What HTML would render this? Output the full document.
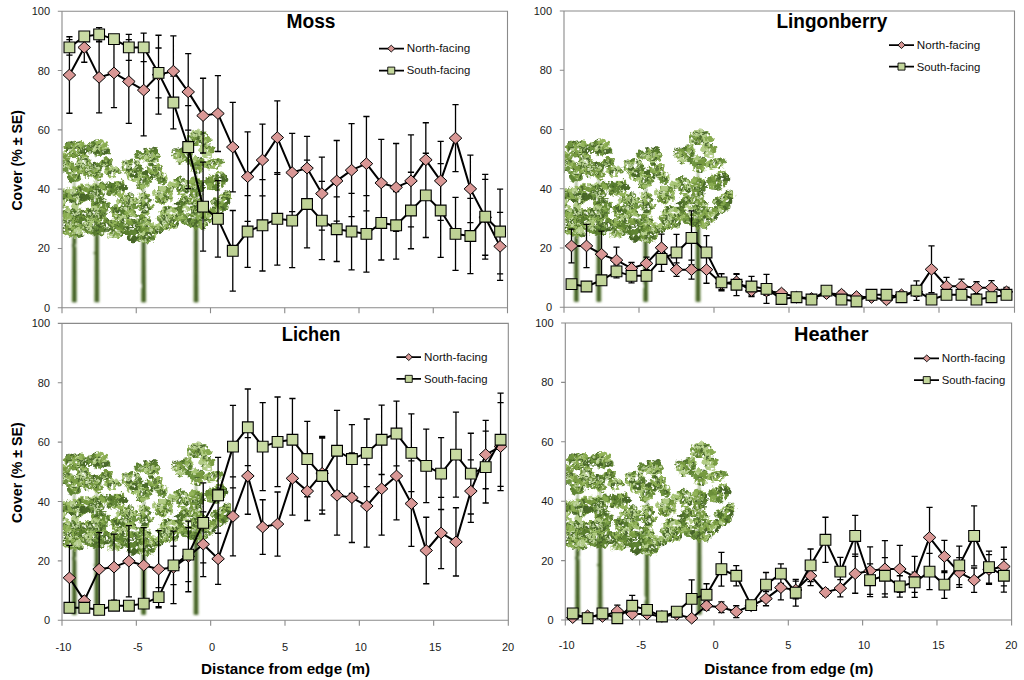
<!DOCTYPE html>
<html lang="en"><head><meta charset="utf-8"><title>Cover by distance from edge</title>
<style>html,body{margin:0;padding:0;background:#fff}body{width:1024px;height:680px;overflow:hidden}svg{display:block}.tk{font:11px 'Liberation Sans', sans-serif;fill:#1a1a1a}.ax{font:bold 14.4px 'Liberation Sans', sans-serif;fill:#000}.ti{font:bold 19.4px 'Liberation Sans', sans-serif;fill:#000}.lg{font:10.9px 'Liberation Sans', sans-serif;fill:#111}.ln{fill:none;stroke:#000;stroke-width:2;stroke-linejoin:round}</style></head><body>
<svg width="1024" height="680" viewBox="0 0 1024 680">
<defs>
<filter id="tk" x="-5%" y="-5%" width="110%" height="110%"><feTurbulence type="fractalNoise" baseFrequency="0.12" numOctaves="1" seed="2" result="n"/><feDisplacementMap in="SourceGraphic" in2="n" scale="2.2" xChannelSelector="R" yChannelSelector="G"/><feGaussianBlur stdDeviation="0.9"/></filter>
<filter id="tb" x="-5%" y="-5%" width="110%" height="110%" color-interpolation-filters="sRGB"><feTurbulence type="fractalNoise" baseFrequency="0.23" numOctaves="2" seed="4" result="n"/><feDisplacementMap in="SourceGraphic" in2="n" scale="6" xChannelSelector="R" yChannelSelector="G" result="d"/><feColorMatrix in="n" type="matrix" values="0 0 0 0 0  0 0 0 0 0  0 0 0 0 0  0 0 9 0 -2.25" result="m"/><feComposite in="d" in2="m" operator="in" result="e"/><feGaussianBlur in="e" stdDeviation="0.5"/></filter>
<linearGradient id="gs" x1="0" y1="0" x2="0" y2="1"><stop offset="0" stop-color="#c9dba4"/><stop offset="1" stop-color="#bdd193"/></linearGradient>
<clipPath id="c-moss"><rect x="62.5" y="11.25" width="445.5" height="296.5"/></clipPath>
<clipPath id="c-ling"><rect x="564.5" y="11" width="450.5" height="296.25"/></clipPath>
<clipPath id="c-lich"><rect x="62.5" y="323.4" width="446.3" height="296.85"/></clipPath>
<clipPath id="c-heat"><rect x="565.8" y="323" width="446.3" height="297"/></clipPath>
<g id="trees">
<g filter="url(#tk)"><path d="M9.8 -5.5 L10.2 -68.5 L11.9 -132.5 L12.7 -132.5 L14.4 -68.5 L14.8 -5.5 Z" fill="#64853c"/><path d="M12.5 -5.5 L12.4 -72.5" stroke="#36501e" stroke-width="2.6" fill="none" opacity=".85"/><path d="M32.3 -5.5 L32.7 -68.5 L34.4 -132.5 L35.2 -132.5 L36.9 -68.5 L37.3 -5.5 Z" fill="#64853c"/><path d="M35 -5.5 L34.9 -72.5" stroke="#36501e" stroke-width="2.6" fill="none" opacity=".85"/><path d="M79.1 -5.5 L79.5 -62 L81.2 -126 L82 -126 L83.7 -62 L84.1 -5.5 Z" fill="#64853c"/><path d="M81.8 -5.5 L81.7 -66" stroke="#36501e" stroke-width="2.6" fill="none" opacity=".85"/><path d="M131.5 -5.5 L131.9 -77 L133.6 -141 L134.4 -141 L136.1 -77 L136.5 -5.5 Z" fill="#64853c"/><path d="M134.2 -5.5 L134.1 -81" stroke="#36501e" stroke-width="2.6" fill="none" opacity=".85"/></g>
<g filter="url(#tb)">
<ellipse cx="-2.96" cy="-92.67" rx="2.67" ry="2.18" fill="#76993f"/>
<ellipse cx="15.9" cy="-160.96" rx="2.71" ry="2.22" fill="#93b45a"/>
<ellipse cx="159.68" cy="-99.91" rx="2.87" ry="2.35" fill="#7a9d43"/>
<ellipse cx="29.98" cy="-141.08" rx="3.7" ry="3.03" fill="#7a9d43"/>
<ellipse cx="35.78" cy="-138.24" rx="4.61" ry="3.77" fill="#587c2e"/>
<ellipse cx="54.8" cy="-72.14" rx="3.18" ry="2.6" fill="#9aba64"/>
<ellipse cx="11.49" cy="-152.7" rx="3.06" ry="2.5" fill="#76993f"/>
<ellipse cx="22.14" cy="-78.35" rx="4.51" ry="3.69" fill="#5f8433"/>
<ellipse cx="34.91" cy="-116.93" rx="3.2" ry="2.62" fill="#b2cc86"/>
<ellipse cx="48.83" cy="-72.93" rx="3.81" ry="3.11" fill="#b2cc86"/>
<ellipse cx="82.47" cy="-94.74" rx="3.01" ry="2.46" fill="#88ab50"/>
<ellipse cx="122.38" cy="-110.76" rx="3.64" ry="2.98" fill="#b2cc86"/>
<ellipse cx="9.04" cy="-79.89" rx="4.57" ry="3.74" fill="#93b45a"/>
<ellipse cx="14.55" cy="-117.8" rx="3.35" ry="2.74" fill="#4a6a28"/>
<ellipse cx="17.39" cy="-106.84" rx="3.18" ry="2.6" fill="#76993f"/>
<ellipse cx="71.89" cy="-89.39" rx="4.21" ry="3.44" fill="#6f9440"/>
<ellipse cx="29.73" cy="-139.37" rx="3.34" ry="2.73" fill="#9aba64"/>
<ellipse cx="55.1" cy="-94.52" rx="4.21" ry="3.45" fill="#7a9d43"/>
<ellipse cx="155.93" cy="-123.93" rx="4.58" ry="3.74" fill="#5f8433"/>
<ellipse cx="146.8" cy="-140.62" rx="2.98" ry="2.44" fill="#b2cc86"/>
<ellipse cx="20.06" cy="-149.7" rx="3.19" ry="2.61" fill="#587c2e"/>
<ellipse cx="116.73" cy="-156.82" rx="4.53" ry="3.71" fill="#4a6a28"/>
<ellipse cx="0.01" cy="-77.85" rx="3.76" ry="3.08" fill="#5f8433"/>
<ellipse cx="25.9" cy="-79.8" rx="2.7" ry="2.21" fill="#4a6a28"/>
<ellipse cx="166.12" cy="-110.93" rx="4.03" ry="3.3" fill="#93b45a"/>
<ellipse cx="52.03" cy="-73.8" rx="3.59" ry="2.94" fill="#a6c474"/>
<ellipse cx="17.71" cy="-75" rx="3.23" ry="2.64" fill="#a6c474"/>
<ellipse cx="68.23" cy="-89.26" rx="4.6" ry="3.77" fill="#6f9440"/>
<ellipse cx="49.14" cy="-80.31" rx="3.61" ry="2.95" fill="#88ab50"/>
<ellipse cx="80.14" cy="-106" rx="3" ry="2.45" fill="#88ab50"/>
<ellipse cx="16.84" cy="-105.95" rx="3.54" ry="2.9" fill="#93b45a"/>
<ellipse cx="24.83" cy="-96.1" rx="4.03" ry="3.3" fill="#88ab50"/>
<ellipse cx="9.32" cy="-88.71" rx="4.56" ry="3.73" fill="#b2cc86"/>
<ellipse cx="122.49" cy="-107.35" rx="3.58" ry="2.93" fill="#6f9440"/>
<ellipse cx="14.68" cy="-110.44" rx="3.08" ry="2.52" fill="#4a6a28"/>
<ellipse cx="16.97" cy="-164.18" rx="3.86" ry="3.15" fill="#587c2e"/>
<ellipse cx="62.16" cy="-79.62" rx="4.28" ry="3.5" fill="#88ab50"/>
<ellipse cx="7.08" cy="-79.95" rx="3.84" ry="3.14" fill="#6f9440"/>
<ellipse cx="96.02" cy="-134.76" rx="2.73" ry="2.24" fill="#b2cc86"/>
<ellipse cx="142.93" cy="-171.27" rx="2.89" ry="2.37" fill="#a6c474"/>
<ellipse cx="65.26" cy="-105.88" rx="4.46" ry="3.65" fill="#6f9440"/>
<ellipse cx="77.9" cy="-76.89" rx="2.72" ry="2.22" fill="#6f9440"/>
<ellipse cx="131.51" cy="-99.47" rx="3.55" ry="2.91" fill="#9aba64"/>
<ellipse cx="104.31" cy="-93.15" rx="4.19" ry="3.43" fill="#5f8433"/>
<ellipse cx="140.43" cy="-97.69" rx="4.24" ry="3.47" fill="#88ab50"/>
<ellipse cx="158.96" cy="-106.94" rx="3.2" ry="2.62" fill="#4a6a28"/>
<ellipse cx="99.89" cy="-84.57" rx="2.74" ry="2.24" fill="#7a9d43"/>
<ellipse cx="102.21" cy="-109.32" rx="3.83" ry="3.13" fill="#6a8e38"/>
<ellipse cx="36.27" cy="-79.15" rx="3.77" ry="3.09" fill="#6f9440"/>
<ellipse cx="14.36" cy="-92.34" rx="3.36" ry="2.75" fill="#a6c474"/>
<ellipse cx="120.52" cy="-120.19" rx="3.19" ry="2.61" fill="#93b45a"/>
<ellipse cx="121.33" cy="-123.58" rx="3.78" ry="3.09" fill="#5f8433"/>
<ellipse cx="-16.42" cy="-84.68" rx="2.86" ry="2.34" fill="#7a9d43"/>
<ellipse cx="12.32" cy="-87.93" rx="3.69" ry="3.02" fill="#5f8433"/>
<ellipse cx="132.35" cy="-119.61" rx="4.09" ry="3.35" fill="#4a6a28"/>
<ellipse cx="7.62" cy="-84.61" rx="3.6" ry="2.94" fill="#93b45a"/>
<ellipse cx="158.84" cy="-134.01" rx="3.84" ry="3.14" fill="#93b45a"/>
<ellipse cx="-0.74" cy="-116.04" rx="4.2" ry="3.44" fill="#587c2e"/>
<ellipse cx="122" cy="-107.25" rx="4.42" ry="3.62" fill="#b2cc86"/>
<ellipse cx="114.38" cy="-97.55" rx="3.88" ry="3.18" fill="#76993f"/>
<ellipse cx="26.65" cy="-91.94" rx="2.97" ry="2.43" fill="#6f9440"/>
<ellipse cx="94.78" cy="-112.8" rx="3.26" ry="2.67" fill="#9aba64"/>
<ellipse cx="-15.81" cy="-81.75" rx="3.69" ry="3.02" fill="#88ab50"/>
<ellipse cx="19.76" cy="-111.34" rx="3.35" ry="2.74" fill="#5f8433"/>
<ellipse cx="25.95" cy="-95.93" rx="4.29" ry="3.51" fill="#b2cc86"/>
<ellipse cx="152.22" cy="-121.61" rx="4.6" ry="3.76" fill="#6f9440"/>
<ellipse cx="95.58" cy="-77.43" rx="4.14" ry="3.38" fill="#88ab50"/>
<ellipse cx="67.65" cy="-93.77" rx="4.18" ry="3.42" fill="#9aba64"/>
<ellipse cx="13.19" cy="-92.97" rx="3.93" ry="3.22" fill="#6f9440"/>
<ellipse cx="-5.11" cy="-107.41" rx="4.47" ry="3.65" fill="#93b45a"/>
<ellipse cx="20.72" cy="-141.33" rx="4.49" ry="3.68" fill="#a6c474"/>
<ellipse cx="86.81" cy="-74.95" rx="2.82" ry="2.31" fill="#7a9d43"/>
<ellipse cx="63.86" cy="-104.25" rx="3.78" ry="3.09" fill="#6f9440"/>
<ellipse cx="121.52" cy="-106.22" rx="4.43" ry="3.62" fill="#88ab50"/>
<ellipse cx="31.49" cy="-76.11" rx="3.63" ry="2.97" fill="#93b45a"/>
<ellipse cx="46.36" cy="-86.13" rx="2.96" ry="2.42" fill="#93b45a"/>
<ellipse cx="64.32" cy="-144.88" rx="3.19" ry="2.61" fill="#88ab50"/>
<ellipse cx="61.01" cy="-94.52" rx="3.37" ry="2.76" fill="#587c2e"/>
<ellipse cx="109.84" cy="-82.75" rx="2.82" ry="2.31" fill="#b2cc86"/>
<ellipse cx="-12.98" cy="-81.09" rx="3.46" ry="2.83" fill="#587c2e"/>
<ellipse cx="-0.15" cy="-77.67" rx="2.84" ry="2.33" fill="#a6c474"/>
<ellipse cx="23.48" cy="-113.02" rx="4.29" ry="3.51" fill="#b2cc86"/>
<ellipse cx="104.92" cy="-80.03" rx="3.89" ry="3.19" fill="#88ab50"/>
<ellipse cx="148.58" cy="-159.18" rx="2.73" ry="2.24" fill="#76993f"/>
<ellipse cx="-14.02" cy="-82.22" rx="2.91" ry="2.38" fill="#b2cc86"/>
<ellipse cx="70.5" cy="-103.78" rx="3.82" ry="3.12" fill="#88ab50"/>
<ellipse cx="133.59" cy="-169.62" rx="4.23" ry="3.46" fill="#9aba64"/>
<ellipse cx="32.8" cy="-134.99" rx="3.32" ry="2.72" fill="#b2cc86"/>
<ellipse cx="35.5" cy="-103.86" rx="4.38" ry="3.58" fill="#b2cc86"/>
<ellipse cx="59.1" cy="-96.99" rx="4.22" ry="3.45" fill="#6a8e38"/>
<ellipse cx="108.32" cy="-91.12" rx="3.21" ry="2.62" fill="#6a8e38"/>
<ellipse cx="27.19" cy="-81.68" rx="3.96" ry="3.24" fill="#6a8e38"/>
<ellipse cx="4.61" cy="-145.09" rx="3.52" ry="2.88" fill="#7a9d43"/>
<ellipse cx="19.34" cy="-110.49" rx="4.49" ry="3.67" fill="#4a6a28"/>
<ellipse cx="25.99" cy="-86.17" rx="3.72" ry="3.05" fill="#6a8e38"/>
<ellipse cx="144.32" cy="-94.57" rx="3.08" ry="2.52" fill="#88ab50"/>
<ellipse cx="37.15" cy="-160.98" rx="3.45" ry="2.83" fill="#a6c474"/>
<ellipse cx="95.82" cy="-113.55" rx="3.43" ry="2.81" fill="#93b45a"/>
<ellipse cx="56.85" cy="-99.53" rx="2.95" ry="2.41" fill="#5f8433"/>
<ellipse cx="12.99" cy="-101.98" rx="3.95" ry="3.24" fill="#b2cc86"/>
<ellipse cx="65.46" cy="-144.12" rx="3.95" ry="3.23" fill="#76993f"/>
<ellipse cx="82.54" cy="-68.49" rx="3.23" ry="2.64" fill="#4a6a28"/>
<ellipse cx="85.35" cy="-75.93" rx="3.88" ry="3.18" fill="#9aba64"/>
<ellipse cx="18.1" cy="-109.35" rx="3.22" ry="2.63" fill="#93b45a"/>
<ellipse cx="12.04" cy="-155.75" rx="2.79" ry="2.28" fill="#6a8e38"/>
<ellipse cx="145.11" cy="-94.21" rx="3.56" ry="2.91" fill="#9aba64"/>
<ellipse cx="45.21" cy="-101.25" rx="3.02" ry="2.47" fill="#587c2e"/>
<ellipse cx="43.86" cy="-163.39" rx="2.71" ry="2.21" fill="#88ab50"/>
<ellipse cx="137.11" cy="-167.88" rx="3.43" ry="2.8" fill="#93b45a"/>
<ellipse cx="114.39" cy="-90.28" rx="3.23" ry="2.64" fill="#5f8433"/>
<ellipse cx="112.66" cy="-94.87" rx="4.2" ry="3.43" fill="#4a6a28"/>
<ellipse cx="93.15" cy="-115.08" rx="3.32" ry="2.71" fill="#b2cc86"/>
<ellipse cx="4.03" cy="-147.47" rx="2.66" ry="2.18" fill="#4a6a28"/>
<ellipse cx="78.96" cy="-69.01" rx="4.52" ry="3.7" fill="#587c2e"/>
<ellipse cx="8.8" cy="-74.97" rx="4.58" ry="3.74" fill="#88ab50"/>
<ellipse cx="83.13" cy="-154.04" rx="2.69" ry="2.2" fill="#a6c474"/>
<ellipse cx="54.33" cy="-115.95" rx="3.14" ry="2.57" fill="#9aba64"/>
<ellipse cx="35.3" cy="-95.42" rx="3.35" ry="2.74" fill="#4a6a28"/>
<ellipse cx="25.88" cy="-83.23" rx="2.65" ry="2.16" fill="#6f9440"/>
<ellipse cx="13.91" cy="-131.19" rx="3.63" ry="2.97" fill="#93b45a"/>
<ellipse cx="28.9" cy="-159.49" rx="4.34" ry="3.55" fill="#7a9d43"/>
<ellipse cx="113.74" cy="-153.79" rx="3.98" ry="3.26" fill="#6a8e38"/>
<ellipse cx="64.06" cy="-138.68" rx="3.74" ry="3.06" fill="#6a8e38"/>
<ellipse cx="2" cy="-82.06" rx="3.11" ry="2.55" fill="#4a6a28"/>
<ellipse cx="149.22" cy="-129.37" rx="2.93" ry="2.4" fill="#88ab50"/>
<ellipse cx="116.83" cy="-120.88" rx="2.94" ry="2.41" fill="#b2cc86"/>
<ellipse cx="14.39" cy="-95.36" rx="3.22" ry="2.63" fill="#b2cc86"/>
<ellipse cx="68.81" cy="-134.07" rx="4.38" ry="3.59" fill="#6a8e38"/>
<ellipse cx="136.51" cy="-126.24" rx="4.08" ry="3.34" fill="#93b45a"/>
<ellipse cx="78.53" cy="-121.2" rx="3.69" ry="3.02" fill="#6a8e38"/>
<ellipse cx="117.47" cy="-146.36" rx="3.37" ry="2.75" fill="#93b45a"/>
<ellipse cx="80.28" cy="-89.48" rx="4.49" ry="3.68" fill="#76993f"/>
<ellipse cx="-3.56" cy="-145.84" rx="4.1" ry="3.36" fill="#76993f"/>
<ellipse cx="9.91" cy="-85.82" rx="3.62" ry="2.96" fill="#587c2e"/>
<ellipse cx="46.99" cy="-85.12" rx="4.03" ry="3.3" fill="#76993f"/>
<ellipse cx="35.35" cy="-93.68" rx="4.49" ry="3.67" fill="#76993f"/>
<ellipse cx="153.83" cy="-145.34" rx="4.6" ry="3.76" fill="#5f8433"/>
<ellipse cx="17.6" cy="-159.26" rx="3.94" ry="3.22" fill="#76993f"/>
<ellipse cx="147.49" cy="-86.89" rx="3.3" ry="2.7" fill="#88ab50"/>
<ellipse cx="35.73" cy="-105.54" rx="4.32" ry="3.54" fill="#6f9440"/>
<ellipse cx="86.83" cy="-107.46" rx="2.77" ry="2.27" fill="#587c2e"/>
<ellipse cx="8.34" cy="-112.49" rx="4.53" ry="3.7" fill="#b2cc86"/>
<ellipse cx="71.75" cy="-108.09" rx="2.98" ry="2.44" fill="#a6c474"/>
<ellipse cx="102.73" cy="-118.33" rx="3.6" ry="2.95" fill="#76993f"/>
<ellipse cx="2.31" cy="-113.76" rx="3.02" ry="2.47" fill="#6f9440"/>
<ellipse cx="-3.54" cy="-97.35" rx="4.49" ry="3.67" fill="#b2cc86"/>
<ellipse cx="81.08" cy="-87.32" rx="4" ry="3.27" fill="#587c2e"/>
<ellipse cx="130" cy="-171.86" rx="4.11" ry="3.36" fill="#587c2e"/>
<ellipse cx="123.38" cy="-88.69" rx="2.78" ry="2.27" fill="#5f8433"/>
<ellipse cx="14.82" cy="-85.99" rx="2.87" ry="2.35" fill="#a6c474"/>
<ellipse cx="107.17" cy="-98.96" rx="4.45" ry="3.64" fill="#88ab50"/>
<ellipse cx="44.16" cy="-80.68" rx="2.73" ry="2.23" fill="#6a8e38"/>
<ellipse cx="135" cy="-137.35" rx="3.5" ry="2.87" fill="#9aba64"/>
<ellipse cx="131.17" cy="-142.96" rx="4.23" ry="3.46" fill="#93b45a"/>
<ellipse cx="51.25" cy="-134.93" rx="3.67" ry="3" fill="#5f8433"/>
<ellipse cx="21.79" cy="-94.37" rx="4.27" ry="3.49" fill="#9aba64"/>
<ellipse cx="154.1" cy="-146.17" rx="4.53" ry="3.71" fill="#7a9d43"/>
<ellipse cx="64.03" cy="-140.68" rx="4.47" ry="3.65" fill="#5f8433"/>
<ellipse cx="27.48" cy="-138.52" rx="3.16" ry="2.58" fill="#b2cc86"/>
<ellipse cx="9.5" cy="-108.11" rx="3.54" ry="2.9" fill="#4a6a28"/>
<ellipse cx="137.42" cy="-173.37" rx="3.18" ry="2.6" fill="#5f8433"/>
<ellipse cx="35.39" cy="-111.98" rx="3.62" ry="2.96" fill="#7a9d43"/>
<ellipse cx="46.71" cy="-81.28" rx="4.59" ry="3.76" fill="#5f8433"/>
<ellipse cx="120.26" cy="-116.47" rx="3.83" ry="3.13" fill="#6f9440"/>
<ellipse cx="86.86" cy="-82.03" rx="4.35" ry="3.56" fill="#a6c474"/>
<ellipse cx="51.67" cy="-114.6" rx="4.23" ry="3.46" fill="#4a6a28"/>
<ellipse cx="90.29" cy="-76.81" rx="3.34" ry="2.73" fill="#93b45a"/>
<ellipse cx="120.54" cy="-100.7" rx="3.65" ry="2.99" fill="#b2cc86"/>
<ellipse cx="105.55" cy="-97.24" rx="4.37" ry="3.57" fill="#b2cc86"/>
<ellipse cx="104.21" cy="-90.56" rx="3.92" ry="3.21" fill="#a6c474"/>
<ellipse cx="49.27" cy="-133.54" rx="4.02" ry="3.29" fill="#9aba64"/>
<ellipse cx="7.77" cy="-82.34" rx="4.2" ry="3.44" fill="#9aba64"/>
<ellipse cx="62.52" cy="-100.49" rx="3.13" ry="2.56" fill="#4a6a28"/>
<ellipse cx="107.06" cy="-85.23" rx="2.96" ry="2.42" fill="#6a8e38"/>
<ellipse cx="24.84" cy="-80.86" rx="4.02" ry="3.29" fill="#a6c474"/>
<ellipse cx="98.92" cy="-117.6" rx="2.95" ry="2.41" fill="#7a9d43"/>
<ellipse cx="7.71" cy="-85.24" rx="3.14" ry="2.57" fill="#7a9d43"/>
<ellipse cx="83.73" cy="-72.29" rx="3.62" ry="2.96" fill="#a6c474"/>
<ellipse cx="11.32" cy="-115.08" rx="3.99" ry="3.27" fill="#7a9d43"/>
<ellipse cx="32.4" cy="-92.88" rx="3.41" ry="2.79" fill="#4a6a28"/>
<ellipse cx="151.72" cy="-106.2" rx="3.21" ry="2.62" fill="#a6c474"/>
<ellipse cx="53.9" cy="-137.28" rx="3.02" ry="2.47" fill="#93b45a"/>
<ellipse cx="134.25" cy="-87" rx="3.02" ry="2.47" fill="#76993f"/>
<ellipse cx="64.7" cy="-97.62" rx="4.02" ry="3.29" fill="#a6c474"/>
<ellipse cx="41.93" cy="-81.64" rx="3.75" ry="3.07" fill="#76993f"/>
<ellipse cx="-8.52" cy="-112.03" rx="3.83" ry="3.13" fill="#7a9d43"/>
<ellipse cx="155.84" cy="-107.02" rx="4.49" ry="3.68" fill="#b2cc86"/>
<ellipse cx="25.31" cy="-77.42" rx="4.39" ry="3.59" fill="#6a8e38"/>
<ellipse cx="102.96" cy="-107.43" rx="3.05" ry="2.49" fill="#76993f"/>
<ellipse cx="5.29" cy="-88.36" rx="4.43" ry="3.62" fill="#76993f"/>
<ellipse cx="45.93" cy="-104.19" rx="3.19" ry="2.61" fill="#9aba64"/>
<ellipse cx="133.26" cy="-84.67" rx="4.47" ry="3.66" fill="#9aba64"/>
<ellipse cx="85.1" cy="-85.63" rx="3.42" ry="2.8" fill="#5f8433"/>
<ellipse cx="7.93" cy="-143.39" rx="4.1" ry="3.35" fill="#587c2e"/>
<ellipse cx="40.39" cy="-85.5" rx="3.38" ry="2.77" fill="#b2cc86"/>
<ellipse cx="55.09" cy="-137.53" rx="3.33" ry="2.72" fill="#7a9d43"/>
<ellipse cx="24.23" cy="-138.65" rx="3.59" ry="2.94" fill="#b2cc86"/>
<ellipse cx="84.12" cy="-123.79" rx="3.31" ry="2.7" fill="#76993f"/>
<ellipse cx="65.37" cy="-103.53" rx="3.36" ry="2.75" fill="#76993f"/>
<ellipse cx="32.9" cy="-114.63" rx="3.86" ry="3.16" fill="#4a6a28"/>
<ellipse cx="33.88" cy="-129.95" rx="2.85" ry="2.34" fill="#a6c474"/>
<ellipse cx="150.14" cy="-144.94" rx="4.4" ry="3.6" fill="#9aba64"/>
<ellipse cx="41.37" cy="-82.52" rx="4.52" ry="3.7" fill="#6a8e38"/>
<ellipse cx="41" cy="-98.58" rx="3.91" ry="3.2" fill="#5f8433"/>
<ellipse cx="49.73" cy="-81.54" rx="3.82" ry="3.12" fill="#4a6a28"/>
<ellipse cx="50.99" cy="-73.7" rx="3.4" ry="2.78" fill="#5f8433"/>
<ellipse cx="16.24" cy="-97.06" rx="3.06" ry="2.5" fill="#76993f"/>
<ellipse cx="55.26" cy="-83.81" rx="3.45" ry="2.83" fill="#a6c474"/>
<ellipse cx="75.77" cy="-74.16" rx="4.48" ry="3.67" fill="#93b45a"/>
<ellipse cx="116" cy="-151.99" rx="4.43" ry="3.63" fill="#b2cc86"/>
<ellipse cx="25.24" cy="-110.67" rx="4.51" ry="3.69" fill="#5f8433"/>
<ellipse cx="9.74" cy="-152.96" rx="4.14" ry="3.39" fill="#6a8e38"/>
<ellipse cx="78.58" cy="-101.08" rx="2.72" ry="2.23" fill="#5f8433"/>
<ellipse cx="10.28" cy="-84.68" rx="3.82" ry="3.12" fill="#9aba64"/>
<ellipse cx="102.2" cy="-87.84" rx="2.91" ry="2.38" fill="#5f8433"/>
<ellipse cx="117.44" cy="-152.74" rx="4.58" ry="3.75" fill="#76993f"/>
<ellipse cx="26.12" cy="-138.32" rx="3.64" ry="2.97" fill="#a6c474"/>
<ellipse cx="104.15" cy="-87.53" rx="3.1" ry="2.53" fill="#587c2e"/>
<ellipse cx="82.9" cy="-111.94" rx="2.74" ry="2.24" fill="#6a8e38"/>
<ellipse cx="33.81" cy="-87.23" rx="3.97" ry="3.25" fill="#6f9440"/>
<ellipse cx="26.27" cy="-138.41" rx="4.61" ry="3.77" fill="#b2cc86"/>
<ellipse cx="136.52" cy="-170.66" rx="2.71" ry="2.22" fill="#b2cc86"/>
<ellipse cx="157.95" cy="-131.92" rx="3.57" ry="2.92" fill="#93b45a"/>
<ellipse cx="16.61" cy="-110.26" rx="4.2" ry="3.44" fill="#76993f"/>
<ellipse cx="133.3" cy="-99.01" rx="4.16" ry="3.41" fill="#4a6a28"/>
<ellipse cx="108.96" cy="-87.19" rx="3.92" ry="3.21" fill="#88ab50"/>
<ellipse cx="16.65" cy="-94.81" rx="3.41" ry="2.79" fill="#88ab50"/>
<ellipse cx="39.92" cy="-119.36" rx="4.52" ry="3.7" fill="#6a8e38"/>
<ellipse cx="114.79" cy="-153.01" rx="3.08" ry="2.52" fill="#b2cc86"/>
<ellipse cx="105.24" cy="-116.73" rx="3.38" ry="2.77" fill="#5f8433"/>
<ellipse cx="14.12" cy="-131.03" rx="4.14" ry="3.39" fill="#7a9d43"/>
<ellipse cx="36" cy="-91.36" rx="2.78" ry="2.28" fill="#587c2e"/>
<ellipse cx="84.75" cy="-150.72" rx="3.93" ry="3.22" fill="#7a9d43"/>
<ellipse cx="35.23" cy="-113.71" rx="3.3" ry="2.7" fill="#a6c474"/>
<ellipse cx="37.63" cy="-113.36" rx="3.53" ry="2.89" fill="#4a6a28"/>
<ellipse cx="80.29" cy="-68.04" rx="3.41" ry="2.79" fill="#b2cc86"/>
<ellipse cx="-6.36" cy="-142.85" rx="2.81" ry="2.3" fill="#5f8433"/>
<ellipse cx="65.51" cy="-89.55" rx="3.19" ry="2.61" fill="#6f9440"/>
<ellipse cx="132.37" cy="-96.61" rx="3.89" ry="3.18" fill="#7a9d43"/>
<ellipse cx="139.01" cy="-145.53" rx="4.47" ry="3.66" fill="#6a8e38"/>
<ellipse cx="101.4" cy="-89.76" rx="3.65" ry="2.99" fill="#7a9d43"/>
<ellipse cx="134.11" cy="-110.19" rx="2.7" ry="2.21" fill="#93b45a"/>
<ellipse cx="96" cy="-130.69" rx="3.48" ry="2.85" fill="#6f9440"/>
<ellipse cx="29.89" cy="-94.13" rx="4.53" ry="3.71" fill="#9aba64"/>
<ellipse cx="64.6" cy="-136.48" rx="3.42" ry="2.8" fill="#7a9d43"/>
<ellipse cx="3.88" cy="-75.52" rx="4.57" ry="3.74" fill="#88ab50"/>
<ellipse cx="119.73" cy="-116.65" rx="3.08" ry="2.52" fill="#4a6a28"/>
<ellipse cx="91.61" cy="-132.13" rx="3.91" ry="3.2" fill="#76993f"/>
<ellipse cx="124.99" cy="-152.54" rx="3.26" ry="2.66" fill="#76993f"/>
<ellipse cx="146" cy="-154.21" rx="3.64" ry="2.98" fill="#88ab50"/>
<ellipse cx="91.21" cy="-137.83" rx="2.69" ry="2.2" fill="#5f8433"/>
<ellipse cx="88.56" cy="-152.22" rx="3.57" ry="2.92" fill="#9aba64"/>
<ellipse cx="157.04" cy="-142.39" rx="3.56" ry="2.91" fill="#b2cc86"/>
<ellipse cx="127.1" cy="-83.03" rx="3.04" ry="2.49" fill="#6f9440"/>
<ellipse cx="62.33" cy="-78.94" rx="3.56" ry="2.91" fill="#5f8433"/>
<ellipse cx="15.71" cy="-114.92" rx="2.95" ry="2.41" fill="#a6c474"/>
<ellipse cx="57.92" cy="-96.44" rx="3.57" ry="2.92" fill="#7a9d43"/>
<ellipse cx="164.77" cy="-109.92" rx="3.78" ry="3.09" fill="#7a9d43"/>
<ellipse cx="124.54" cy="-123.46" rx="3.37" ry="2.76" fill="#4a6a28"/>
<ellipse cx="133.26" cy="-89.01" rx="4.21" ry="3.44" fill="#a6c474"/>
<ellipse cx="49.68" cy="-133.17" rx="4.4" ry="3.6" fill="#9aba64"/>
<ellipse cx="121.74" cy="-125.07" rx="3.9" ry="3.19" fill="#88ab50"/>
<ellipse cx="29.84" cy="-162.1" rx="3.87" ry="3.17" fill="#7a9d43"/>
<ellipse cx="15.01" cy="-111.59" rx="4.43" ry="3.63" fill="#76993f"/>
<ellipse cx="104.67" cy="-92.58" rx="3.25" ry="2.66" fill="#a6c474"/>
<ellipse cx="70.39" cy="-88.35" rx="3.87" ry="3.17" fill="#9aba64"/>
<ellipse cx="21.71" cy="-95.21" rx="4.1" ry="3.35" fill="#76993f"/>
<ellipse cx="80.13" cy="-73.65" rx="2.96" ry="2.42" fill="#b2cc86"/>
<ellipse cx="2.94" cy="-78.44" rx="4.08" ry="3.34" fill="#76993f"/>
<ellipse cx="100.8" cy="-106.66" rx="4.04" ry="3.31" fill="#88ab50"/>
<ellipse cx="109.35" cy="-90.51" rx="2.88" ry="2.35" fill="#9aba64"/>
<ellipse cx="118.7" cy="-90.92" rx="4.5" ry="3.68" fill="#76993f"/>
<ellipse cx="33.63" cy="-138.23" rx="3.51" ry="2.87" fill="#b2cc86"/>
<ellipse cx="2.68" cy="-145.53" rx="3.72" ry="3.04" fill="#b2cc86"/>
<ellipse cx="13.76" cy="-81.65" rx="3.75" ry="3.07" fill="#587c2e"/>
<ellipse cx="31.06" cy="-90.71" rx="3.83" ry="3.13" fill="#88ab50"/>
<ellipse cx="73.64" cy="-137.18" rx="2.74" ry="2.24" fill="#6f9440"/>
<ellipse cx="135.46" cy="-169.63" rx="3.99" ry="3.26" fill="#7a9d43"/>
<ellipse cx="36.71" cy="-154.61" rx="3.94" ry="3.23" fill="#6f9440"/>
<ellipse cx="68.72" cy="-132.31" rx="3.89" ry="3.18" fill="#88ab50"/>
<ellipse cx="16.07" cy="-107.37" rx="3.96" ry="3.24" fill="#6a8e38"/>
<ellipse cx="23.27" cy="-115" rx="4.3" ry="3.52" fill="#76993f"/>
<ellipse cx="32.76" cy="-103.62" rx="4.6" ry="3.76" fill="#76993f"/>
<ellipse cx="25.91" cy="-134.83" rx="3.41" ry="2.79" fill="#88ab50"/>
<ellipse cx="87.25" cy="-68.54" rx="4.22" ry="3.45" fill="#6a8e38"/>
<ellipse cx="88.64" cy="-150.33" rx="4.5" ry="3.68" fill="#6a8e38"/>
<ellipse cx="78.12" cy="-126.09" rx="3.37" ry="2.76" fill="#5f8433"/>
<ellipse cx="120.21" cy="-104.11" rx="3.17" ry="2.59" fill="#587c2e"/>
<ellipse cx="-3.26" cy="-138.74" rx="4.01" ry="3.28" fill="#88ab50"/>
<ellipse cx="119.58" cy="-102.11" rx="4.13" ry="3.38" fill="#7a9d43"/>
<ellipse cx="13.18" cy="-137.81" rx="3.82" ry="3.13" fill="#76993f"/>
<ellipse cx="27.61" cy="-82.39" rx="3.31" ry="2.7" fill="#587c2e"/>
<ellipse cx="81.62" cy="-153.81" rx="3.97" ry="3.25" fill="#6a8e38"/>
<ellipse cx="54.26" cy="-91.62" rx="4.29" ry="3.51" fill="#7a9d43"/>
<ellipse cx="109.51" cy="-95.94" rx="3.94" ry="3.22" fill="#4a6a28"/>
<ellipse cx="153.76" cy="-130.11" rx="3.65" ry="2.98" fill="#9aba64"/>
<ellipse cx="105.01" cy="-84.06" rx="4.18" ry="3.42" fill="#6a8e38"/>
<ellipse cx="138.78" cy="-146.31" rx="2.82" ry="2.31" fill="#6a8e38"/>
<ellipse cx="109.2" cy="-84.47" rx="4.4" ry="3.6" fill="#b2cc86"/>
<ellipse cx="36.04" cy="-141.98" rx="4.25" ry="3.48" fill="#6a8e38"/>
<ellipse cx="153.18" cy="-98.2" rx="3.68" ry="3.01" fill="#6f9440"/>
<ellipse cx="109.06" cy="-94.64" rx="3.02" ry="2.47" fill="#6a8e38"/>
<ellipse cx="9.88" cy="-73.33" rx="3.08" ry="2.52" fill="#b2cc86"/>
<ellipse cx="107.57" cy="-115.16" rx="3.96" ry="3.24" fill="#76993f"/>
<ellipse cx="94.43" cy="-132.95" rx="2.66" ry="2.18" fill="#6a8e38"/>
<ellipse cx="54.8" cy="-73.62" rx="4.09" ry="3.35" fill="#b2cc86"/>
<ellipse cx="67.34" cy="-91.5" rx="3.57" ry="2.92" fill="#88ab50"/>
<ellipse cx="88.42" cy="-137.5" rx="4.01" ry="3.28" fill="#7a9d43"/>
<ellipse cx="14.32" cy="-95.2" rx="2.99" ry="2.45" fill="#88ab50"/>
<ellipse cx="132.36" cy="-88.49" rx="4.52" ry="3.7" fill="#5f8433"/>
<ellipse cx="126.43" cy="-153.9" rx="4.28" ry="3.5" fill="#5f8433"/>
<ellipse cx="63.11" cy="-82.02" rx="2.76" ry="2.26" fill="#5f8433"/>
<ellipse cx="63.88" cy="-107.28" rx="3.26" ry="2.66" fill="#6f9440"/>
<ellipse cx="42.49" cy="-104.74" rx="2.79" ry="2.28" fill="#5f8433"/>
<ellipse cx="91.34" cy="-72.47" rx="3.7" ry="3.03" fill="#a6c474"/>
<ellipse cx="99.93" cy="-113.34" rx="4.14" ry="3.39" fill="#a6c474"/>
<ellipse cx="65.7" cy="-100.92" rx="2.87" ry="2.35" fill="#6a8e38"/>
<ellipse cx="51.21" cy="-81.85" rx="3.7" ry="3.03" fill="#88ab50"/>
<ellipse cx="61.61" cy="-91.05" rx="2.9" ry="2.37" fill="#6a8e38"/>
<ellipse cx="10.09" cy="-115.7" rx="4.02" ry="3.29" fill="#93b45a"/>
<ellipse cx="12.87" cy="-91.71" rx="2.88" ry="2.35" fill="#6f9440"/>
<ellipse cx="151.43" cy="-125.87" rx="4.28" ry="3.5" fill="#6f9440"/>
<ellipse cx="27.06" cy="-142.56" rx="4.52" ry="3.7" fill="#6f9440"/>
<ellipse cx="58.58" cy="-104.04" rx="2.7" ry="2.21" fill="#4a6a28"/>
<ellipse cx="21.04" cy="-109.3" rx="4.07" ry="3.33" fill="#5f8433"/>
<ellipse cx="63.84" cy="-85.21" rx="3.98" ry="3.26" fill="#4a6a28"/>
<ellipse cx="36.05" cy="-165.29" rx="4.16" ry="3.4" fill="#88ab50"/>
<ellipse cx="40.92" cy="-97.45" rx="2.67" ry="2.19" fill="#88ab50"/>
<ellipse cx="153.51" cy="-106.81" rx="4.2" ry="3.43" fill="#6a8e38"/>
<ellipse cx="16.87" cy="-152.32" rx="2.74" ry="2.24" fill="#76993f"/>
<ellipse cx="49.83" cy="-115.87" rx="3.14" ry="2.57" fill="#b2cc86"/>
<ellipse cx="127.51" cy="-166.54" rx="3.43" ry="2.8" fill="#7a9d43"/>
<ellipse cx="85.37" cy="-156.39" rx="3.07" ry="2.51" fill="#76993f"/>
<ellipse cx="15.93" cy="-93.25" rx="4.02" ry="3.29" fill="#88ab50"/>
<ellipse cx="141.86" cy="-172.4" rx="4.09" ry="3.35" fill="#6f9440"/>
<ellipse cx="135.75" cy="-83.57" rx="4.58" ry="3.75" fill="#76993f"/>
<ellipse cx="18.92" cy="-120.71" rx="3.41" ry="2.79" fill="#b2cc86"/>
<ellipse cx="15.32" cy="-75.3" rx="3.9" ry="3.19" fill="#b2cc86"/>
<ellipse cx="19.36" cy="-146.82" rx="2.88" ry="2.35" fill="#93b45a"/>
<ellipse cx="16.85" cy="-76.05" rx="4.3" ry="3.52" fill="#a6c474"/>
<ellipse cx="35.83" cy="-140.49" rx="2.66" ry="2.18" fill="#b2cc86"/>
<ellipse cx="24.74" cy="-159.43" rx="4.3" ry="3.52" fill="#b2cc86"/>
<ellipse cx="135.49" cy="-83.01" rx="3.2" ry="2.62" fill="#a6c474"/>
<ellipse cx="72.81" cy="-102.03" rx="3.08" ry="2.52" fill="#7a9d43"/>
<ellipse cx="41.22" cy="-156.48" rx="3.96" ry="3.24" fill="#5f8433"/>
<ellipse cx="25.31" cy="-146.74" rx="3.4" ry="2.78" fill="#6a8e38"/>
<ellipse cx="33.46" cy="-133.39" rx="3.17" ry="2.59" fill="#587c2e"/>
<ellipse cx="138.57" cy="-103.75" rx="4.38" ry="3.59" fill="#6a8e38"/>
<ellipse cx="63.39" cy="-143.61" rx="4.49" ry="3.67" fill="#9aba64"/>
<ellipse cx="7.53" cy="-91.85" rx="3.38" ry="2.76" fill="#88ab50"/>
<ellipse cx="98.65" cy="-106.34" rx="4.12" ry="3.37" fill="#76993f"/>
<ellipse cx="154.87" cy="-128.68" rx="4.09" ry="3.35" fill="#7a9d43"/>
<ellipse cx="10.97" cy="-113.93" rx="3.21" ry="2.62" fill="#9aba64"/>
<ellipse cx="7.52" cy="-82.42" rx="3.98" ry="3.25" fill="#b2cc86"/>
<ellipse cx="125.66" cy="-105.85" rx="2.88" ry="2.35" fill="#5f8433"/>
<ellipse cx="139.19" cy="-93" rx="4.14" ry="3.39" fill="#587c2e"/>
<ellipse cx="13.28" cy="-72.52" rx="3.26" ry="2.67" fill="#a6c474"/>
<ellipse cx="18.89" cy="-111.26" rx="2.9" ry="2.37" fill="#4a6a28"/>
<ellipse cx="89.1" cy="-141.38" rx="4.51" ry="3.69" fill="#a6c474"/>
<ellipse cx="76.35" cy="-91.76" rx="2.87" ry="2.34" fill="#587c2e"/>
<ellipse cx="91.7" cy="-78.62" rx="2.91" ry="2.38" fill="#93b45a"/>
<ellipse cx="83.83" cy="-85.09" rx="3.14" ry="2.57" fill="#5f8433"/>
<ellipse cx="36" cy="-76.54" rx="2.92" ry="2.39" fill="#93b45a"/>
<ellipse cx="45.68" cy="-81.78" rx="4.2" ry="3.44" fill="#4a6a28"/>
<ellipse cx="56.78" cy="-136.3" rx="3.07" ry="2.51" fill="#6a8e38"/>
<ellipse cx="39.46" cy="-112.82" rx="2.69" ry="2.2" fill="#93b45a"/>
<ellipse cx="118.13" cy="-121.6" rx="3.81" ry="3.12" fill="#b2cc86"/>
<ellipse cx="136.27" cy="-140.89" rx="3.51" ry="2.87" fill="#76993f"/>
<ellipse cx="125.07" cy="-159.04" rx="2.69" ry="2.2" fill="#6a8e38"/>
<ellipse cx="86.43" cy="-153.15" rx="3.48" ry="2.85" fill="#88ab50"/>
<ellipse cx="132.63" cy="-138.01" rx="3.56" ry="2.92" fill="#9aba64"/>
<ellipse cx="94.04" cy="-80.65" rx="4.52" ry="3.7" fill="#a6c474"/>
<ellipse cx="34.22" cy="-164.71" rx="4.54" ry="3.71" fill="#587c2e"/>
<ellipse cx="103.36" cy="-84.86" rx="4.09" ry="3.34" fill="#6f9440"/>
<ellipse cx="57.87" cy="-96.21" rx="4.62" ry="3.78" fill="#6f9440"/>
<ellipse cx="96.18" cy="-109.66" rx="4.05" ry="3.31" fill="#a6c474"/>
<ellipse cx="7.18" cy="-85.13" rx="3.99" ry="3.26" fill="#6a8e38"/>
<ellipse cx="127.38" cy="-148.96" rx="2.79" ry="2.28" fill="#6a8e38"/>
<ellipse cx="66.35" cy="-101.88" rx="3.53" ry="2.89" fill="#93b45a"/>
<ellipse cx="56.52" cy="-77.2" rx="3.05" ry="2.5" fill="#6f9440"/>
<ellipse cx="15.26" cy="-76.33" rx="3.7" ry="3.03" fill="#88ab50"/>
<ellipse cx="81.45" cy="-133.52" rx="4.6" ry="3.76" fill="#76993f"/>
<ellipse cx="70.55" cy="-105.99" rx="4.14" ry="3.39" fill="#6a8e38"/>
<ellipse cx="19.31" cy="-159.55" rx="3.15" ry="2.58" fill="#6f9440"/>
<ellipse cx="95.13" cy="-132.27" rx="3.77" ry="3.08" fill="#76993f"/>
<ellipse cx="61.13" cy="-101.76" rx="3.64" ry="2.98" fill="#88ab50"/>
<ellipse cx="31.21" cy="-76.38" rx="3.99" ry="3.26" fill="#6a8e38"/>
<ellipse cx="18.52" cy="-148.47" rx="4.24" ry="3.47" fill="#b2cc86"/>
<ellipse cx="74.91" cy="-144.68" rx="2.96" ry="2.42" fill="#4a6a28"/>
<ellipse cx="48.88" cy="-115.82" rx="4.29" ry="3.51" fill="#88ab50"/>
<ellipse cx="117.48" cy="-119.34" rx="3.51" ry="2.87" fill="#6a8e38"/>
<ellipse cx="-3.54" cy="-85.85" rx="4.17" ry="3.41" fill="#7a9d43"/>
<ellipse cx="62.34" cy="-97.59" rx="4.43" ry="3.63" fill="#88ab50"/>
<ellipse cx="25.34" cy="-97.84" rx="2.7" ry="2.21" fill="#76993f"/>
<ellipse cx="35.91" cy="-113.2" rx="3.19" ry="2.61" fill="#9aba64"/>
<ellipse cx="50.02" cy="-139.17" rx="3.62" ry="2.96" fill="#88ab50"/>
<ellipse cx="39.12" cy="-107.66" rx="4.13" ry="3.38" fill="#88ab50"/>
<ellipse cx="101.18" cy="-86.95" rx="4.49" ry="3.67" fill="#6f9440"/>
<ellipse cx="159.69" cy="-124.84" rx="3.99" ry="3.26" fill="#4a6a28"/>
<ellipse cx="2.53" cy="-152.91" rx="3.34" ry="2.73" fill="#9aba64"/>
<ellipse cx="0.12" cy="-82.57" rx="4.38" ry="3.59" fill="#b2cc86"/>
<ellipse cx="16.58" cy="-85.19" rx="2.8" ry="2.29" fill="#6a8e38"/>
<ellipse cx="32.84" cy="-92.3" rx="4.6" ry="3.76" fill="#7a9d43"/>
<ellipse cx="157.49" cy="-120.25" rx="2.64" ry="2.16" fill="#9aba64"/>
<ellipse cx="19.04" cy="-108.66" rx="4.36" ry="3.56" fill="#88ab50"/>
<ellipse cx="115.52" cy="-122.68" rx="3.59" ry="2.94" fill="#b2cc86"/>
<ellipse cx="33.66" cy="-141.62" rx="3.28" ry="2.68" fill="#587c2e"/>
<ellipse cx="31.82" cy="-96.23" rx="3.01" ry="2.46" fill="#4a6a28"/>
<ellipse cx="78.79" cy="-128.22" rx="4.35" ry="3.56" fill="#5f8433"/>
<ellipse cx="149.45" cy="-120.79" rx="3.79" ry="3.1" fill="#4a6a28"/>
<ellipse cx="3.71" cy="-93.22" rx="2.9" ry="2.37" fill="#9aba64"/>
<ellipse cx="147.28" cy="-159.79" rx="3.07" ry="2.51" fill="#587c2e"/>
<ellipse cx="159.33" cy="-132.31" rx="3.09" ry="2.52" fill="#7a9d43"/>
<ellipse cx="98.52" cy="-107.88" rx="3.45" ry="2.83" fill="#4a6a28"/>
<ellipse cx="17.38" cy="-115.49" rx="2.74" ry="2.24" fill="#b2cc86"/>
<ellipse cx="28.18" cy="-81.3" rx="4.32" ry="3.53" fill="#76993f"/>
<ellipse cx="32.99" cy="-117" rx="3.7" ry="3.02" fill="#9aba64"/>
<ellipse cx="-1.1" cy="-110.36" rx="3.41" ry="2.79" fill="#76993f"/>
<ellipse cx="69.14" cy="-70.56" rx="3.43" ry="2.81" fill="#6f9440"/>
<ellipse cx="93.05" cy="-132.65" rx="4.5" ry="3.68" fill="#4a6a28"/>
<ellipse cx="-2.53" cy="-98.82" rx="3.04" ry="2.48" fill="#b2cc86"/>
<ellipse cx="118.71" cy="-126.25" rx="4.4" ry="3.6" fill="#5f8433"/>
<ellipse cx="163.73" cy="-114.37" rx="3.9" ry="3.19" fill="#587c2e"/>
<ellipse cx="157.27" cy="-105.95" rx="3.3" ry="2.7" fill="#b2cc86"/>
<ellipse cx="14.41" cy="-129.56" rx="4.6" ry="3.76" fill="#6f9440"/>
<ellipse cx="7.76" cy="-84.62" rx="3.85" ry="3.15" fill="#6f9440"/>
<ellipse cx="32.94" cy="-96.35" rx="4.12" ry="3.37" fill="#9aba64"/>
<ellipse cx="13.02" cy="-112.32" rx="4.24" ry="3.47" fill="#76993f"/>
<ellipse cx="-10.52" cy="-113.29" rx="3.7" ry="3.03" fill="#93b45a"/>
<ellipse cx="118.4" cy="-127.53" rx="2.92" ry="2.39" fill="#5f8433"/>
<ellipse cx="68.98" cy="-71.05" rx="4.17" ry="3.42" fill="#4a6a28"/>
<ellipse cx="35.77" cy="-92.19" rx="3.45" ry="2.83" fill="#587c2e"/>
<ellipse cx="16.61" cy="-72.71" rx="3.53" ry="2.89" fill="#5f8433"/>
<ellipse cx="-8.43" cy="-87.44" rx="4.2" ry="3.44" fill="#76993f"/>
<ellipse cx="134.62" cy="-126.13" rx="3.1" ry="2.54" fill="#7a9d43"/>
<ellipse cx="-15.63" cy="-82.14" rx="3.95" ry="3.23" fill="#6a8e38"/>
<ellipse cx="36.39" cy="-110.95" rx="4.56" ry="3.73" fill="#5f8433"/>
<ellipse cx="28.15" cy="-81.37" rx="4.5" ry="3.68" fill="#9aba64"/>
<ellipse cx="108.56" cy="-97.81" rx="4.01" ry="3.28" fill="#9aba64"/>
<ellipse cx="68.18" cy="-109.17" rx="3.18" ry="2.6" fill="#a6c474"/>
<ellipse cx="108.46" cy="-114.26" rx="3.43" ry="2.81" fill="#9aba64"/>
<ellipse cx="34.06" cy="-139.4" rx="3.4" ry="2.78" fill="#93b45a"/>
<ellipse cx="90.09" cy="-154.62" rx="4.48" ry="3.67" fill="#587c2e"/>
<ellipse cx="137.75" cy="-138.09" rx="3.5" ry="2.86" fill="#93b45a"/>
<ellipse cx="-15.86" cy="-78.78" rx="4.05" ry="3.31" fill="#93b45a"/>
<ellipse cx="58.59" cy="-116.49" rx="4.17" ry="3.41" fill="#88ab50"/>
<ellipse cx="20.88" cy="-83.57" rx="4.19" ry="3.43" fill="#9aba64"/>
<ellipse cx="151.1" cy="-141.9" rx="3.61" ry="2.96" fill="#7a9d43"/>
<ellipse cx="77.29" cy="-103.31" rx="3.76" ry="3.08" fill="#93b45a"/>
<ellipse cx="76.77" cy="-129" rx="3" ry="2.46" fill="#93b45a"/>
<ellipse cx="106.83" cy="-91.13" rx="3.7" ry="3.03" fill="#9aba64"/>
<ellipse cx="88.42" cy="-75.77" rx="3.57" ry="2.92" fill="#a6c474"/>
<ellipse cx="137.14" cy="-148.05" rx="3.43" ry="2.81" fill="#6f9440"/>
<ellipse cx="126.61" cy="-109.32" rx="3.41" ry="2.79" fill="#587c2e"/>
<ellipse cx="52.91" cy="-77.92" rx="3.14" ry="2.57" fill="#a6c474"/>
<ellipse cx="44.43" cy="-156.53" rx="3.77" ry="3.08" fill="#5f8433"/>
<ellipse cx="76.26" cy="-81.3" rx="3.71" ry="3.04" fill="#4a6a28"/>
<ellipse cx="34.91" cy="-116.64" rx="4.43" ry="3.63" fill="#587c2e"/>
<ellipse cx="79.36" cy="-89.5" rx="3.01" ry="2.46" fill="#76993f"/>
<ellipse cx="81.11" cy="-152.95" rx="3.29" ry="2.7" fill="#6f9440"/>
<ellipse cx="158.94" cy="-105.2" rx="3.64" ry="2.98" fill="#6a8e38"/>
<ellipse cx="30.08" cy="-139.06" rx="3.58" ry="2.93" fill="#587c2e"/>
<ellipse cx="115.78" cy="-91.79" rx="3.6" ry="2.95" fill="#7a9d43"/>
<ellipse cx="147.91" cy="-92.42" rx="4.41" ry="3.61" fill="#a6c474"/>
<ellipse cx="30.83" cy="-95.14" rx="4.39" ry="3.6" fill="#88ab50"/>
<ellipse cx="28.48" cy="-81.5" rx="3.41" ry="2.79" fill="#5f8433"/>
<ellipse cx="25.97" cy="-78.68" rx="3.14" ry="2.57" fill="#587c2e"/>
<ellipse cx="67.44" cy="-109.95" rx="4.06" ry="3.32" fill="#93b45a"/>
<ellipse cx="0.72" cy="-92.95" rx="3.51" ry="2.87" fill="#5f8433"/>
<ellipse cx="158.03" cy="-109.46" rx="3.83" ry="3.13" fill="#9aba64"/>
<ellipse cx="28.69" cy="-90.99" rx="4.5" ry="3.68" fill="#9aba64"/>
<ellipse cx="9.27" cy="-110.84" rx="3.03" ry="2.48" fill="#9aba64"/>
<ellipse cx="74.18" cy="-142.76" rx="3.47" ry="2.84" fill="#5f8433"/>
<ellipse cx="71.99" cy="-104.17" rx="2.97" ry="2.43" fill="#a6c474"/>
<ellipse cx="-14.93" cy="-77.81" rx="2.74" ry="2.24" fill="#6a8e38"/>
<ellipse cx="13.36" cy="-132.45" rx="4.54" ry="3.72" fill="#4a6a28"/>
<ellipse cx="-2.51" cy="-97.13" rx="3.09" ry="2.53" fill="#587c2e"/>
<ellipse cx="82.16" cy="-120.94" rx="3.06" ry="2.51" fill="#6a8e38"/>
<ellipse cx="101.28" cy="-95.01" rx="3.83" ry="3.13" fill="#88ab50"/>
<ellipse cx="37.14" cy="-153.02" rx="2.92" ry="2.39" fill="#76993f"/>
<ellipse cx="110.74" cy="-120.65" rx="3.07" ry="2.51" fill="#b2cc86"/>
<ellipse cx="95.61" cy="-78.02" rx="2.88" ry="2.36" fill="#587c2e"/>
<ellipse cx="21.03" cy="-93.06" rx="4.52" ry="3.69" fill="#587c2e"/>
<ellipse cx="63.72" cy="-138.18" rx="3.22" ry="2.63" fill="#9aba64"/>
<ellipse cx="99.36" cy="-114.83" rx="4.1" ry="3.35" fill="#9aba64"/>
<ellipse cx="52.88" cy="-74.79" rx="3.89" ry="3.19" fill="#76993f"/>
<ellipse cx="146.39" cy="-158.25" rx="3.72" ry="3.04" fill="#76993f"/>
<ellipse cx="-11.19" cy="-83.95" rx="4.52" ry="3.69" fill="#76993f"/>
<ellipse cx="137.73" cy="-169.47" rx="2.76" ry="2.26" fill="#b2cc86"/>
<ellipse cx="43.22" cy="-102.13" rx="4.23" ry="3.46" fill="#6a8e38"/>
<ellipse cx="150.52" cy="-129.17" rx="2.77" ry="2.27" fill="#93b45a"/>
<ellipse cx="138.45" cy="-119.48" rx="3.65" ry="2.99" fill="#587c2e"/>
<ellipse cx="-4.38" cy="-112.73" rx="3.04" ry="2.48" fill="#76993f"/>
<ellipse cx="122.17" cy="-124.6" rx="4.53" ry="3.71" fill="#6f9440"/>
<ellipse cx="38.74" cy="-107.23" rx="4.05" ry="3.31" fill="#4a6a28"/>
<ellipse cx="141.02" cy="-162.29" rx="3.36" ry="2.75" fill="#7a9d43"/>
<ellipse cx="100.89" cy="-86.05" rx="3.59" ry="2.94" fill="#a6c474"/>
<ellipse cx="28.71" cy="-158.97" rx="4.59" ry="3.76" fill="#587c2e"/>
<ellipse cx="38.41" cy="-96.14" rx="2.96" ry="2.42" fill="#9aba64"/>
<ellipse cx="18.26" cy="-148.67" rx="4.13" ry="3.38" fill="#93b45a"/>
<ellipse cx="40.66" cy="-92.3" rx="2.73" ry="2.23" fill="#9aba64"/>
<ellipse cx="-3.68" cy="-100.18" rx="2.68" ry="2.19" fill="#a6c474"/>
<ellipse cx="64.5" cy="-98.57" rx="3.35" ry="2.74" fill="#5f8433"/>
<ellipse cx="136.9" cy="-86.96" rx="3.76" ry="3.08" fill="#587c2e"/>
<ellipse cx="135.32" cy="-83.1" rx="2.86" ry="2.34" fill="#a6c474"/>
<ellipse cx="87.68" cy="-150.35" rx="4.38" ry="3.58" fill="#93b45a"/>
<ellipse cx="130.71" cy="-98.85" rx="3.84" ry="3.14" fill="#5f8433"/>
<ellipse cx="129.03" cy="-171.07" rx="4.11" ry="3.37" fill="#6a8e38"/>
<ellipse cx="105.25" cy="-85.64" rx="3.75" ry="3.06" fill="#a6c474"/>
<ellipse cx="133.11" cy="-103.43" rx="3.59" ry="2.94" fill="#88ab50"/>
<ellipse cx="117.72" cy="-89.98" rx="3.54" ry="2.9" fill="#9aba64"/>
<ellipse cx="58.75" cy="-98.27" rx="3.1" ry="2.53" fill="#5f8433"/>
<ellipse cx="124" cy="-108.17" rx="2.74" ry="2.24" fill="#587c2e"/>
<ellipse cx="18.17" cy="-145.63" rx="2.88" ry="2.36" fill="#a6c474"/>
<ellipse cx="3.7" cy="-83.86" rx="2.65" ry="2.17" fill="#6f9440"/>
<ellipse cx="48.68" cy="-79.65" rx="3.99" ry="3.26" fill="#5f8433"/>
<ellipse cx="31.53" cy="-137.78" rx="2.91" ry="2.38" fill="#88ab50"/>
<ellipse cx="31.87" cy="-132.53" rx="3.07" ry="2.52" fill="#76993f"/>
<ellipse cx="120.27" cy="-99.09" rx="3.63" ry="2.97" fill="#7a9d43"/>
<ellipse cx="103.82" cy="-95.14" rx="3.35" ry="2.74" fill="#88ab50"/>
<ellipse cx="72.68" cy="-89.28" rx="2.73" ry="2.24" fill="#587c2e"/>
<ellipse cx="153.32" cy="-142.61" rx="4.23" ry="3.46" fill="#6f9440"/>
<ellipse cx="4.65" cy="-159.73" rx="4.16" ry="3.41" fill="#76993f"/>
<ellipse cx="23.49" cy="-147.75" rx="3.79" ry="3.1" fill="#a6c474"/>
<ellipse cx="78.08" cy="-150.04" rx="3.1" ry="2.54" fill="#93b45a"/>
<ellipse cx="39.15" cy="-73.98" rx="3.15" ry="2.57" fill="#93b45a"/>
<ellipse cx="-2.68" cy="-115" rx="2.83" ry="2.32" fill="#93b45a"/>
<ellipse cx="0" cy="-93.84" rx="4.01" ry="3.28" fill="#88ab50"/>
<ellipse cx="129.01" cy="-171.92" rx="4.17" ry="3.41" fill="#93b45a"/>
<ellipse cx="34.35" cy="-91.7" rx="3.03" ry="2.48" fill="#6a8e38"/>
<ellipse cx="87.83" cy="-100.63" rx="3.83" ry="3.13" fill="#7a9d43"/>
<ellipse cx="93.08" cy="-78.33" rx="4" ry="3.27" fill="#6f9440"/>
<ellipse cx="68.35" cy="-91.48" rx="4.24" ry="3.47" fill="#6a8e38"/>
<ellipse cx="70.31" cy="-130.57" rx="4.33" ry="3.54" fill="#9aba64"/>
<ellipse cx="12.52" cy="-161.32" rx="3.47" ry="2.84" fill="#93b45a"/>
<ellipse cx="76.82" cy="-127.74" rx="3.93" ry="3.22" fill="#a6c474"/>
<ellipse cx="-8.93" cy="-80.97" rx="4.19" ry="3.43" fill="#88ab50"/>
<ellipse cx="120.72" cy="-104.41" rx="4.35" ry="3.56" fill="#587c2e"/>
<ellipse cx="131.13" cy="-118.42" rx="4.07" ry="3.33" fill="#76993f"/>
<ellipse cx="53.09" cy="-121.27" rx="4.11" ry="3.36" fill="#4a6a28"/>
<ellipse cx="103.44" cy="-90.27" rx="3.48" ry="2.85" fill="#9aba64"/>
<ellipse cx="101.24" cy="-131.97" rx="3.14" ry="2.57" fill="#7a9d43"/>
<ellipse cx="46.39" cy="-136.36" rx="4.53" ry="3.71" fill="#a6c474"/>
<ellipse cx="28.98" cy="-91.97" rx="3.61" ry="2.95" fill="#5f8433"/>
<ellipse cx="34.68" cy="-94.2" rx="3.39" ry="2.77" fill="#6a8e38"/>
<ellipse cx="58.61" cy="-100.49" rx="3.86" ry="3.16" fill="#5f8433"/>
<ellipse cx="113.98" cy="-121.76" rx="3.65" ry="2.99" fill="#a6c474"/>
<ellipse cx="97.74" cy="-134.03" rx="4.16" ry="3.4" fill="#9aba64"/>
<ellipse cx="132.66" cy="-91.88" rx="2.98" ry="2.44" fill="#b2cc86"/>
<ellipse cx="115.28" cy="-86.94" rx="3.21" ry="2.63" fill="#88ab50"/>
<ellipse cx="140.6" cy="-157.14" rx="4.52" ry="3.7" fill="#b2cc86"/>
<ellipse cx="64.3" cy="-102.65" rx="4.39" ry="3.59" fill="#587c2e"/>
<ellipse cx="61.16" cy="-85.9" rx="3.5" ry="2.86" fill="#93b45a"/>
<ellipse cx="26.58" cy="-83.04" rx="2.75" ry="2.25" fill="#a6c474"/>
<ellipse cx="81.91" cy="-104.9" rx="3.81" ry="3.12" fill="#4a6a28"/>
<ellipse cx="155.87" cy="-127.07" rx="4.24" ry="3.47" fill="#76993f"/>
<ellipse cx="94.88" cy="-79.85" rx="2.95" ry="2.42" fill="#9aba64"/>
<ellipse cx="46.31" cy="-102.28" rx="2.65" ry="2.17" fill="#6f9440"/>
<ellipse cx="166.3" cy="-112.25" rx="2.99" ry="2.45" fill="#5f8433"/>
<ellipse cx="65.88" cy="-140.73" rx="4.52" ry="3.7" fill="#88ab50"/>
<ellipse cx="136.66" cy="-169.77" rx="3.8" ry="3.11" fill="#9aba64"/>
<ellipse cx="99.18" cy="-90.01" rx="3.98" ry="3.26" fill="#a6c474"/>
<ellipse cx="73.87" cy="-136.92" rx="3.91" ry="3.2" fill="#7a9d43"/>
<ellipse cx="35.94" cy="-158.07" rx="3.26" ry="2.67" fill="#6f9440"/>
<ellipse cx="17.39" cy="-138.8" rx="3.07" ry="2.51" fill="#a6c474"/>
<ellipse cx="0.96" cy="-107.75" rx="4.14" ry="3.39" fill="#5f8433"/>
<ellipse cx="7.18" cy="-154.54" rx="4.32" ry="3.53" fill="#7a9d43"/>
<ellipse cx="99.98" cy="-115.37" rx="2.74" ry="2.24" fill="#88ab50"/>
<ellipse cx="86.07" cy="-78.22" rx="3.19" ry="2.61" fill="#a6c474"/>
<ellipse cx="143.67" cy="-93.67" rx="4.13" ry="3.38" fill="#7a9d43"/>
<ellipse cx="100.76" cy="-107.45" rx="3.08" ry="2.52" fill="#76993f"/>
<ellipse cx="158.16" cy="-96.36" rx="3.67" ry="3" fill="#587c2e"/>
<ellipse cx="139.29" cy="-101.55" rx="4.31" ry="3.53" fill="#b2cc86"/>
<ellipse cx="66.92" cy="-103.76" rx="3.1" ry="2.54" fill="#4a6a28"/>
<ellipse cx="33.42" cy="-139.09" rx="3.76" ry="3.08" fill="#6a8e38"/>
<ellipse cx="54.78" cy="-95.68" rx="2.85" ry="2.33" fill="#587c2e"/>
<ellipse cx="52.28" cy="-83.48" rx="4.03" ry="3.29" fill="#9aba64"/>
<ellipse cx="36.4" cy="-164.26" rx="3.82" ry="3.12" fill="#587c2e"/>
<ellipse cx="38.67" cy="-86" rx="2.83" ry="2.31" fill="#5f8433"/>
<ellipse cx="-0.76" cy="-102.13" rx="4.13" ry="3.38" fill="#5f8433"/>
<ellipse cx="16.72" cy="-153.56" rx="2.67" ry="2.19" fill="#a6c474"/>
<ellipse cx="71.91" cy="-71.5" rx="4.34" ry="3.55" fill="#76993f"/>
<ellipse cx="41.96" cy="-90.72" rx="3.05" ry="2.5" fill="#93b45a"/>
<ellipse cx="123.54" cy="-118.21" rx="2.65" ry="2.17" fill="#93b45a"/>
<ellipse cx="124.47" cy="-85.97" rx="3.92" ry="3.21" fill="#6f9440"/>
<ellipse cx="136.13" cy="-143.98" rx="4.26" ry="3.49" fill="#4a6a28"/>
<ellipse cx="26.01" cy="-147.96" rx="3.15" ry="2.58" fill="#5f8433"/>
<ellipse cx="136.2" cy="-91.65" rx="3.73" ry="3.05" fill="#6f9440"/>
<ellipse cx="39.21" cy="-115.14" rx="3.73" ry="3.05" fill="#4a6a28"/>
<ellipse cx="81.55" cy="-122.99" rx="2.99" ry="2.45" fill="#5f8433"/>
<ellipse cx="131.56" cy="-99.6" rx="2.78" ry="2.27" fill="#4a6a28"/>
<ellipse cx="97.16" cy="-79.7" rx="3.08" ry="2.52" fill="#a6c474"/>
<ellipse cx="38.47" cy="-82.91" rx="3.08" ry="2.52" fill="#9aba64"/>
<ellipse cx="16.9" cy="-103.68" rx="3.13" ry="2.56" fill="#b2cc86"/>
<ellipse cx="85.13" cy="-72.74" rx="2.74" ry="2.24" fill="#6f9440"/>
<ellipse cx="19.59" cy="-83.23" rx="3.11" ry="2.55" fill="#6f9440"/>
<ellipse cx="9.48" cy="-163.63" rx="3.42" ry="2.8" fill="#88ab50"/>
<ellipse cx="138.65" cy="-105.18" rx="4.01" ry="3.28" fill="#5f8433"/>
<ellipse cx="33.14" cy="-79.04" rx="4.57" ry="3.74" fill="#587c2e"/>
<ellipse cx="8.63" cy="-135.21" rx="4.55" ry="3.73" fill="#6f9440"/>
<ellipse cx="102.07" cy="-89.63" rx="3.19" ry="2.61" fill="#9aba64"/>
<ellipse cx="125.9" cy="-159.3" rx="4" ry="3.27" fill="#4a6a28"/>
<ellipse cx="-5.25" cy="-113.03" rx="4.21" ry="3.44" fill="#a6c474"/>
<ellipse cx="-3.66" cy="-148.68" rx="2.85" ry="2.33" fill="#7a9d43"/>
<ellipse cx="90.26" cy="-152.51" rx="2.72" ry="2.23" fill="#4a6a28"/>
<ellipse cx="137.02" cy="-146.07" rx="3.32" ry="2.72" fill="#88ab50"/>
<ellipse cx="121.27" cy="-107.59" rx="4.52" ry="3.7" fill="#76993f"/>
<ellipse cx="37.33" cy="-115.03" rx="3.41" ry="2.79" fill="#6a8e38"/>
<ellipse cx="57.58" cy="-90.36" rx="2.75" ry="2.25" fill="#93b45a"/>
<ellipse cx="41.67" cy="-143.71" rx="3.67" ry="3" fill="#b2cc86"/>
<ellipse cx="2.33" cy="-144.58" rx="3.26" ry="2.66" fill="#587c2e"/>
<ellipse cx="131.52" cy="-86.68" rx="2.91" ry="2.38" fill="#587c2e"/>
<ellipse cx="137.88" cy="-91.54" rx="3.55" ry="2.91" fill="#88ab50"/>
<ellipse cx="-1.21" cy="-104.5" rx="4.6" ry="3.76" fill="#9aba64"/>
<ellipse cx="0.16" cy="-138.26" rx="3.82" ry="3.13" fill="#4a6a28"/>
<ellipse cx="155.22" cy="-96.81" rx="3.16" ry="2.59" fill="#587c2e"/>
<ellipse cx="122.8" cy="-147.84" rx="3.84" ry="3.14" fill="#a6c474"/>
<ellipse cx="144.73" cy="-152.62" rx="3.12" ry="2.56" fill="#76993f"/>
<ellipse cx="23.87" cy="-93.7" rx="3.25" ry="2.66" fill="#9aba64"/>
<ellipse cx="-6.51" cy="-87.15" rx="3.13" ry="2.56" fill="#76993f"/>
<ellipse cx="14.17" cy="-118.83" rx="3.36" ry="2.75" fill="#9aba64"/>
<ellipse cx="67.5" cy="-82.63" rx="3.13" ry="2.56" fill="#5f8433"/>
<ellipse cx="72.56" cy="-133.5" rx="4.59" ry="3.75" fill="#4a6a28"/>
<ellipse cx="79.37" cy="-80.96" rx="4.18" ry="3.42" fill="#9aba64"/>
<ellipse cx="18.96" cy="-92.31" rx="3.51" ry="2.87" fill="#6a8e38"/>
<ellipse cx="-1.66" cy="-110.4" rx="4.52" ry="3.7" fill="#88ab50"/>
<ellipse cx="4.6" cy="-87.27" rx="4.09" ry="3.35" fill="#a6c474"/>
<ellipse cx="31.27" cy="-118.75" rx="3.66" ry="2.99" fill="#5f8433"/>
<ellipse cx="25.53" cy="-140.72" rx="4.3" ry="3.52" fill="#6a8e38"/>
<ellipse cx="116.04" cy="-96.35" rx="4.51" ry="3.69" fill="#9aba64"/>
<ellipse cx="38.78" cy="-158.73" rx="4.18" ry="3.42" fill="#a6c474"/>
<ellipse cx="137.09" cy="-104.75" rx="2.85" ry="2.33" fill="#88ab50"/>
<ellipse cx="153.57" cy="-142.28" rx="3.82" ry="3.12" fill="#9aba64"/>
<ellipse cx="12.48" cy="-114.73" rx="2.94" ry="2.41" fill="#7a9d43"/>
<ellipse cx="58.52" cy="-124.52" rx="3.76" ry="3.08" fill="#76993f"/>
<ellipse cx="29.06" cy="-77.86" rx="4.03" ry="3.3" fill="#6f9440"/>
<ellipse cx="17.82" cy="-83.45" rx="3.29" ry="2.69" fill="#88ab50"/>
<ellipse cx="111.62" cy="-93.14" rx="4.54" ry="3.72" fill="#4a6a28"/>
<ellipse cx="136.93" cy="-116.72" rx="3.01" ry="2.46" fill="#5f8433"/>
<ellipse cx="140.55" cy="-82.11" rx="4.51" ry="3.69" fill="#5f8433"/>
<ellipse cx="85.9" cy="-87.07" rx="2.85" ry="2.33" fill="#9aba64"/>
<ellipse cx="55.61" cy="-121.67" rx="3.39" ry="2.77" fill="#9aba64"/>
<ellipse cx="47.74" cy="-85.59" rx="3.12" ry="2.55" fill="#93b45a"/>
<ellipse cx="-7.19" cy="-146.5" rx="4.57" ry="3.74" fill="#587c2e"/>
<ellipse cx="104.5" cy="-110.47" rx="3.08" ry="2.52" fill="#b2cc86"/>
<ellipse cx="153.07" cy="-121.11" rx="3.21" ry="2.63" fill="#93b45a"/>
<ellipse cx="15.9" cy="-162.33" rx="3.75" ry="3.07" fill="#88ab50"/>
<ellipse cx="70.24" cy="-146.53" rx="3.26" ry="2.67" fill="#5f8433"/>
<ellipse cx="48.74" cy="-119.37" rx="3.36" ry="2.75" fill="#b2cc86"/>
<ellipse cx="145.48" cy="-152.55" rx="3.09" ry="2.53" fill="#a6c474"/>
<ellipse cx="55.44" cy="-79.85" rx="3.55" ry="2.9" fill="#587c2e"/>
<ellipse cx="13.11" cy="-115.24" rx="4.14" ry="3.38" fill="#7a9d43"/>
<ellipse cx="102.32" cy="-93.75" rx="3.38" ry="2.77" fill="#7a9d43"/>
<ellipse cx="122.4" cy="-155.81" rx="3.76" ry="3.08" fill="#6f9440"/>
<ellipse cx="163.5" cy="-112.75" rx="2.69" ry="2.2" fill="#b2cc86"/>
<ellipse cx="135.22" cy="-113.63" rx="4.21" ry="3.44" fill="#4a6a28"/>
<ellipse cx="60.49" cy="-118.1" rx="3.46" ry="2.83" fill="#88ab50"/>
<ellipse cx="135.79" cy="-126.52" rx="3.29" ry="2.69" fill="#88ab50"/>
<ellipse cx="30.36" cy="-112.97" rx="2.85" ry="2.33" fill="#b2cc86"/>
<ellipse cx="154.9" cy="-100.6" rx="3.43" ry="2.81" fill="#6a8e38"/>
<ellipse cx="80.73" cy="-112.9" rx="3.97" ry="3.24" fill="#9aba64"/>
<ellipse cx="40.45" cy="-118.38" rx="4.21" ry="3.44" fill="#a6c474"/>
<ellipse cx="7.63" cy="-158.18" rx="3.8" ry="3.11" fill="#587c2e"/>
<ellipse cx="3.64" cy="-82.11" rx="4.61" ry="3.77" fill="#b2cc86"/>
<ellipse cx="53.17" cy="-75.39" rx="2.8" ry="2.29" fill="#b2cc86"/>
<ellipse cx="51.79" cy="-137.06" rx="3.72" ry="3.05" fill="#9aba64"/>
<ellipse cx="94.81" cy="-139.68" rx="3.5" ry="2.86" fill="#76993f"/>
<ellipse cx="121.23" cy="-107.22" rx="3.61" ry="2.95" fill="#76993f"/>
<ellipse cx="68.52" cy="-107.45" rx="3.36" ry="2.75" fill="#93b45a"/>
<ellipse cx="23.85" cy="-149.3" rx="3.54" ry="2.89" fill="#6a8e38"/>
<ellipse cx="27.57" cy="-143.24" rx="3.4" ry="2.78" fill="#6a8e38"/>
<ellipse cx="33.55" cy="-112.39" rx="3.45" ry="2.83" fill="#6a8e38"/>
<ellipse cx="41.37" cy="-145.14" rx="2.76" ry="2.26" fill="#76993f"/>
<ellipse cx="93.36" cy="-138.16" rx="4.04" ry="3.3" fill="#7a9d43"/>
<ellipse cx="43.81" cy="-142.86" rx="3.25" ry="2.66" fill="#7a9d43"/>
<ellipse cx="160.72" cy="-123.3" rx="2.91" ry="2.38" fill="#6a8e38"/>
<ellipse cx="89.14" cy="-157.24" rx="4" ry="3.27" fill="#4a6a28"/>
<ellipse cx="21.63" cy="-115.6" rx="2.8" ry="2.29" fill="#587c2e"/>
<ellipse cx="144.39" cy="-90.05" rx="4.33" ry="3.54" fill="#4a6a28"/>
<ellipse cx="84.38" cy="-67.77" rx="4.23" ry="3.46" fill="#6f9440"/>
<ellipse cx="160.41" cy="-130.34" rx="4.51" ry="3.69" fill="#6f9440"/>
<ellipse cx="12.82" cy="-74.35" rx="2.78" ry="2.28" fill="#5f8433"/>
<ellipse cx="71.28" cy="-142.74" rx="3.12" ry="2.56" fill="#7a9d43"/>
<ellipse cx="93.29" cy="-151.93" rx="3.43" ry="2.81" fill="#7a9d43"/>
<ellipse cx="69.45" cy="-87.42" rx="2.8" ry="2.29" fill="#88ab50"/>
<ellipse cx="62.71" cy="-97.13" rx="4.56" ry="3.73" fill="#88ab50"/>
<ellipse cx="89.08" cy="-141.63" rx="4.02" ry="3.29" fill="#5f8433"/>
<ellipse cx="156.85" cy="-108.47" rx="3.03" ry="2.48" fill="#76993f"/>
<ellipse cx="27.7" cy="-121.01" rx="3.87" ry="3.17" fill="#b2cc86"/>
<ellipse cx="58.71" cy="-104.22" rx="4.32" ry="3.54" fill="#b2cc86"/>
<ellipse cx="3.3" cy="-98.04" rx="3.65" ry="2.99" fill="#9aba64"/>
<ellipse cx="67.37" cy="-140.6" rx="4.08" ry="3.34" fill="#7a9d43"/>
<ellipse cx="38.08" cy="-78.42" rx="2.68" ry="2.19" fill="#88ab50"/>
<ellipse cx="-6.24" cy="-81.09" rx="4.24" ry="3.47" fill="#587c2e"/>
<ellipse cx="11.79" cy="-73.59" rx="3.8" ry="3.11" fill="#7a9d43"/>
<ellipse cx="68.06" cy="-74.67" rx="4.5" ry="3.68" fill="#587c2e"/>
<ellipse cx="17.58" cy="-109.05" rx="3.59" ry="2.94" fill="#a6c474"/>
<ellipse cx="4.55" cy="-144.3" rx="3.69" ry="3.02" fill="#587c2e"/>
<ellipse cx="98.49" cy="-112.81" rx="4.53" ry="3.71" fill="#b2cc86"/>
<ellipse cx="82.85" cy="-74.45" rx="3.31" ry="2.71" fill="#7a9d43"/>
<ellipse cx="86" cy="-128.31" rx="3.86" ry="3.16" fill="#7a9d43"/>
<ellipse cx="53.33" cy="-113.84" rx="4.61" ry="3.77" fill="#6a8e38"/>
<ellipse cx="7.57" cy="-81.71" rx="2.73" ry="2.24" fill="#a6c474"/>
<ellipse cx="11.75" cy="-82.11" rx="3.37" ry="2.76" fill="#9aba64"/>
<ellipse cx="85.34" cy="-88.22" rx="3.16" ry="2.59" fill="#a6c474"/>
<ellipse cx="80.29" cy="-71.9" rx="3.9" ry="3.19" fill="#6a8e38"/>
<ellipse cx="36.36" cy="-112.46" rx="3.5" ry="2.87" fill="#76993f"/>
<ellipse cx="76.16" cy="-75.97" rx="3.04" ry="2.48" fill="#76993f"/>
<ellipse cx="69.97" cy="-89.51" rx="3.47" ry="2.84" fill="#a6c474"/>
<ellipse cx="109.84" cy="-97.13" rx="3.57" ry="2.92" fill="#a6c474"/>
<ellipse cx="20.18" cy="-85.35" rx="3.75" ry="3.07" fill="#4a6a28"/>
<ellipse cx="60.29" cy="-107.42" rx="3.71" ry="3.03" fill="#76993f"/>
<ellipse cx="46.27" cy="-146.89" rx="4.03" ry="3.3" fill="#93b45a"/>
<ellipse cx="3.07" cy="-146.24" rx="4.18" ry="3.42" fill="#9aba64"/>
<ellipse cx="33.81" cy="-74.43" rx="4.16" ry="3.41" fill="#587c2e"/>
<ellipse cx="54.33" cy="-71.49" rx="3.4" ry="2.78" fill="#88ab50"/>
<ellipse cx="128.94" cy="-166.19" rx="3.96" ry="3.24" fill="#b2cc86"/>
<ellipse cx="19.47" cy="-91.06" rx="4.45" ry="3.64" fill="#6a8e38"/>
<ellipse cx="131.7" cy="-121.28" rx="4.51" ry="3.69" fill="#76993f"/>
<ellipse cx="34.55" cy="-107.59" rx="3.51" ry="2.87" fill="#88ab50"/>
<ellipse cx="145.53" cy="-143.24" rx="4.29" ry="3.51" fill="#b2cc86"/>
<ellipse cx="20.59" cy="-147.89" rx="3.84" ry="3.14" fill="#88ab50"/>
<ellipse cx="128.16" cy="-157.73" rx="3.14" ry="2.57" fill="#a6c474"/>
<ellipse cx="120.33" cy="-114.95" rx="4.58" ry="3.75" fill="#88ab50"/>
<ellipse cx="3.88" cy="-96.44" rx="4.17" ry="3.41" fill="#a6c474"/>
<ellipse cx="21.3" cy="-148.35" rx="4.48" ry="3.67" fill="#88ab50"/>
<ellipse cx="146.43" cy="-127.42" rx="4.52" ry="3.69" fill="#6a8e38"/>
<ellipse cx="62.72" cy="-84.28" rx="3.03" ry="2.48" fill="#6a8e38"/>
<ellipse cx="34.62" cy="-134.52" rx="2.83" ry="2.31" fill="#5f8433"/>
<ellipse cx="22.93" cy="-85.38" rx="4.27" ry="3.5" fill="#4a6a28"/>
<ellipse cx="23.04" cy="-93.52" rx="4" ry="3.27" fill="#587c2e"/>
<ellipse cx="121.57" cy="-152.5" rx="4.21" ry="3.44" fill="#7a9d43"/>
<ellipse cx="8.34" cy="-84.7" rx="4.55" ry="3.72" fill="#b2cc86"/>
<ellipse cx="120.33" cy="-147.82" rx="3.68" ry="3.01" fill="#76993f"/>
<ellipse cx="137.94" cy="-166.28" rx="3.91" ry="3.2" fill="#a6c474"/>
<ellipse cx="102" cy="-85.12" rx="3.37" ry="2.76" fill="#93b45a"/>
<ellipse cx="64.72" cy="-78.76" rx="3.67" ry="3" fill="#6f9440"/>
<ellipse cx="-4.64" cy="-151.66" rx="4.38" ry="3.59" fill="#b2cc86"/>
<ellipse cx="108.9" cy="-93.69" rx="3.77" ry="3.08" fill="#76993f"/>
<ellipse cx="10.49" cy="-116.63" rx="3.02" ry="2.47" fill="#93b45a"/>
<ellipse cx="31.47" cy="-110.93" rx="3.05" ry="2.5" fill="#7a9d43"/>
<ellipse cx="131.37" cy="-170.92" rx="4.23" ry="3.46" fill="#a6c474"/>
<ellipse cx="109.91" cy="-121.52" rx="3.97" ry="3.25" fill="#a6c474"/>
<ellipse cx="126.71" cy="-159.37" rx="3.75" ry="3.07" fill="#93b45a"/>
<ellipse cx="56.62" cy="-77.46" rx="4.17" ry="3.41" fill="#6a8e38"/>
<ellipse cx="116.47" cy="-150.25" rx="3.4" ry="2.78" fill="#a6c474"/>
<ellipse cx="-13.99" cy="-87.32" rx="2.66" ry="2.18" fill="#88ab50"/>
<ellipse cx="132.08" cy="-128.12" rx="3.87" ry="3.17" fill="#88ab50"/>
<ellipse cx="-1.73" cy="-145.15" rx="4.34" ry="3.55" fill="#7a9d43"/>
<ellipse cx="33" cy="-117.51" rx="4.24" ry="3.47" fill="#6a8e38"/>
<ellipse cx="29.57" cy="-82.02" rx="3.17" ry="2.59" fill="#6a8e38"/>
<ellipse cx="33.71" cy="-112.51" rx="2.89" ry="2.37" fill="#76993f"/>
<ellipse cx="53.45" cy="-122.04" rx="4.33" ry="3.55" fill="#93b45a"/>
<ellipse cx="155.48" cy="-98.75" rx="3.13" ry="2.56" fill="#4a6a28"/>
<ellipse cx="-2.55" cy="-104.68" rx="4.24" ry="3.47" fill="#587c2e"/>
<ellipse cx="8.03" cy="-89.29" rx="2.87" ry="2.35" fill="#4a6a28"/>
<ellipse cx="23.83" cy="-144.49" rx="4.47" ry="3.66" fill="#76993f"/>
<ellipse cx="153.44" cy="-106.26" rx="4.03" ry="3.3" fill="#587c2e"/>
<ellipse cx="154.25" cy="-125.49" rx="3.75" ry="3.07" fill="#76993f"/>
<ellipse cx="86.87" cy="-71.49" rx="3.97" ry="3.25" fill="#88ab50"/>
<ellipse cx="141.6" cy="-173.85" rx="4.27" ry="3.49" fill="#6f9440"/>
<ellipse cx="138.12" cy="-122.44" rx="3.04" ry="2.48" fill="#88ab50"/>
<ellipse cx="79.64" cy="-109.54" rx="3.04" ry="2.49" fill="#7a9d43"/>
<ellipse cx="107.11" cy="-95.31" rx="3.96" ry="3.24" fill="#93b45a"/>
<ellipse cx="-12.46" cy="-86.58" rx="4.12" ry="3.37" fill="#5f8433"/>
<ellipse cx="79.03" cy="-152.85" rx="2.77" ry="2.27" fill="#587c2e"/>
<ellipse cx="126.95" cy="-105.68" rx="2.81" ry="2.3" fill="#9aba64"/>
<ellipse cx="61.98" cy="-106.95" rx="2.86" ry="2.34" fill="#6a8e38"/>
<ellipse cx="74.37" cy="-74.3" rx="4.24" ry="3.47" fill="#4a6a28"/>
<ellipse cx="98" cy="-131.41" rx="3.56" ry="2.91" fill="#6f9440"/>
<ellipse cx="139.87" cy="-82.17" rx="3.89" ry="3.18" fill="#b2cc86"/>
<ellipse cx="155.42" cy="-97.27" rx="2.92" ry="2.39" fill="#4a6a28"/>
<ellipse cx="17.08" cy="-110.61" rx="3.3" ry="2.7" fill="#b2cc86"/>
<ellipse cx="8.41" cy="-129.01" rx="3.4" ry="2.79" fill="#587c2e"/>
<ellipse cx="32.64" cy="-92.67" rx="3.04" ry="2.49" fill="#76993f"/>
<ellipse cx="113.69" cy="-90.48" rx="3.05" ry="2.49" fill="#7a9d43"/>
<ellipse cx="29.14" cy="-118.08" rx="4.23" ry="3.46" fill="#6f9440"/>
<ellipse cx="87.17" cy="-138.07" rx="3.13" ry="2.56" fill="#93b45a"/>
<ellipse cx="123.37" cy="-90.14" rx="2.69" ry="2.2" fill="#88ab50"/>
<ellipse cx="77.76" cy="-88.57" rx="2.92" ry="2.39" fill="#76993f"/>
<ellipse cx="150.33" cy="-91.7" rx="4.53" ry="3.71" fill="#4a6a28"/>
<ellipse cx="100.15" cy="-95.2" rx="3.71" ry="3.03" fill="#9aba64"/>
<ellipse cx="90.58" cy="-75.65" rx="2.85" ry="2.33" fill="#7a9d43"/>
<ellipse cx="36.69" cy="-111.48" rx="3.21" ry="2.63" fill="#76993f"/>
<ellipse cx="84.46" cy="-95.91" rx="3.86" ry="3.16" fill="#9aba64"/>
<ellipse cx="141.25" cy="-96.3" rx="2.77" ry="2.27" fill="#93b45a"/>
<ellipse cx="36.23" cy="-116.02" rx="2.97" ry="2.43" fill="#5f8433"/>
<ellipse cx="135.6" cy="-121.5" rx="3.08" ry="2.52" fill="#6f9440"/>
<ellipse cx="93.62" cy="-149.96" rx="4.45" ry="3.64" fill="#7a9d43"/>
<ellipse cx="26" cy="-143.02" rx="3.82" ry="3.12" fill="#7a9d43"/>
<ellipse cx="157.53" cy="-133.44" rx="4.33" ry="3.54" fill="#88ab50"/>
<ellipse cx="78.47" cy="-131.23" rx="2.75" ry="2.25" fill="#b2cc86"/>
<ellipse cx="150.97" cy="-127.32" rx="3.77" ry="3.08" fill="#6a8e38"/>
<ellipse cx="77.05" cy="-71.72" rx="4.45" ry="3.64" fill="#76993f"/>
<ellipse cx="34.67" cy="-122.55" rx="3.75" ry="3.07" fill="#b2cc86"/>
<ellipse cx="116.43" cy="-103.1" rx="2.73" ry="2.23" fill="#6f9440"/>
<ellipse cx="116.59" cy="-149.98" rx="3.34" ry="2.74" fill="#6f9440"/>
<ellipse cx="-3.13" cy="-86.87" rx="3.27" ry="2.67" fill="#76993f"/>
<ellipse cx="133.38" cy="-142.56" rx="4.6" ry="3.76" fill="#9aba64"/>
<ellipse cx="79.83" cy="-134.3" rx="4.11" ry="3.37" fill="#88ab50"/>
<ellipse cx="12.08" cy="-135.49" rx="3.52" ry="2.88" fill="#9aba64"/>
<ellipse cx="127.68" cy="-170.51" rx="2.76" ry="2.26" fill="#6f9440"/>
<ellipse cx="27.56" cy="-139.89" rx="4.24" ry="3.47" fill="#6a8e38"/>
<ellipse cx="2.28" cy="-93.94" rx="3.18" ry="2.6" fill="#88ab50"/>
<ellipse cx="101.33" cy="-87.64" rx="3.36" ry="2.75" fill="#6a8e38"/>
<ellipse cx="57.12" cy="-115.1" rx="2.89" ry="2.36" fill="#6a8e38"/>
<ellipse cx="58.33" cy="-118.31" rx="3.64" ry="2.98" fill="#b2cc86"/>
<ellipse cx="103.87" cy="-89.96" rx="4.13" ry="3.38" fill="#587c2e"/>
<ellipse cx="61.7" cy="-107.61" rx="4.16" ry="3.41" fill="#a6c474"/>
<ellipse cx="22" cy="-116.42" rx="2.94" ry="2.41" fill="#7a9d43"/>
<ellipse cx="90.19" cy="-148.46" rx="4.39" ry="3.59" fill="#b2cc86"/>
<ellipse cx="120.17" cy="-149.28" rx="3.46" ry="2.83" fill="#b2cc86"/>
<ellipse cx="83.58" cy="-102.67" rx="4.22" ry="3.45" fill="#587c2e"/>
<ellipse cx="37.55" cy="-92.26" rx="2.78" ry="2.28" fill="#4a6a28"/>
<ellipse cx="106.77" cy="-86.96" rx="2.97" ry="2.43" fill="#587c2e"/>
<ellipse cx="13.78" cy="-86.25" rx="3.14" ry="2.57" fill="#4a6a28"/>
<ellipse cx="59.17" cy="-84.32" rx="3.47" ry="2.84" fill="#b2cc86"/>
<ellipse cx="105.97" cy="-108.3" rx="3.28" ry="2.69" fill="#b2cc86"/>
<ellipse cx="7.32" cy="-84.9" rx="3.07" ry="2.51" fill="#5f8433"/>
<ellipse cx="9.64" cy="-128.59" rx="3.77" ry="3.08" fill="#5f8433"/>
<ellipse cx="33.99" cy="-92.49" rx="3.92" ry="3.21" fill="#587c2e"/>
<ellipse cx="90.27" cy="-149.85" rx="4.41" ry="3.61" fill="#6f9440"/>
<ellipse cx="46.83" cy="-134.14" rx="2.72" ry="2.22" fill="#587c2e"/>
<ellipse cx="135.41" cy="-105.97" rx="3.62" ry="2.96" fill="#587c2e"/>
<ellipse cx="115.76" cy="-97.15" rx="4.44" ry="3.63" fill="#5f8433"/>
<ellipse cx="3.03" cy="-82.4" rx="4.13" ry="3.38" fill="#4a6a28"/>
<ellipse cx="88.48" cy="-68.93" rx="3.35" ry="2.74" fill="#88ab50"/>
<ellipse cx="33.87" cy="-111.3" rx="2.67" ry="2.19" fill="#5f8433"/>
<ellipse cx="41.23" cy="-85.56" rx="4.47" ry="3.66" fill="#b2cc86"/>
<ellipse cx="135.17" cy="-174.65" rx="3.56" ry="2.91" fill="#93b45a"/>
<ellipse cx="72.93" cy="-101.52" rx="3.72" ry="3.04" fill="#6f9440"/>
<ellipse cx="148.44" cy="-121.3" rx="4.14" ry="3.38" fill="#88ab50"/>
<ellipse cx="138.52" cy="-170.5" rx="4.56" ry="3.73" fill="#b2cc86"/>
<ellipse cx="72.98" cy="-86.2" rx="3.64" ry="2.98" fill="#587c2e"/>
<ellipse cx="132.09" cy="-85.62" rx="3.42" ry="2.8" fill="#76993f"/>
<ellipse cx="77.94" cy="-77.96" rx="4.12" ry="3.37" fill="#6a8e38"/>
<ellipse cx="25.5" cy="-146.83" rx="3.22" ry="2.63" fill="#a6c474"/>
<ellipse cx="8.52" cy="-82.87" rx="2.69" ry="2.2" fill="#7a9d43"/>
<ellipse cx="134.51" cy="-110.91" rx="4.6" ry="3.77" fill="#7a9d43"/>
<ellipse cx="149.49" cy="-131.44" rx="3.28" ry="2.68" fill="#76993f"/>
<ellipse cx="-0.22" cy="-108.11" rx="3.71" ry="3.03" fill="#a6c474"/>
<ellipse cx="88.43" cy="-138.54" rx="3.34" ry="2.73" fill="#7a9d43"/>
<ellipse cx="90.9" cy="-156.71" rx="3.37" ry="2.76" fill="#b2cc86"/>
<ellipse cx="36.1" cy="-108.01" rx="4.47" ry="3.66" fill="#587c2e"/>
<ellipse cx="13.9" cy="-111.44" rx="2.77" ry="2.27" fill="#9aba64"/>
<ellipse cx="26.66" cy="-115.78" rx="4.22" ry="3.46" fill="#76993f"/>
<ellipse cx="28.27" cy="-159.57" rx="3.99" ry="3.27" fill="#5f8433"/>
<ellipse cx="141.86" cy="-97.16" rx="4.55" ry="3.72" fill="#a6c474"/>
<ellipse cx="75.66" cy="-77.3" rx="4.23" ry="3.46" fill="#587c2e"/>
<ellipse cx="144.81" cy="-155.54" rx="4.38" ry="3.59" fill="#a6c474"/>
<ellipse cx="116.86" cy="-103.57" rx="4.11" ry="3.36" fill="#4a6a28"/>
<ellipse cx="10.29" cy="-139.64" rx="4.58" ry="3.75" fill="#7a9d43"/>
<ellipse cx="52.01" cy="-98.06" rx="4.55" ry="3.72" fill="#76993f"/>
<ellipse cx="102.31" cy="-89.95" rx="3.62" ry="2.96" fill="#4a6a28"/>
<ellipse cx="67.03" cy="-82.8" rx="4.49" ry="3.67" fill="#4a6a28"/>
<ellipse cx="124.77" cy="-151.4" rx="4.12" ry="3.37" fill="#5f8433"/>
<ellipse cx="147.65" cy="-142.5" rx="3.51" ry="2.87" fill="#587c2e"/>
<ellipse cx="96.51" cy="-76.56" rx="3.37" ry="2.76" fill="#4a6a28"/>
<ellipse cx="99.75" cy="-126.85" rx="4.2" ry="3.44" fill="#6a8e38"/>
<ellipse cx="20.78" cy="-119.45" rx="4.1" ry="3.35" fill="#76993f"/>
<ellipse cx="109.69" cy="-85.27" rx="4.03" ry="3.3" fill="#5f8433"/>
<ellipse cx="135.03" cy="-126.13" rx="3.43" ry="2.81" fill="#6a8e38"/>
<ellipse cx="86.47" cy="-100.75" rx="3.4" ry="2.78" fill="#5f8433"/>
<ellipse cx="23" cy="-136.37" rx="4.23" ry="3.46" fill="#88ab50"/>
<ellipse cx="81.29" cy="-109.23" rx="4.49" ry="3.68" fill="#9aba64"/>
<ellipse cx="155" cy="-126.39" rx="3.78" ry="3.09" fill="#93b45a"/>
<ellipse cx="135.48" cy="-167.94" rx="3.86" ry="3.16" fill="#9aba64"/>
<ellipse cx="23.19" cy="-87" rx="4.14" ry="3.39" fill="#a6c474"/>
<ellipse cx="132.54" cy="-165.81" rx="4.01" ry="3.28" fill="#6a8e38"/>
<ellipse cx="14.68" cy="-114.13" rx="3.86" ry="3.16" fill="#6f9440"/>
<ellipse cx="19.28" cy="-157.03" rx="2.82" ry="2.31" fill="#b2cc86"/>
<ellipse cx="73.7" cy="-89.22" rx="4.16" ry="3.41" fill="#6f9440"/>
<ellipse cx="85.99" cy="-128.22" rx="4.29" ry="3.51" fill="#6a8e38"/>
<ellipse cx="47.37" cy="-83.99" rx="4.02" ry="3.29" fill="#6f9440"/>
<ellipse cx="34.12" cy="-111.49" rx="4.53" ry="3.71" fill="#6f9440"/>
<ellipse cx="7.13" cy="-84.18" rx="3.58" ry="2.93" fill="#a6c474"/>
<ellipse cx="14.29" cy="-91.67" rx="3.92" ry="3.21" fill="#a6c474"/>
<ellipse cx="23.21" cy="-83.44" rx="3.59" ry="2.94" fill="#9aba64"/>
<ellipse cx="87.05" cy="-79.56" rx="4.49" ry="3.68" fill="#76993f"/>
<ellipse cx="108.31" cy="-85.7" rx="3.55" ry="2.9" fill="#4a6a28"/>
<ellipse cx="20.69" cy="-142.64" rx="3.09" ry="2.53" fill="#4a6a28"/>
<ellipse cx="135.48" cy="-118.03" rx="2.7" ry="2.21" fill="#4a6a28"/>
<ellipse cx="134.48" cy="-80.19" rx="2.74" ry="2.24" fill="#6a8e38"/>
<ellipse cx="22.49" cy="-159.47" rx="3.78" ry="3.09" fill="#7a9d43"/>
<ellipse cx="107.07" cy="-111.19" rx="4.27" ry="3.49" fill="#9aba64"/>
<ellipse cx="95.22" cy="-108.97" rx="3.32" ry="2.72" fill="#76993f"/>
<ellipse cx="42.41" cy="-157.9" rx="4.38" ry="3.59" fill="#a6c474"/>
<ellipse cx="82.8" cy="-95.17" rx="2.93" ry="2.39" fill="#b2cc86"/>
<ellipse cx="66.84" cy="-97.9" rx="2.94" ry="2.4" fill="#a6c474"/>
<ellipse cx="97.98" cy="-88.98" rx="3.3" ry="2.7" fill="#76993f"/>
<ellipse cx="104.37" cy="-98.44" rx="4.27" ry="3.49" fill="#9aba64"/>
<ellipse cx="-14.39" cy="-86.45" rx="2.95" ry="2.41" fill="#a6c474"/>
<ellipse cx="2.97" cy="-143.89" rx="3.53" ry="2.89" fill="#a6c474"/>
<ellipse cx="27.91" cy="-117.72" rx="2.69" ry="2.2" fill="#7a9d43"/>
<ellipse cx="159.07" cy="-108.02" rx="2.95" ry="2.41" fill="#4a6a28"/>
<ellipse cx="114.24" cy="-127.36" rx="2.82" ry="2.31" fill="#9aba64"/>
<ellipse cx="-3.2" cy="-151.08" rx="3.8" ry="3.11" fill="#587c2e"/>
<ellipse cx="-2.57" cy="-101.86" rx="3.76" ry="3.08" fill="#7a9d43"/>
<ellipse cx="102.99" cy="-91.14" rx="2.78" ry="2.27" fill="#a6c474"/>
<ellipse cx="60.22" cy="-75.6" rx="3.34" ry="2.73" fill="#88ab50"/>
<ellipse cx="90.37" cy="-136.8" rx="3.67" ry="3.01" fill="#88ab50"/>
<ellipse cx="11.76" cy="-94.88" rx="3.41" ry="2.79" fill="#587c2e"/>
<ellipse cx="76.47" cy="-71.29" rx="4.09" ry="3.34" fill="#a6c474"/>
<ellipse cx="-17.4" cy="-77.89" rx="4.54" ry="3.72" fill="#4a6a28"/>
<ellipse cx="125.53" cy="-86.28" rx="2.89" ry="2.37" fill="#5f8433"/>
<ellipse cx="-1.37" cy="-105.49" rx="4.22" ry="3.45" fill="#6a8e38"/>
<ellipse cx="28.91" cy="-81.38" rx="3.37" ry="2.76" fill="#a6c474"/>
<ellipse cx="18.13" cy="-105.19" rx="2.69" ry="2.2" fill="#6f9440"/>
<ellipse cx="-0.17" cy="-144.91" rx="2.78" ry="2.28" fill="#6a8e38"/>
<ellipse cx="52.15" cy="-84.55" rx="4.24" ry="3.47" fill="#6a8e38"/>
<ellipse cx="121.08" cy="-106.08" rx="4.11" ry="3.37" fill="#587c2e"/>
<ellipse cx="83.94" cy="-84.15" rx="3.1" ry="2.54" fill="#88ab50"/>
<ellipse cx="101.62" cy="-129.15" rx="4" ry="3.27" fill="#9aba64"/>
<ellipse cx="93.13" cy="-153.51" rx="3.98" ry="3.26" fill="#6a8e38"/>
<ellipse cx="131.05" cy="-99.4" rx="3.71" ry="3.04" fill="#5f8433"/>
<ellipse cx="52.97" cy="-136.57" rx="3.56" ry="2.91" fill="#88ab50"/>
<ellipse cx="112.01" cy="-82.36" rx="4" ry="3.27" fill="#76993f"/>
<ellipse cx="83.27" cy="-104.72" rx="3.02" ry="2.47" fill="#88ab50"/>
<ellipse cx="18.97" cy="-138.01" rx="4.35" ry="3.56" fill="#6f9440"/>
<ellipse cx="82.94" cy="-122.59" rx="4.42" ry="3.62" fill="#9aba64"/>
<ellipse cx="-3.55" cy="-118.58" rx="4.25" ry="3.48" fill="#76993f"/>
<ellipse cx="40.96" cy="-121.82" rx="4.46" ry="3.65" fill="#5f8433"/>
<ellipse cx="131.96" cy="-103.06" rx="3.49" ry="2.86" fill="#6f9440"/>
<ellipse cx="84.66" cy="-79.76" rx="3.22" ry="2.63" fill="#6a8e38"/>
<ellipse cx="-16.42" cy="-82.88" rx="4.55" ry="3.73" fill="#6a8e38"/>
<ellipse cx="18.51" cy="-136.74" rx="3.85" ry="3.15" fill="#7a9d43"/>
<ellipse cx="33.17" cy="-82.77" rx="4.03" ry="3.29" fill="#9aba64"/>
<ellipse cx="37.34" cy="-158.62" rx="3.62" ry="2.96" fill="#76993f"/>
<ellipse cx="4" cy="-111.59" rx="4.23" ry="3.46" fill="#88ab50"/>
<ellipse cx="17.92" cy="-142.31" rx="4.38" ry="3.59" fill="#4a6a28"/>
<ellipse cx="89.58" cy="-75.1" rx="2.7" ry="2.21" fill="#6a8e38"/>
<ellipse cx="73" cy="-145.06" rx="3.14" ry="2.57" fill="#9aba64"/>
<ellipse cx="130.36" cy="-114.51" rx="3.29" ry="2.69" fill="#76993f"/>
<ellipse cx="21.69" cy="-144.84" rx="3.33" ry="2.73" fill="#7a9d43"/>
<ellipse cx="25.98" cy="-145.48" rx="4.34" ry="3.55" fill="#93b45a"/>
<ellipse cx="37.17" cy="-140.66" rx="2.68" ry="2.19" fill="#587c2e"/>
<ellipse cx="157.56" cy="-146.15" rx="3.82" ry="3.13" fill="#6f9440"/>
<ellipse cx="137.35" cy="-83.04" rx="4.47" ry="3.66" fill="#93b45a"/>
<ellipse cx="88.39" cy="-70.37" rx="4.3" ry="3.51" fill="#5f8433"/>
<ellipse cx="20.98" cy="-159.9" rx="2.78" ry="2.28" fill="#9aba64"/>
<ellipse cx="-2.54" cy="-118.48" rx="3.44" ry="2.82" fill="#b2cc86"/>
<ellipse cx="67.42" cy="-143.69" rx="3.23" ry="2.64" fill="#9aba64"/>
<ellipse cx="41.38" cy="-145.71" rx="3.14" ry="2.57" fill="#7a9d43"/>
<ellipse cx="23.96" cy="-140.12" rx="3.57" ry="2.92" fill="#4a6a28"/>
<ellipse cx="7.44" cy="-163.18" rx="3.29" ry="2.69" fill="#6f9440"/>
<ellipse cx="16.67" cy="-146.63" rx="3.07" ry="2.51" fill="#6a8e38"/>
<ellipse cx="36.58" cy="-117.07" rx="3.65" ry="2.99" fill="#4a6a28"/>
<ellipse cx="28.14" cy="-96.18" rx="2.81" ry="2.3" fill="#6a8e38"/>
<ellipse cx="17.34" cy="-145.08" rx="2.91" ry="2.38" fill="#5f8433"/>
<ellipse cx="9.95" cy="-155.69" rx="4.54" ry="3.71" fill="#88ab50"/>
<ellipse cx="23.45" cy="-147.51" rx="3.96" ry="3.24" fill="#93b45a"/>
<ellipse cx="132.4" cy="-148.69" rx="4.04" ry="3.31" fill="#a6c474"/>
<ellipse cx="26" cy="-136.32" rx="3.05" ry="2.49" fill="#b2cc86"/>
<ellipse cx="72.14" cy="-73.94" rx="4.42" ry="3.61" fill="#5f8433"/>
<ellipse cx="108.22" cy="-95.8" rx="3.78" ry="3.09" fill="#b2cc86"/>
<ellipse cx="145.62" cy="-152.95" rx="4.29" ry="3.51" fill="#b2cc86"/>
<ellipse cx="16.85" cy="-88.69" rx="3.8" ry="3.11" fill="#93b45a"/>
<ellipse cx="67.43" cy="-85.74" rx="4.23" ry="3.46" fill="#7a9d43"/>
<ellipse cx="49" cy="-115.51" rx="4.6" ry="3.76" fill="#7a9d43"/>
<ellipse cx="105.87" cy="-87.61" rx="4.11" ry="3.36" fill="#6a8e38"/>
<ellipse cx="62.96" cy="-103.13" rx="3.04" ry="2.49" fill="#7a9d43"/>
<ellipse cx="30.77" cy="-160.95" rx="4.49" ry="3.68" fill="#7a9d43"/>
<ellipse cx="18.65" cy="-163.82" rx="3.91" ry="3.2" fill="#88ab50"/>
<ellipse cx="136.75" cy="-106.21" rx="4.08" ry="3.34" fill="#76993f"/>
<ellipse cx="3.78" cy="-143.87" rx="4.45" ry="3.64" fill="#b2cc86"/>
<ellipse cx="155.46" cy="-97.78" rx="3.83" ry="3.13" fill="#a6c474"/>
<ellipse cx="128.81" cy="-88.5" rx="2.67" ry="2.18" fill="#88ab50"/>
<ellipse cx="112.33" cy="-95.85" rx="2.82" ry="2.31" fill="#93b45a"/>
<ellipse cx="116.4" cy="-157.05" rx="3.35" ry="2.74" fill="#76993f"/>
<ellipse cx="138.89" cy="-123.34" rx="3.98" ry="3.26" fill="#4a6a28"/>
<ellipse cx="16.22" cy="-106.14" rx="3.64" ry="2.97" fill="#4a6a28"/>
<ellipse cx="66.32" cy="-90.35" rx="4.43" ry="3.63" fill="#93b45a"/>
<ellipse cx="85.2" cy="-82.63" rx="3.17" ry="2.59" fill="#9aba64"/>
<ellipse cx="135.46" cy="-145.1" rx="2.97" ry="2.43" fill="#7a9d43"/>
<ellipse cx="64.78" cy="-105.59" rx="3.02" ry="2.47" fill="#7a9d43"/>
<ellipse cx="8.08" cy="-81.84" rx="3.12" ry="2.56" fill="#88ab50"/>
<ellipse cx="144.68" cy="-96.53" rx="4.08" ry="3.34" fill="#6f9440"/>
<ellipse cx="-4.35" cy="-93.06" rx="4.2" ry="3.44" fill="#6a8e38"/>
<ellipse cx="-7.09" cy="-83.76" rx="3.57" ry="2.92" fill="#b2cc86"/>
<ellipse cx="-6.03" cy="-149.65" rx="3.58" ry="2.93" fill="#a6c474"/>
<ellipse cx="55.69" cy="-117.89" rx="3.51" ry="2.87" fill="#9aba64"/>
<ellipse cx="86.77" cy="-156.68" rx="2.72" ry="2.23" fill="#93b45a"/>
<ellipse cx="45.62" cy="-144.23" rx="3.58" ry="2.93" fill="#587c2e"/>
<ellipse cx="36.27" cy="-95.19" rx="2.86" ry="2.34" fill="#587c2e"/>
<ellipse cx="127.57" cy="-90.71" rx="4.2" ry="3.43" fill="#6a8e38"/>
<ellipse cx="20.43" cy="-145.87" rx="4.32" ry="3.53" fill="#b2cc86"/>
<ellipse cx="16.5" cy="-161.71" rx="3.4" ry="2.79" fill="#9aba64"/>
<ellipse cx="42.66" cy="-161.94" rx="2.65" ry="2.16" fill="#88ab50"/>
<ellipse cx="-1.7" cy="-109.77" rx="3.41" ry="2.79" fill="#76993f"/>
<ellipse cx="157.21" cy="-101.27" rx="3.73" ry="3.05" fill="#76993f"/>
<ellipse cx="-5.06" cy="-83.8" rx="2.99" ry="2.45" fill="#93b45a"/>
<ellipse cx="35.46" cy="-92.17" rx="3.95" ry="3.23" fill="#7a9d43"/>
<ellipse cx="83.76" cy="-111.15" rx="4.11" ry="3.36" fill="#88ab50"/>
<ellipse cx="39.27" cy="-120.75" rx="3.98" ry="3.26" fill="#88ab50"/>
<ellipse cx="119.53" cy="-125.23" rx="4.16" ry="3.4" fill="#b2cc86"/>
<ellipse cx="86.88" cy="-101.26" rx="3.4" ry="2.78" fill="#9aba64"/>
<ellipse cx="32.21" cy="-84.66" rx="3.45" ry="2.82" fill="#88ab50"/>
<ellipse cx="36.78" cy="-132.21" rx="3.49" ry="2.86" fill="#7a9d43"/>
<ellipse cx="70.3" cy="-96.16" rx="3.84" ry="3.14" fill="#88ab50"/>
<ellipse cx="2.8" cy="-79.91" rx="3.97" ry="3.25" fill="#587c2e"/>
<ellipse cx="76.14" cy="-70.59" rx="3.52" ry="2.88" fill="#6f9440"/>
<ellipse cx="83.53" cy="-150.03" rx="2.88" ry="2.36" fill="#5f8433"/>
<ellipse cx="-9.83" cy="-81.3" rx="3.68" ry="3.01" fill="#587c2e"/>
<ellipse cx="61.33" cy="-91.82" rx="3.75" ry="3.07" fill="#6a8e38"/>
<ellipse cx="-12.13" cy="-85.62" rx="3.39" ry="2.77" fill="#b2cc86"/>
<ellipse cx="50.08" cy="-83.35" rx="2.98" ry="2.44" fill="#4a6a28"/>
<ellipse cx="75.94" cy="-140.38" rx="3.57" ry="2.92" fill="#9aba64"/>
<ellipse cx="30.98" cy="-109.1" rx="2.81" ry="2.3" fill="#9aba64"/>
<ellipse cx="132.29" cy="-96.61" rx="3.93" ry="3.22" fill="#a6c474"/>
<ellipse cx="70.66" cy="-93.06" rx="3.29" ry="2.69" fill="#9aba64"/>
<ellipse cx="16.87" cy="-88.87" rx="4.15" ry="3.4" fill="#7a9d43"/>
<ellipse cx="37.77" cy="-131.29" rx="4.11" ry="3.37" fill="#76993f"/>
<ellipse cx="43.61" cy="-143.97" rx="4.32" ry="3.53" fill="#4a6a28"/>
<ellipse cx="34.45" cy="-94.03" rx="2.86" ry="2.34" fill="#76993f"/>
<ellipse cx="20.11" cy="-153.46" rx="4.26" ry="3.48" fill="#93b45a"/>
<ellipse cx="-7.93" cy="-89.58" rx="4.27" ry="3.49" fill="#6a8e38"/>
<ellipse cx="-1.91" cy="-153.02" rx="2.68" ry="2.19" fill="#9aba64"/>
<ellipse cx="61.53" cy="-119.84" rx="4.39" ry="3.59" fill="#4a6a28"/>
<ellipse cx="113.7" cy="-83.54" rx="2.94" ry="2.4" fill="#587c2e"/>
<ellipse cx="83.15" cy="-96.7" rx="3.38" ry="2.77" fill="#587c2e"/>
<ellipse cx="-4.73" cy="-97.21" rx="3.63" ry="2.97" fill="#587c2e"/>
<ellipse cx="-17.47" cy="-89.19" rx="3.17" ry="2.59" fill="#5f8433"/>
<ellipse cx="20.63" cy="-93.97" rx="2.91" ry="2.38" fill="#a6c474"/>
<ellipse cx="59.69" cy="-103.35" rx="3.26" ry="2.67" fill="#6f9440"/>
<ellipse cx="95.38" cy="-114.21" rx="2.97" ry="2.43" fill="#9aba64"/>
<ellipse cx="60.78" cy="-83.55" rx="4.31" ry="3.53" fill="#5f8433"/>
<ellipse cx="142.55" cy="-162.41" rx="3.06" ry="2.5" fill="#93b45a"/>
<ellipse cx="134.43" cy="-167.46" rx="4.59" ry="3.76" fill="#76993f"/>
<ellipse cx="66.29" cy="-104.43" rx="3.11" ry="2.55" fill="#9aba64"/>
<ellipse cx="-1.3" cy="-105.23" rx="4.44" ry="3.64" fill="#a6c474"/>
<ellipse cx="32.1" cy="-90.81" rx="3.33" ry="2.73" fill="#a6c474"/>
<ellipse cx="10.78" cy="-116.55" rx="3.36" ry="2.75" fill="#b2cc86"/>
<ellipse cx="147.88" cy="-95.74" rx="4.58" ry="3.75" fill="#7a9d43"/>
<ellipse cx="63.17" cy="-75.86" rx="3.84" ry="3.14" fill="#587c2e"/>
<ellipse cx="-3.75" cy="-98.38" rx="4.2" ry="3.44" fill="#93b45a"/>
<ellipse cx="-9.3" cy="-84.53" rx="2.92" ry="2.39" fill="#9aba64"/>
<ellipse cx="163.01" cy="-100.53" rx="4.51" ry="3.69" fill="#5f8433"/>
<ellipse cx="125.37" cy="-146.95" rx="3.46" ry="2.83" fill="#5f8433"/>
<ellipse cx="34.15" cy="-81.58" rx="4.32" ry="3.54" fill="#6f9440"/>
<ellipse cx="29.23" cy="-83.51" rx="3.72" ry="3.04" fill="#b2cc86"/>
<ellipse cx="-1.52" cy="-98.64" rx="3.44" ry="2.81" fill="#88ab50"/>
<ellipse cx="20.94" cy="-86.89" rx="4.15" ry="3.4" fill="#587c2e"/>
<ellipse cx="145.63" cy="-90.81" rx="3.46" ry="2.83" fill="#9aba64"/>
<ellipse cx="17.3" cy="-153.51" rx="3.31" ry="2.71" fill="#4a6a28"/>
<ellipse cx="83.26" cy="-127.5" rx="3.41" ry="2.79" fill="#9aba64"/>
<ellipse cx="-5.79" cy="-147.73" rx="3.41" ry="2.79" fill="#88ab50"/>
<ellipse cx="36.35" cy="-92.44" rx="3.79" ry="3.1" fill="#4a6a28"/>
<ellipse cx="10.44" cy="-82.61" rx="2.79" ry="2.28" fill="#93b45a"/>
<ellipse cx="31.19" cy="-114.02" rx="4.48" ry="3.67" fill="#587c2e"/>
<ellipse cx="78.21" cy="-70.08" rx="4.4" ry="3.6" fill="#6f9440"/>
<ellipse cx="41.2" cy="-83.94" rx="3.54" ry="2.89" fill="#93b45a"/>
<ellipse cx="16.69" cy="-76.22" rx="4.34" ry="3.55" fill="#b2cc86"/>
<ellipse cx="36.41" cy="-164.21" rx="4.59" ry="3.76" fill="#7a9d43"/>
<ellipse cx="53.19" cy="-114.2" rx="4.57" ry="3.74" fill="#88ab50"/>
<ellipse cx="80.46" cy="-112.5" rx="3.27" ry="2.68" fill="#7a9d43"/>
<ellipse cx="134.67" cy="-138.24" rx="4.36" ry="3.57" fill="#7a9d43"/>
<ellipse cx="26.01" cy="-81.37" rx="2.92" ry="2.39" fill="#76993f"/>
<ellipse cx="13.4" cy="-133.36" rx="3.19" ry="2.61" fill="#a6c474"/>
<ellipse cx="20.29" cy="-154.62" rx="2.66" ry="2.18" fill="#88ab50"/>
<ellipse cx="8.46" cy="-112.03" rx="4.07" ry="3.33" fill="#88ab50"/>
<ellipse cx="20.79" cy="-137.28" rx="4.46" ry="3.65" fill="#93b45a"/>
<ellipse cx="101.02" cy="-118.95" rx="3.14" ry="2.57" fill="#b2cc86"/>
<ellipse cx="74.1" cy="-87.59" rx="4.37" ry="3.57" fill="#5f8433"/>
<ellipse cx="52.04" cy="-116.8" rx="4.12" ry="3.37" fill="#5f8433"/>
<ellipse cx="95.9" cy="-139.62" rx="4.55" ry="3.72" fill="#7a9d43"/>
<ellipse cx="123.87" cy="-98.86" rx="4.03" ry="3.3" fill="#b2cc86"/>
<ellipse cx="14.33" cy="-92.81" rx="2.68" ry="2.2" fill="#5f8433"/>
<ellipse cx="156.33" cy="-104.03" rx="4.51" ry="3.69" fill="#88ab50"/>
<ellipse cx="99.93" cy="-131.05" rx="2.76" ry="2.26" fill="#6a8e38"/>
<ellipse cx="14.93" cy="-110.18" rx="3.18" ry="2.6" fill="#76993f"/>
<ellipse cx="16.04" cy="-107.49" rx="2.66" ry="2.18" fill="#93b45a"/>
<ellipse cx="-10.56" cy="-112.89" rx="3.85" ry="3.15" fill="#587c2e"/>
<ellipse cx="84.56" cy="-151.39" rx="3.43" ry="2.81" fill="#93b45a"/>
<ellipse cx="61.07" cy="-90.68" rx="2.98" ry="2.44" fill="#6f9440"/>
<ellipse cx="26.59" cy="-134.61" rx="4.43" ry="3.63" fill="#6a8e38"/>
<ellipse cx="125.52" cy="-155.27" rx="3.61" ry="2.95" fill="#5f8433"/>
<ellipse cx="48.52" cy="-122.75" rx="4.56" ry="3.73" fill="#587c2e"/>
<ellipse cx="34.93" cy="-159.35" rx="3.82" ry="3.13" fill="#b2cc86"/>
<ellipse cx="132.85" cy="-112.87" rx="3.35" ry="2.74" fill="#76993f"/>
<ellipse cx="135.19" cy="-124.07" rx="4.18" ry="3.42" fill="#6a8e38"/>
<ellipse cx="2.31" cy="-115.98" rx="4.04" ry="3.3" fill="#9aba64"/>
<ellipse cx="112.59" cy="-122.69" rx="2.95" ry="2.41" fill="#88ab50"/>
<ellipse cx="153.06" cy="-128.5" rx="3.04" ry="2.48" fill="#76993f"/>
<ellipse cx="37.8" cy="-165.26" rx="4.21" ry="3.44" fill="#93b45a"/>
<ellipse cx="67.59" cy="-112.35" rx="2.99" ry="2.44" fill="#587c2e"/>
<ellipse cx="4.44" cy="-150.11" rx="3.88" ry="3.17" fill="#76993f"/>
<ellipse cx="15.38" cy="-92.65" rx="4.23" ry="3.46" fill="#4a6a28"/>
<ellipse cx="14.75" cy="-96.08" rx="3.52" ry="2.88" fill="#b2cc86"/>
<ellipse cx="123.17" cy="-86.85" rx="3.89" ry="3.18" fill="#6f9440"/>
<ellipse cx="39.16" cy="-77.78" rx="4.57" ry="3.74" fill="#5f8433"/>
<ellipse cx="33.22" cy="-141.56" rx="2.87" ry="2.35" fill="#6a8e38"/>
<ellipse cx="131.83" cy="-143.09" rx="4.21" ry="3.44" fill="#6f9440"/>
<ellipse cx="27.32" cy="-80.88" rx="4.42" ry="3.61" fill="#a6c474"/>
<ellipse cx="164.11" cy="-112.56" rx="4.45" ry="3.64" fill="#93b45a"/>
<ellipse cx="119.2" cy="-148.75" rx="4.25" ry="3.48" fill="#b2cc86"/>
<ellipse cx="104.01" cy="-91.67" rx="4.34" ry="3.55" fill="#a6c474"/>
<ellipse cx="12.96" cy="-82.99" rx="3.29" ry="2.69" fill="#6a8e38"/>
<ellipse cx="-9.89" cy="-109.56" rx="3.44" ry="2.82" fill="#93b45a"/>
<ellipse cx="36.23" cy="-154.4" rx="4.33" ry="3.54" fill="#6f9440"/>
<ellipse cx="83.99" cy="-100.05" rx="2.71" ry="2.22" fill="#7a9d43"/>
<ellipse cx="99.06" cy="-133.66" rx="4.25" ry="3.48" fill="#93b45a"/>
<ellipse cx="19.16" cy="-91.39" rx="3.67" ry="3" fill="#76993f"/>
<ellipse cx="81.22" cy="-150.26" rx="3.81" ry="3.12" fill="#b2cc86"/>
<ellipse cx="142.36" cy="-93.23" rx="2.8" ry="2.29" fill="#76993f"/>
<ellipse cx="28.03" cy="-96.26" rx="3.59" ry="2.94" fill="#4a6a28"/>
<ellipse cx="65.23" cy="-143.61" rx="2.65" ry="2.17" fill="#88ab50"/>
<ellipse cx="4.47" cy="-80.03" rx="3.33" ry="2.72" fill="#7a9d43"/>
<ellipse cx="138.6" cy="-144.43" rx="3.87" ry="3.17" fill="#76993f"/>
<ellipse cx="38.11" cy="-74.59" rx="3.74" ry="3.06" fill="#5f8433"/>
<ellipse cx="164.05" cy="-106.57" rx="4.21" ry="3.44" fill="#4a6a28"/>
<ellipse cx="32.32" cy="-98.52" rx="3.7" ry="3.03" fill="#b2cc86"/>
<ellipse cx="129.92" cy="-124.36" rx="3.97" ry="3.25" fill="#93b45a"/>
<ellipse cx="45.33" cy="-146.8" rx="4.44" ry="3.63" fill="#76993f"/>
<ellipse cx="43.64" cy="-156.14" rx="2.98" ry="2.44" fill="#4a6a28"/>
<ellipse cx="64.62" cy="-138.64" rx="3.03" ry="2.48" fill="#93b45a"/>
<ellipse cx="75.43" cy="-141.96" rx="4.22" ry="3.45" fill="#b2cc86"/>
<ellipse cx="133.3" cy="-84.55" rx="4.32" ry="3.53" fill="#6a8e38"/>
<ellipse cx="77.73" cy="-151.5" rx="4.32" ry="3.53" fill="#88ab50"/>
<ellipse cx="161.97" cy="-128.55" rx="4.39" ry="3.59" fill="#4a6a28"/>
<ellipse cx="6.58" cy="-144.37" rx="3.59" ry="2.94" fill="#93b45a"/>
<ellipse cx="1.33" cy="-76.74" rx="3.47" ry="2.84" fill="#7a9d43"/>
<ellipse cx="76.35" cy="-153.77" rx="3.52" ry="2.88" fill="#5f8433"/>
<ellipse cx="-2.08" cy="-110.57" rx="3.73" ry="3.05" fill="#5f8433"/>
<ellipse cx="12.35" cy="-132.03" rx="3.11" ry="2.54" fill="#88ab50"/>
<ellipse cx="42.28" cy="-93.7" rx="3.48" ry="2.84" fill="#6f9440"/>
<ellipse cx="38.15" cy="-85.44" rx="4.01" ry="3.28" fill="#88ab50"/>
<ellipse cx="26.4" cy="-143.43" rx="3.16" ry="2.58" fill="#76993f"/>
<ellipse cx="100.98" cy="-87.1" rx="2.93" ry="2.39" fill="#b2cc86"/>
<ellipse cx="40.91" cy="-86.07" rx="3.2" ry="2.62" fill="#88ab50"/>
<ellipse cx="76.81" cy="-85.13" rx="3.78" ry="3.09" fill="#6f9440"/>
<ellipse cx="53.67" cy="-98.9" rx="4.49" ry="3.67" fill="#5f8433"/>
<ellipse cx="26.19" cy="-136.11" rx="4.44" ry="3.63" fill="#76993f"/>
<ellipse cx="31.62" cy="-111.5" rx="3.15" ry="2.57" fill="#6f9440"/>
<ellipse cx="13.45" cy="-109.7" rx="3.13" ry="2.56" fill="#7a9d43"/>
<ellipse cx="121.53" cy="-149.98" rx="2.68" ry="2.19" fill="#7a9d43"/>
<ellipse cx="44.07" cy="-79.59" rx="3.1" ry="2.54" fill="#4a6a28"/>
<ellipse cx="80.28" cy="-69.75" rx="3.47" ry="2.84" fill="#76993f"/>
<ellipse cx="50.41" cy="-85.03" rx="3.6" ry="2.95" fill="#93b45a"/>
<ellipse cx="117.68" cy="-127.77" rx="4.4" ry="3.6" fill="#5f8433"/>
<ellipse cx="123.49" cy="-117.58" rx="3.23" ry="2.65" fill="#4a6a28"/>
<ellipse cx="17.04" cy="-142.84" rx="3.88" ry="3.18" fill="#587c2e"/>
<ellipse cx="112.76" cy="-94.87" rx="3.55" ry="2.9" fill="#9aba64"/>
<ellipse cx="138.4" cy="-98.31" rx="3.57" ry="2.92" fill="#5f8433"/>
<ellipse cx="34.59" cy="-92.46" rx="3.26" ry="2.67" fill="#7a9d43"/>
<ellipse cx="104.69" cy="-111.67" rx="3.09" ry="2.53" fill="#6f9440"/>
<ellipse cx="108.36" cy="-81.64" rx="4.33" ry="3.54" fill="#88ab50"/>
<ellipse cx="-6.39" cy="-89.01" rx="4.06" ry="3.33" fill="#6f9440"/>
<ellipse cx="59.27" cy="-109.2" rx="2.76" ry="2.26" fill="#6a8e38"/>
<ellipse cx="122.74" cy="-158.9" rx="3.46" ry="2.83" fill="#5f8433"/>
<ellipse cx="126.02" cy="-107.41" rx="4.43" ry="3.62" fill="#7a9d43"/>
<ellipse cx="106.12" cy="-92.22" rx="2.95" ry="2.41" fill="#a6c474"/>
<ellipse cx="47.83" cy="-139.56" rx="3.45" ry="2.83" fill="#76993f"/>
<ellipse cx="33.75" cy="-138.71" rx="3.91" ry="3.2" fill="#93b45a"/>
<ellipse cx="101.09" cy="-127.02" rx="4.2" ry="3.44" fill="#6f9440"/>
<ellipse cx="10.16" cy="-164.14" rx="2.95" ry="2.42" fill="#7a9d43"/>
<ellipse cx="153.94" cy="-119.79" rx="3.98" ry="3.26" fill="#5f8433"/>
<ellipse cx="82.5" cy="-99.85" rx="3.35" ry="2.74" fill="#6f9440"/>
<ellipse cx="40.37" cy="-87.12" rx="3.15" ry="2.58" fill="#a6c474"/>
<ellipse cx="94.68" cy="-140.6" rx="4.58" ry="3.75" fill="#93b45a"/>
<ellipse cx="120.48" cy="-121.42" rx="4.2" ry="3.43" fill="#6f9440"/>
<ellipse cx="3.83" cy="-112.3" rx="3.15" ry="2.58" fill="#6a8e38"/>
<ellipse cx="58.89" cy="-113.83" rx="4.36" ry="3.57" fill="#93b45a"/>
<ellipse cx="53.2" cy="-94.54" rx="3.34" ry="2.73" fill="#93b45a"/>
<ellipse cx="66.62" cy="-140.2" rx="4.52" ry="3.69" fill="#4a6a28"/>
<ellipse cx="134.03" cy="-123.59" rx="4.13" ry="3.38" fill="#76993f"/>
<ellipse cx="80.16" cy="-99.1" rx="2.93" ry="2.4" fill="#6f9440"/>
<ellipse cx="130.96" cy="-97.51" rx="2.95" ry="2.41" fill="#9aba64"/>
<ellipse cx="145.69" cy="-167.97" rx="3.88" ry="3.17" fill="#88ab50"/>
<ellipse cx="161.01" cy="-106.73" rx="3.15" ry="2.57" fill="#88ab50"/>
<ellipse cx="149.68" cy="-158.35" rx="3.71" ry="3.04" fill="#7a9d43"/>
<ellipse cx="24.05" cy="-159.3" rx="4.57" ry="3.74" fill="#6f9440"/>
<ellipse cx="124.23" cy="-153.77" rx="2.82" ry="2.31" fill="#6f9440"/>
<ellipse cx="84.59" cy="-100.38" rx="3.91" ry="3.2" fill="#587c2e"/>
<ellipse cx="-2.89" cy="-97.7" rx="4.16" ry="3.4" fill="#4a6a28"/>
<ellipse cx="133.08" cy="-117.46" rx="2.66" ry="2.18" fill="#6f9440"/>
<ellipse cx="35.14" cy="-120.32" rx="2.93" ry="2.4" fill="#5f8433"/>
<ellipse cx="154.93" cy="-130.17" rx="4.13" ry="3.38" fill="#4a6a28"/>
<ellipse cx="143.85" cy="-156.56" rx="3.51" ry="2.88" fill="#b2cc86"/>
<ellipse cx="21.51" cy="-95.66" rx="4.49" ry="3.67" fill="#93b45a"/>
<ellipse cx="18.57" cy="-144.35" rx="3.97" ry="3.25" fill="#b2cc86"/>
<ellipse cx="89.72" cy="-151.04" rx="4.15" ry="3.39" fill="#9aba64"/>
<ellipse cx="148.9" cy="-93.54" rx="2.81" ry="2.3" fill="#b2cc86"/>
<ellipse cx="78.01" cy="-71.39" rx="2.82" ry="2.3" fill="#6a8e38"/>
<ellipse cx="88.1" cy="-78.66" rx="3.61" ry="2.95" fill="#93b45a"/>
<ellipse cx="42.34" cy="-144.19" rx="2.94" ry="2.4" fill="#6f9440"/>
<ellipse cx="82.87" cy="-135.23" rx="3.2" ry="2.62" fill="#4a6a28"/>
<ellipse cx="-0.75" cy="-77.61" rx="4" ry="3.28" fill="#76993f"/>
<ellipse cx="-16.6" cy="-77.9" rx="3.63" ry="2.97" fill="#4a6a28"/>
<ellipse cx="81.16" cy="-126.32" rx="4.22" ry="3.45" fill="#6f9440"/>
<ellipse cx="-1.41" cy="-99.62" rx="4.28" ry="3.5" fill="#6a8e38"/>
<ellipse cx="68.19" cy="-107.56" rx="4.03" ry="3.3" fill="#b2cc86"/>
<ellipse cx="84.28" cy="-124.5" rx="3.09" ry="2.53" fill="#6f9440"/>
<ellipse cx="132.83" cy="-173.13" rx="4.24" ry="3.47" fill="#88ab50"/>
<ellipse cx="150.6" cy="-129.79" rx="4.6" ry="3.76" fill="#76993f"/>
<ellipse cx="22.6" cy="-110.94" rx="4.16" ry="3.4" fill="#4a6a28"/>
<ellipse cx="116.14" cy="-152.28" rx="3.17" ry="2.6" fill="#9aba64"/>
<ellipse cx="55.15" cy="-100.22" rx="2.77" ry="2.27" fill="#88ab50"/>
<ellipse cx="100.58" cy="-127.44" rx="2.75" ry="2.25" fill="#587c2e"/>
<ellipse cx="147.14" cy="-142.51" rx="4.61" ry="3.77" fill="#93b45a"/>
<ellipse cx="132.7" cy="-174.41" rx="4.49" ry="3.67" fill="#b2cc86"/>
<ellipse cx="14.44" cy="-152.82" rx="3.66" ry="2.99" fill="#7a9d43"/>
<ellipse cx="1.29" cy="-139.58" rx="4.33" ry="3.54" fill="#6f9440"/>
<ellipse cx="150.45" cy="-146.38" rx="2.74" ry="2.24" fill="#6a8e38"/>
<ellipse cx="7.84" cy="-88.76" rx="3.83" ry="3.13" fill="#93b45a"/>
<ellipse cx="10.62" cy="-132.66" rx="3.03" ry="2.48" fill="#76993f"/>
<ellipse cx="77.16" cy="-139.41" rx="3.26" ry="2.66" fill="#587c2e"/>
<ellipse cx="51.58" cy="-138.28" rx="4.27" ry="3.49" fill="#b2cc86"/>
<ellipse cx="78.89" cy="-111.29" rx="4.23" ry="3.46" fill="#b2cc86"/>
<ellipse cx="71.05" cy="-68.78" rx="4.1" ry="3.35" fill="#4a6a28"/>
<ellipse cx="80.76" cy="-74.11" rx="3.12" ry="2.55" fill="#b2cc86"/>
<ellipse cx="98.37" cy="-77.88" rx="2.95" ry="2.41" fill="#5f8433"/>
<ellipse cx="22.65" cy="-156.53" rx="3.43" ry="2.81" fill="#4a6a28"/>
<ellipse cx="130.09" cy="-84.26" rx="3.37" ry="2.75" fill="#6f9440"/>
<ellipse cx="123.75" cy="-121.84" rx="2.99" ry="2.45" fill="#b2cc86"/>
<ellipse cx="140.52" cy="-164.22" rx="4.27" ry="3.49" fill="#b2cc86"/>
<ellipse cx="133.87" cy="-82.25" rx="2.88" ry="2.36" fill="#6a8e38"/>
<ellipse cx="6.48" cy="-83.14" rx="2.8" ry="2.29" fill="#a6c474"/>
<ellipse cx="33.91" cy="-155.13" rx="2.7" ry="2.21" fill="#4a6a28"/>
<ellipse cx="11.24" cy="-96.73" rx="3.2" ry="2.62" fill="#587c2e"/>
<ellipse cx="126.09" cy="-158.65" rx="4.09" ry="3.35" fill="#88ab50"/>
<ellipse cx="144.59" cy="-95.29" rx="4.32" ry="3.53" fill="#88ab50"/>
<ellipse cx="93.1" cy="-156.64" rx="3.41" ry="2.79" fill="#587c2e"/>
<ellipse cx="1.29" cy="-114.64" rx="3.02" ry="2.47" fill="#6a8e38"/>
<ellipse cx="16.25" cy="-93.14" rx="4.08" ry="3.34" fill="#6a8e38"/>
<ellipse cx="7.94" cy="-87.09" rx="4.25" ry="3.48" fill="#88ab50"/>
<ellipse cx="153.04" cy="-145.59" rx="3.32" ry="2.72" fill="#7a9d43"/>
<ellipse cx="58.96" cy="-95.94" rx="4.32" ry="3.54" fill="#587c2e"/>
<ellipse cx="55.27" cy="-76.51" rx="4.43" ry="3.62" fill="#7a9d43"/>
<ellipse cx="60.59" cy="-90.02" rx="3.87" ry="3.17" fill="#b2cc86"/>
<ellipse cx="155.65" cy="-105.34" rx="4.09" ry="3.35" fill="#587c2e"/>
<ellipse cx="41.99" cy="-86.07" rx="4.58" ry="3.75" fill="#6a8e38"/>
<ellipse cx="110.52" cy="-124.27" rx="3.21" ry="2.63" fill="#a6c474"/>
<ellipse cx="105.19" cy="-98.77" rx="3.6" ry="2.95" fill="#5f8433"/>
<ellipse cx="100.34" cy="-85.99" rx="3.59" ry="2.94" fill="#6f9440"/>
<ellipse cx="63.86" cy="-143.21" rx="3.16" ry="2.58" fill="#b2cc86"/>
<circle cx="-3.28" cy="-90.46" r="1.14" fill="#44602a" opacity=".85"/>
<circle cx="159.85" cy="-100.6" r="1.07" fill="#44602a" opacity=".85"/>
<circle cx="34.63" cy="-138.51" r="0.96" fill="#44602a" opacity=".85"/>
<circle cx="9.37" cy="-153.37" r="0.82" fill="#44602a" opacity=".85"/>
<circle cx="35.73" cy="-118.96" r="1.34" fill="#44602a" opacity=".85"/>
<circle cx="81.56" cy="-95.88" r="1.13" fill="#44602a" opacity=".85"/>
<circle cx="8" cy="-78.77" r="0.98" fill="#44602a" opacity=".85"/>
<circle cx="19.49" cy="-109.13" r="0.83" fill="#44602a" opacity=".85"/>
<circle cx="31.64" cy="-138.43" r="0.96" fill="#44602a" opacity=".85"/>
<circle cx="156.65" cy="-124.63" r="1.1" fill="#44602a" opacity=".85"/>
<circle cx="18.93" cy="-149.5" r="1.19" fill="#44602a" opacity=".85"/>
<circle cx="1.74" cy="-79.07" r="1.14" fill="#44602a" opacity=".85"/>
<circle cx="166.46" cy="-109.06" r="1.09" fill="#44602a" opacity=".85"/>
<circle cx="19.54" cy="-72.87" r="1.04" fill="#44602a" opacity=".85"/>
<circle cx="48.67" cy="-77.97" r="1.15" fill="#44602a" opacity=".85"/>
<circle cx="16.99" cy="-104.57" r="1.16" fill="#44602a" opacity=".85"/>
<circle cx="9.41" cy="-87.92" r="0.96" fill="#44602a" opacity=".85"/>
<circle cx="14.06" cy="-112.89" r="1.23" fill="#44602a" opacity=".85"/>
<circle cx="63.78" cy="-78.44" r="1.38" fill="#44602a" opacity=".85"/>
<circle cx="97.3" cy="-136.73" r="0.99" fill="#44602a" opacity=".85"/>
<circle cx="67.37" cy="-107.84" r="1.33" fill="#44602a" opacity=".85"/>
<circle cx="132.99" cy="-101.24" r="0.93" fill="#44602a" opacity=".85"/>
<circle cx="141.59" cy="-96.92" r="0.82" fill="#44602a" opacity=".85"/>
<circle cx="100.04" cy="-86.12" r="1.32" fill="#44602a" opacity=".85"/>
<circle cx="36.45" cy="-81.59" r="1.04" fill="#44602a" opacity=".85"/>
<circle cx="118.08" cy="-118.16" r="1.33" fill="#44602a" opacity=".85"/>
<circle cx="-15.33" cy="-87.17" r="1.36" fill="#44602a" opacity=".85"/>
<circle cx="131.17" cy="-118.85" r="1.26" fill="#44602a" opacity=".85"/>
<circle cx="159.13" cy="-135.93" r="0.95" fill="#44602a" opacity=".85"/>
<circle cx="123.16" cy="-109.13" r="1.03" fill="#44602a" opacity=".85"/>
<circle cx="28.81" cy="-92.39" r="0.89" fill="#44602a" opacity=".85"/>
<circle cx="-15.06" cy="-82.5" r="1.27" fill="#44602a" opacity=".85"/>
<circle cx="25.28" cy="-94.29" r="1.3" fill="#44602a" opacity=".85"/>
<circle cx="93.98" cy="-77.19" r="1.07" fill="#44602a" opacity=".85"/>
<circle cx="11.31" cy="-90.91" r="1.01" fill="#44602a" opacity=".85"/>
<circle cx="21.28" cy="-143.53" r="1.37" fill="#44602a" opacity=".85"/>
<circle cx="66.26" cy="-103.33" r="0.88" fill="#44602a" opacity=".85"/>
<circle cx="32.3" cy="-76.27" r="1.08" fill="#44602a" opacity=".85"/>
<circle cx="62.91" cy="-146.63" r="1.31" fill="#44602a" opacity=".85"/>
<circle cx="110.36" cy="-81.51" r="1.24" fill="#44602a" opacity=".85"/>
<circle cx="-0.65" cy="-77.42" r="0.98" fill="#44602a" opacity=".85"/>
<circle cx="105.7" cy="-80.38" r="1.27" fill="#44602a" opacity=".85"/>
<circle cx="-15.07" cy="-82.81" r="0.85" fill="#44602a" opacity=".85"/>
<circle cx="131.28" cy="-171.05" r="0.81" fill="#44602a" opacity=".85"/>
<circle cx="35.12" cy="-104.47" r="1.33" fill="#44602a" opacity=".85"/>
<circle cx="106.03" cy="-88.69" r="0.86" fill="#44602a" opacity=".85"/>
<circle cx="6.26" cy="-145.8" r="0.95" fill="#44602a" opacity=".85"/>
<circle cx="26.54" cy="-86.89" r="0.81" fill="#44602a" opacity=".85"/>
<circle cx="35.3" cy="-160.08" r="1.23" fill="#44602a" opacity=".85"/>
<circle cx="59.31" cy="-100.76" r="1.26" fill="#44602a" opacity=".85"/>
<circle cx="64.67" cy="-144.04" r="0.97" fill="#44602a" opacity=".85"/>
<circle cx="84.91" cy="-73.86" r="0.95" fill="#44602a" opacity=".85"/>
<circle cx="11.66" cy="-153.7" r="1.07" fill="#44602a" opacity=".85"/>
<circle cx="46.77" cy="-101.08" r="1.01" fill="#44602a" opacity=".85"/>
<circle cx="138.22" cy="-167.12" r="1.03" fill="#44602a" opacity=".85"/>
<circle cx="115.15" cy="-96.91" r="1.31" fill="#44602a" opacity=".85"/>
<circle cx="5.14" cy="-146.42" r="1.08" fill="#44602a" opacity=".85"/>
<circle cx="10.05" cy="-77.25" r="1.2" fill="#44602a" opacity=".85"/>
<circle cx="56.16" cy="-116.41" r="1.24" fill="#44602a" opacity=".85"/>
<circle cx="26.86" cy="-83.22" r="1.26" fill="#44602a" opacity=".85"/>
<circle cx="28.82" cy="-161.39" r="1.11" fill="#44602a" opacity=".85"/>
<circle cx="65.33" cy="-140.36" r="1.08" fill="#44602a" opacity=".85"/>
<circle cx="150.89" cy="-131.8" r="1.32" fill="#44602a" opacity=".85"/>
<circle cx="13.64" cy="-96.04" r="1.22" fill="#44602a" opacity=".85"/>
<circle cx="136.88" cy="-127.3" r="0.89" fill="#44602a" opacity=".85"/>
<circle cx="117.07" cy="-144.41" r="1.4" fill="#44602a" opacity=".85"/>
<circle cx="-2.47" cy="-144.86" r="1.21" fill="#44602a" opacity=".85"/>
<circle cx="49.06" cy="-86.81" r="0.89" fill="#44602a" opacity=".85"/>
<circle cx="155.55" cy="-147.74" r="1.11" fill="#44602a" opacity=".85"/>
<circle cx="147.01" cy="-84.8" r="1.17" fill="#44602a" opacity=".85"/>
<circle cx="85.45" cy="-109.64" r="1.08" fill="#44602a" opacity=".85"/>
<circle cx="72.01" cy="-108.26" r="1.15" fill="#44602a" opacity=".85"/>
<circle cx="0.12" cy="-114.46" r="1.3" fill="#44602a" opacity=".85"/>
<circle cx="80.03" cy="-88.88" r="0.91" fill="#44602a" opacity=".85"/>
<circle cx="125.57" cy="-86.85" r="1.04" fill="#44602a" opacity=".85"/>
<circle cx="106.32" cy="-99.61" r="1.33" fill="#44602a" opacity=".85"/>
<circle cx="137.04" cy="-135.09" r="1.31" fill="#44602a" opacity=".85"/>
<circle cx="52.15" cy="-136.85" r="1.37" fill="#44602a" opacity=".85"/>
<circle cx="152.44" cy="-144.97" r="1.01" fill="#44602a" opacity=".85"/>
<circle cx="25.16" cy="-137.73" r="0.95" fill="#44602a" opacity=".85"/>
<circle cx="139.36" cy="-174.97" r="1.2" fill="#44602a" opacity=".85"/>
<circle cx="46.39" cy="-83.54" r="0.97" fill="#44602a" opacity=".85"/>
<circle cx="85.9" cy="-80.66" r="1.26" fill="#44602a" opacity=".85"/>
<circle cx="92.46" cy="-78.48" r="0.93" fill="#44602a" opacity=".85"/>
<circle cx="104.92" cy="-98.14" r="0.92" fill="#44602a" opacity=".85"/>
<circle cx="50.53" cy="-136.01" r="1.12" fill="#44602a" opacity=".85"/>
<circle cx="60.69" cy="-101.42" r="0.98" fill="#44602a" opacity=".85"/>
<circle cx="24.65" cy="-78.66" r="1.24" fill="#44602a" opacity=".85"/>
<circle cx="7.36" cy="-82.79" r="0.95" fill="#44602a" opacity=".85"/>
<circle cx="9.76" cy="-114.4" r="1.26" fill="#44602a" opacity=".85"/>
<circle cx="152.84" cy="-106.16" r="1.23" fill="#44602a" opacity=".85"/>
<circle cx="133.42" cy="-84.76" r="1.24" fill="#44602a" opacity=".85"/>
<circle cx="43.44" cy="-81.44" r="1.35" fill="#44602a" opacity=".85"/>
<circle cx="155.69" cy="-104.76" r="1.07" fill="#44602a" opacity=".85"/>
<circle cx="105.21" cy="-108.34" r="1.11" fill="#44602a" opacity=".85"/>
<circle cx="46.23" cy="-103.94" r="1.31" fill="#44602a" opacity=".85"/>
<circle cx="86.84" cy="-87.22" r="1.22" fill="#44602a" opacity=".85"/>
<circle cx="40.52" cy="-85.98" r="0.87" fill="#44602a" opacity=".85"/>
<circle cx="26.27" cy="-136.2" r="1.23" fill="#44602a" opacity=".85"/>
<circle cx="65.72" cy="-105.62" r="0.99" fill="#44602a" opacity=".85"/>
<circle cx="33.02" cy="-132.02" r="1.03" fill="#44602a" opacity=".85"/>
<circle cx="40.7" cy="-82.95" r="0.84" fill="#44602a" opacity=".85"/>
<circle cx="47.89" cy="-79.28" r="1.13" fill="#44602a" opacity=".85"/>
<circle cx="14.9" cy="-97.31" r="1.02" fill="#44602a" opacity=".85"/>
<circle cx="75.7" cy="-75.77" r="1.25" fill="#44602a" opacity=".85"/>
<circle cx="27.41" cy="-110.03" r="1.38" fill="#44602a" opacity=".85"/>
<circle cx="80.16" cy="-100.89" r="1.11" fill="#44602a" opacity=".85"/>
<circle cx="103.15" cy="-88.51" r="0.85" fill="#44602a" opacity=".85"/>
<circle cx="25.88" cy="-136.74" r="1.2" fill="#44602a" opacity=".85"/>
<circle cx="80.6" cy="-110.31" r="0.83" fill="#44602a" opacity=".85"/>
<circle cx="26.36" cy="-140.03" r="0.98" fill="#44602a" opacity=".85"/>
<circle cx="156.6" cy="-131.35" r="1.23" fill="#44602a" opacity=".85"/>
<circle cx="135.22" cy="-98.98" r="0.84" fill="#44602a" opacity=".85"/>
<circle cx="14.34" cy="-96.88" r="0.88" fill="#44602a" opacity=".85"/>
<circle cx="113.17" cy="-154.03" r="0.89" fill="#44602a" opacity=".85"/>
<circle cx="15.87" cy="-131.73" r="1.09" fill="#44602a" opacity=".85"/>
<circle cx="86.18" cy="-152.32" r="1.1" fill="#44602a" opacity=".85"/>
<circle cx="35.34" cy="-113.44" r="1.36" fill="#44602a" opacity=".85"/>
<circle cx="-6.02" cy="-143.83" r="1.18" fill="#44602a" opacity=".85"/>
<circle cx="132.38" cy="-96.63" r="1.18" fill="#44602a" opacity=".85"/>
<circle cx="102.46" cy="-87.81" r="1.39" fill="#44602a" opacity=".85"/>
<circle cx="98.31" cy="-129.14" r="1.21" fill="#44602a" opacity=".85"/>
<circle cx="66.1" cy="-138.01" r="0.92" fill="#44602a" opacity=".85"/>
<circle cx="121.45" cy="-116.97" r="0.81" fill="#44602a" opacity=".85"/>
<circle cx="126.21" cy="-154.37" r="0.96" fill="#44602a" opacity=".85"/>
<circle cx="93.31" cy="-139.38" r="1.3" fill="#44602a" opacity=".85"/>
<circle cx="155.87" cy="-140.92" r="1.03" fill="#44602a" opacity=".85"/>
<circle cx="62.65" cy="-78.02" r="1.23" fill="#44602a" opacity=".85"/>
<circle cx="56.45" cy="-95.59" r="0.9" fill="#44602a" opacity=".85"/>
<circle cx="123.26" cy="-122.06" r="0.89" fill="#44602a" opacity=".85"/>
<circle cx="49.25" cy="-135.1" r="1.15" fill="#44602a" opacity=".85"/>
<circle cx="28.22" cy="-162.79" r="1.39" fill="#44602a" opacity=".85"/>
<circle cx="104.4" cy="-92.57" r="0.82" fill="#44602a" opacity=".85"/>
<circle cx="20.53" cy="-97.18" r="1.17" fill="#44602a" opacity=".85"/>
<circle cx="1.21" cy="-80.06" r="0.89" fill="#44602a" opacity=".85"/>
<circle cx="110.55" cy="-89.75" r="0.98" fill="#44602a" opacity=".85"/>
<circle cx="32.7" cy="-139.35" r="1.13" fill="#44602a" opacity=".85"/>
<circle cx="14.11" cy="-83.48" r="0.89" fill="#44602a" opacity=".85"/>
<circle cx="74.28" cy="-138.29" r="1.2" fill="#44602a" opacity=".85"/>
<circle cx="35.09" cy="-156.62" r="0.84" fill="#44602a" opacity=".85"/>
<circle cx="17.86" cy="-107.19" r="0.81" fill="#44602a" opacity=".85"/>
<circle cx="32.04" cy="-102.97" r="0.93" fill="#44602a" opacity=".85"/>
<circle cx="88.91" cy="-71.01" r="1.12" fill="#44602a" opacity=".85"/>
<circle cx="78.49" cy="-127.65" r="1.39" fill="#44602a" opacity=".85"/>
<circle cx="-3.03" cy="-140.58" r="1.25" fill="#44602a" opacity=".85"/>
<circle cx="10.82" cy="-136.9" r="1.3" fill="#44602a" opacity=".85"/>
<circle cx="82.31" cy="-156.19" r="0.84" fill="#44602a" opacity=".85"/>
<circle cx="111.16" cy="-94.21" r="0.96" fill="#44602a" opacity=".85"/>
<circle cx="107.15" cy="-82.49" r="0.86" fill="#44602a" opacity=".85"/>
<circle cx="111.13" cy="-86.9" r="0.99" fill="#44602a" opacity=".85"/>
<circle cx="151.73" cy="-99.65" r="1.1" fill="#44602a" opacity=".85"/>
<circle cx="7.61" cy="-71.01" r="0.93" fill="#44602a" opacity=".85"/>
<circle cx="95.35" cy="-133.69" r="1.35" fill="#44602a" opacity=".85"/>
<circle cx="67.65" cy="-91.52" r="1.26" fill="#44602a" opacity=".85"/>
<circle cx="14.63" cy="-95.44" r="0.9" fill="#44602a" opacity=".85"/>
<circle cx="127.93" cy="-153.25" r="1.08" fill="#44602a" opacity=".85"/>
<circle cx="66.32" cy="-107.46" r="1.24" fill="#44602a" opacity=".85"/>
<circle cx="89.66" cy="-73.18" r="1.18" fill="#44602a" opacity=".85"/>
<circle cx="64.49" cy="-98.44" r="1.39" fill="#44602a" opacity=".85"/>
<circle cx="62.34" cy="-89.95" r="0.96" fill="#44602a" opacity=".85"/>
<circle cx="14.23" cy="-89.9" r="1.08" fill="#44602a" opacity=".85"/>
<circle cx="27.39" cy="-141.79" r="0.95" fill="#44602a" opacity=".85"/>
<circle cx="18.77" cy="-110.89" r="1.12" fill="#44602a" opacity=".85"/>
<circle cx="36.74" cy="-163.51" r="0.96" fill="#44602a" opacity=".85"/>
<circle cx="151.84" cy="-107.21" r="0.9" fill="#44602a" opacity=".85"/>
<circle cx="48.62" cy="-115.92" r="1.21" fill="#44602a" opacity=".85"/>
<circle cx="83.4" cy="-158.02" r="1.08" fill="#44602a" opacity=".85"/>
<circle cx="141.97" cy="-174.02" r="1.2" fill="#44602a" opacity=".85"/>
<circle cx="19.24" cy="-118.4" r="1.37" fill="#44602a" opacity=".85"/>
<circle cx="20" cy="-148.87" r="1.11" fill="#44602a" opacity=".85"/>
<circle cx="34.69" cy="-141.6" r="0.85" fill="#44602a" opacity=".85"/>
<circle cx="136.44" cy="-82.23" r="0.96" fill="#44602a" opacity=".85"/>
<circle cx="39.87" cy="-154.02" r="1.13" fill="#44602a" opacity=".85"/>
<circle cx="34.45" cy="-134.66" r="1.37" fill="#44602a" opacity=".85"/>
<circle cx="64.48" cy="-143.57" r="0.87" fill="#44602a" opacity=".85"/>
<circle cx="98.33" cy="-108.72" r="0.93" fill="#44602a" opacity=".85"/>
<circle cx="12.37" cy="-115.87" r="0.92" fill="#44602a" opacity=".85"/>
<circle cx="124.87" cy="-103.51" r="0.9" fill="#44602a" opacity=".85"/>
<circle cx="12.86" cy="-72.36" r="0.83" fill="#44602a" opacity=".85"/>
<circle cx="89.42" cy="-143.53" r="0.99" fill="#44602a" opacity=".85"/>
<circle cx="90.81" cy="-76.13" r="1.06" fill="#44602a" opacity=".85"/>
<circle cx="35" cy="-77.39" r="0.98" fill="#44602a" opacity=".85"/>
<circle cx="55.09" cy="-137.22" r="1.21" fill="#44602a" opacity=".85"/>
<circle cx="117.4" cy="-122.95" r="0.82" fill="#44602a" opacity=".85"/>
<circle cx="126.51" cy="-160.05" r="0.96" fill="#44602a" opacity=".85"/>
<circle cx="134.37" cy="-135.67" r="1.13" fill="#44602a" opacity=".85"/>
<circle cx="32.06" cy="-163.03" r="1.26" fill="#44602a" opacity=".85"/>
<circle cx="55.46" cy="-97.27" r="1.3" fill="#44602a" opacity=".85"/>
<circle cx="7.06" cy="-86.75" r="1.39" fill="#44602a" opacity=".85"/>
<circle cx="64.91" cy="-103.48" r="1.22" fill="#44602a" opacity=".85"/>
<circle cx="17.7" cy="-75.3" r="0.81" fill="#44602a" opacity=".85"/>
<circle cx="68.15" cy="-107.42" r="1.2" fill="#44602a" opacity=".85"/>
<circle cx="97.42" cy="-134.2" r="1.2" fill="#44602a" opacity=".85"/>
<circle cx="32.09" cy="-78.73" r="1.34" fill="#44602a" opacity=".85"/>
<circle cx="73.98" cy="-145.31" r="1.28" fill="#44602a" opacity=".85"/>
<circle cx="117.69" cy="-118.71" r="0.83" fill="#44602a" opacity=".85"/>
<circle cx="62.95" cy="-99.35" r="1.29" fill="#44602a" opacity=".85"/>
<circle cx="37.28" cy="-112.45" r="1.19" fill="#44602a" opacity=".85"/>
<circle cx="41.5" cy="-106.01" r="1.23" fill="#44602a" opacity=".85"/>
<circle cx="158.99" cy="-127.28" r="1.4" fill="#44602a" opacity=".85"/>
<circle cx="-2.06" cy="-84.85" r="1.16" fill="#44602a" opacity=".85"/>
<circle cx="35.3" cy="-92.57" r="0.93" fill="#44602a" opacity=".85"/>
<circle cx="16.63" cy="-110.36" r="1.02" fill="#44602a" opacity=".85"/>
<circle cx="32.9" cy="-142.77" r="1.33" fill="#44602a" opacity=".85"/>
<circle cx="81.29" cy="-125.83" r="0.92" fill="#44602a" opacity=".85"/>
<circle cx="4.69" cy="-94.9" r="1.08" fill="#44602a" opacity=".85"/>
<circle cx="159.33" cy="-133.23" r="1.27" fill="#44602a" opacity=".85"/>
<circle cx="15.97" cy="-113.98" r="1.26" fill="#44602a" opacity=".85"/>
<circle cx="33.63" cy="-119.12" r="0.87" fill="#44602a" opacity=".85"/>
<circle cx="70.67" cy="-68.26" r="0.94" fill="#44602a" opacity=".85"/>
<circle cx="-1.69" cy="-97.53" r="1.32" fill="#44602a" opacity=".85"/>
<circle cx="161.91" cy="-115.84" r="0.84" fill="#44602a" opacity=".85"/>
<circle cx="15.38" cy="-130.27" r="1.22" fill="#44602a" opacity=".85"/>
<circle cx="31.27" cy="-95.65" r="0.96" fill="#44602a" opacity=".85"/>
<circle cx="-10.83" cy="-112.84" r="1.37" fill="#44602a" opacity=".85"/>
<circle cx="67.44" cy="-69.64" r="0.83" fill="#44602a" opacity=".85"/>
<circle cx="14.99" cy="-71.72" r="0.85" fill="#44602a" opacity=".85"/>
<circle cx="136.33" cy="-124.19" r="0.93" fill="#44602a" opacity=".85"/>
<circle cx="37.43" cy="-110.21" r="1.39" fill="#44602a" opacity=".85"/>
<circle cx="108.53" cy="-98.47" r="1.33" fill="#44602a" opacity=".85"/>
<circle cx="107.29" cy="-112.19" r="1.02" fill="#44602a" opacity=".85"/>
<circle cx="89.63" cy="-152.94" r="1.25" fill="#44602a" opacity=".85"/>
<circle cx="-17.44" cy="-77.99" r="1.39" fill="#44602a" opacity=".85"/>
<circle cx="20.38" cy="-83.28" r="1.19" fill="#44602a" opacity=".85"/>
<circle cx="78.39" cy="-103.86" r="1.03" fill="#44602a" opacity=".85"/>
<circle cx="105.22" cy="-90.5" r="1" fill="#44602a" opacity=".85"/>
<circle cx="138.57" cy="-150.33" r="1.26" fill="#44602a" opacity=".85"/>
<circle cx="51.21" cy="-76.08" r="1.29" fill="#44602a" opacity=".85"/>
<circle cx="75.54" cy="-83.3" r="0.93" fill="#44602a" opacity=".85"/>
<circle cx="77.9" cy="-87.1" r="1.28" fill="#44602a" opacity=".85"/>
<circle cx="156.56" cy="-107.66" r="1.14" fill="#44602a" opacity=".85"/>
<circle cx="115.55" cy="-91.53" r="1.3" fill="#44602a" opacity=".85"/>
<circle cx="32.52" cy="-96.96" r="1.38" fill="#44602a" opacity=".85"/>
<circle cx="25.76" cy="-78.83" r="0.89" fill="#44602a" opacity=".85"/>
<circle cx="-0.59" cy="-94.52" r="0.97" fill="#44602a" opacity=".85"/>
<circle cx="28.91" cy="-92.2" r="0.96" fill="#44602a" opacity=".85"/>
<circle cx="72.24" cy="-144.92" r="1.35" fill="#44602a" opacity=".85"/>
<circle cx="-15.24" cy="-78.05" r="0.88" fill="#44602a" opacity=".85"/>
<circle cx="-0.09" cy="-99.57" r="1.27" fill="#44602a" opacity=".85"/>
<circle cx="99" cy="-96.07" r="1.09" fill="#44602a" opacity=".85"/>
<circle cx="110.51" cy="-119.63" r="1.14" fill="#44602a" opacity=".85"/>
<circle cx="22.04" cy="-95.23" r="0.98" fill="#44602a" opacity=".85"/>
<circle cx="98.23" cy="-114.92" r="1.05" fill="#44602a" opacity=".85"/>
<circle cx="144.43" cy="-160.11" r="0.84" fill="#44602a" opacity=".85"/>
<circle cx="135.5" cy="-168.73" r="1.38" fill="#44602a" opacity=".85"/>
<circle cx="150.98" cy="-130.68" r="1.17" fill="#44602a" opacity=".85"/>
<circle cx="-4.4" cy="-113.82" r="1.28" fill="#44602a" opacity=".85"/>
<circle cx="37.56" cy="-108.2" r="0.83" fill="#44602a" opacity=".85"/>
<circle cx="99.6" cy="-83.94" r="1.09" fill="#44602a" opacity=".85"/>
<circle cx="39.56" cy="-96.19" r="0.96" fill="#44602a" opacity=".85"/>
<circle cx="39.93" cy="-92.25" r="0.99" fill="#44602a" opacity=".85"/>
<circle cx="64.57" cy="-100.94" r="1.03" fill="#44602a" opacity=".85"/>
<circle cx="133.4" cy="-83.2" r="1.12" fill="#44602a" opacity=".85"/>
<circle cx="132.77" cy="-96.99" r="1.34" fill="#44602a" opacity=".85"/>
<circle cx="104.97" cy="-86.67" r="1.31" fill="#44602a" opacity=".85"/>
<circle cx="115.82" cy="-90.58" r="0.84" fill="#44602a" opacity=".85"/>
<circle cx="125.56" cy="-106.94" r="1.36" fill="#44602a" opacity=".85"/>
<circle cx="2.13" cy="-82.17" r="1.22" fill="#44602a" opacity=".85"/>
<circle cx="31.75" cy="-138.07" r="1.28" fill="#44602a" opacity=".85"/>
<circle cx="120.13" cy="-96.86" r="1.36" fill="#44602a" opacity=".85"/>
<circle cx="72.02" cy="-89.08" r="1.06" fill="#44602a" opacity=".85"/>
<circle cx="6.65" cy="-157.96" r="1.04" fill="#44602a" opacity=".85"/>
<circle cx="77.42" cy="-150.96" r="1.2" fill="#44602a" opacity=".85"/>
<circle cx="-1.85" cy="-114.39" r="1.11" fill="#44602a" opacity=".85"/>
<circle cx="129.87" cy="-174.39" r="1.09" fill="#44602a" opacity=".85"/>
<circle cx="88.8" cy="-99.48" r="1.29" fill="#44602a" opacity=".85"/>
<circle cx="66.98" cy="-89.34" r="1.38" fill="#44602a" opacity=".85"/>
<circle cx="13.12" cy="-159.72" r="0.92" fill="#44602a" opacity=".85"/>
<circle cx="-10.49" cy="-82.38" r="1.12" fill="#44602a" opacity=".85"/>
<circle cx="133.09" cy="-119.17" r="1.36" fill="#44602a" opacity=".85"/>
<circle cx="105.09" cy="-92.55" r="0.82" fill="#44602a" opacity=".85"/>
<circle cx="48.88" cy="-136.36" r="1.27" fill="#44602a" opacity=".85"/>
<circle cx="36.49" cy="-95.18" r="0.81" fill="#44602a" opacity=".85"/>
<circle cx="115.81" cy="-119.6" r="1.04" fill="#44602a" opacity=".85"/>
<circle cx="133.46" cy="-94.32" r="1.36" fill="#44602a" opacity=".85"/>
<circle cx="141.15" cy="-154.75" r="1.21" fill="#44602a" opacity=".85"/>
<circle cx="60.46" cy="-87.5" r="1.11" fill="#44602a" opacity=".85"/>
<circle cx="83.73" cy="-104.73" r="1.12" fill="#44602a" opacity=".85"/>
<circle cx="93.48" cy="-81.61" r="0.94" fill="#44602a" opacity=".85"/>
<circle cx="165.32" cy="-112.39" r="1.37" fill="#44602a" opacity=".85"/>
<circle cx="135.52" cy="-171.12" r="1.24" fill="#44602a" opacity=".85"/>
<circle cx="76.06" cy="-138.24" r="0.98" fill="#44602a" opacity=".85"/>
<circle cx="16.96" cy="-141" r="0.86" fill="#44602a" opacity=".85"/>
<circle cx="7.44" cy="-155.81" r="0.94" fill="#44602a" opacity=".85"/>
<circle cx="87.6" cy="-78.31" r="1.14" fill="#44602a" opacity=".85"/>
<circle cx="101.54" cy="-106.24" r="1.35" fill="#44602a" opacity=".85"/>
<circle cx="141.64" cy="-103.49" r="1.24" fill="#44602a" opacity=".85"/>
<circle cx="31.04" cy="-140.99" r="0.95" fill="#44602a" opacity=".85"/>
<circle cx="50.43" cy="-85.22" r="0.94" fill="#44602a" opacity=".85"/>
<circle cx="40.23" cy="-84.57" r="1.1" fill="#44602a" opacity=".85"/>
<circle cx="16.97" cy="-152.32" r="1.15" fill="#44602a" opacity=".85"/>
<circle cx="39.84" cy="-90.92" r="0.92" fill="#44602a" opacity=".85"/>
<circle cx="124.32" cy="-83.58" r="0.92" fill="#44602a" opacity=".85"/>
<circle cx="25.12" cy="-147.55" r="1.2" fill="#44602a" opacity=".85"/>
<circle cx="38.23" cy="-115.67" r="1.1" fill="#44602a" opacity=".85"/>
<circle cx="133.71" cy="-101.85" r="1.33" fill="#44602a" opacity=".85"/>
<circle cx="38.76" cy="-80.83" r="1.03" fill="#44602a" opacity=".85"/>
<circle cx="85.88" cy="-75.12" r="0.93" fill="#44602a" opacity=".85"/>
<circle cx="10.23" cy="-164.48" r="1.11" fill="#44602a" opacity=".85"/>
<circle cx="35.55" cy="-78.73" r="1.2" fill="#44602a" opacity=".85"/>
<circle cx="102.39" cy="-90.87" r="1.39" fill="#44602a" opacity=".85"/>
<circle cx="-5.85" cy="-115.41" r="1.06" fill="#44602a" opacity=".85"/>
<circle cx="89.84" cy="-153.97" r="1.06" fill="#44602a" opacity=".85"/>
<circle cx="119.13" cy="-105.38" r="1.11" fill="#44602a" opacity=".85"/>
<circle cx="56.52" cy="-90.12" r="1.15" fill="#44602a" opacity=".85"/>
<circle cx="1.78" cy="-143.04" r="1.07" fill="#44602a" opacity=".85"/>
<circle cx="139.99" cy="-90.21" r="1.22" fill="#44602a" opacity=".85"/>
<circle cx="-1.53" cy="-137.24" r="1.39" fill="#44602a" opacity=".85"/>
<circle cx="124.37" cy="-150.12" r="0.97" fill="#44602a" opacity=".85"/>
<circle cx="21.38" cy="-92.87" r="1.33" fill="#44602a" opacity=".85"/>
<circle cx="15.11" cy="-118.02" r="1.13" fill="#44602a" opacity=".85"/>
<circle cx="73.71" cy="-133.27" r="1.28" fill="#44602a" opacity=".85"/>
<circle cx="17.24" cy="-92.46" r="1.18" fill="#44602a" opacity=".85"/>
<circle cx="2.44" cy="-86.96" r="1.35" fill="#44602a" opacity=".85"/>
<circle cx="23.46" cy="-139.55" r="1.23" fill="#44602a" opacity=".85"/>
<circle cx="40.73" cy="-156.39" r="1.18" fill="#44602a" opacity=".85"/>
<circle cx="154.05" cy="-142.41" r="1.06" fill="#44602a" opacity=".85"/>
<circle cx="59.03" cy="-125.33" r="1.28" fill="#44602a" opacity=".85"/>
<circle cx="18.05" cy="-83.78" r="1.11" fill="#44602a" opacity=".85"/>
<circle cx="137.98" cy="-115.04" r="1.29" fill="#44602a" opacity=".85"/>
<circle cx="86.95" cy="-88.35" r="0.8" fill="#44602a" opacity=".85"/>
<circle cx="45.84" cy="-87.67" r="1.1" fill="#44602a" opacity=".85"/>
<circle cx="102.39" cy="-110.6" r="1.25" fill="#44602a" opacity=".85"/>
<circle cx="15.6" cy="-160.46" r="1.02" fill="#44602a" opacity=".85"/>
<circle cx="48.67" cy="-120.54" r="0.88" fill="#44602a" opacity=".85"/>
<circle cx="55.83" cy="-81.73" r="0.89" fill="#44602a" opacity=".85"/>
<circle cx="101.27" cy="-92.61" r="1.39" fill="#44602a" opacity=".85"/>
<circle cx="162.09" cy="-114.05" r="1.38" fill="#44602a" opacity=".85"/>
<circle cx="60.89" cy="-116.61" r="1.4" fill="#44602a" opacity=".85"/>
<circle cx="31.16" cy="-114.23" r="1.39" fill="#44602a" opacity=".85"/>
<circle cx="82.69" cy="-115.39" r="1.38" fill="#44602a" opacity=".85"/>
<circle cx="8.37" cy="-159.52" r="1.08" fill="#44602a" opacity=".85"/>
<circle cx="52.18" cy="-74.02" r="1.04" fill="#44602a" opacity=".85"/>
<circle cx="92.74" cy="-137.73" r="1" fill="#44602a" opacity=".85"/>
<circle cx="66.89" cy="-106.45" r="0.88" fill="#44602a" opacity=".85"/>
<circle cx="28.09" cy="-143.52" r="0.87" fill="#44602a" opacity=".85"/>
<circle cx="43.64" cy="-144.17" r="0.83" fill="#44602a" opacity=".85"/>
<circle cx="45.81" cy="-142.14" r="1.29" fill="#44602a" opacity=".85"/>
<circle cx="90.5" cy="-158.89" r="0.99" fill="#44602a" opacity=".85"/>
<circle cx="142.75" cy="-88.5" r="1.37" fill="#44602a" opacity=".85"/>
<circle cx="160.78" cy="-129.51" r="1.39" fill="#44602a" opacity=".85"/>
<circle cx="71.38" cy="-143.04" r="0.97" fill="#44602a" opacity=".85"/>
<circle cx="71.88" cy="-89.31" r="0.91" fill="#44602a" opacity=".85"/>
<circle cx="90.83" cy="-143.99" r="0.92" fill="#44602a" opacity=".85"/>
<circle cx="27.85" cy="-122.33" r="1.03" fill="#44602a" opacity=".85"/>
<circle cx="0.92" cy="-97.2" r="0.84" fill="#44602a" opacity=".85"/>
<circle cx="37.03" cy="-80.41" r="1.22" fill="#44602a" opacity=".85"/>
<circle cx="10.38" cy="-73.32" r="0.82" fill="#44602a" opacity=".85"/>
<circle cx="17.91" cy="-109.84" r="1.34" fill="#44602a" opacity=".85"/>
<circle cx="96.96" cy="-113.82" r="1.32" fill="#44602a" opacity=".85"/>
<circle cx="83.81" cy="-128.35" r="1.09" fill="#44602a" opacity=".85"/>
<circle cx="6.53" cy="-83.37" r="1.1" fill="#44602a" opacity=".85"/>
<circle cx="82.98" cy="-90.68" r="0.97" fill="#44602a" opacity=".85"/>
<circle cx="35.75" cy="-113.67" r="1.23" fill="#44602a" opacity=".85"/>
<circle cx="69.55" cy="-88.97" r="1.15" fill="#44602a" opacity=".85"/>
<circle cx="21.24" cy="-83.19" r="1.14" fill="#44602a" opacity=".85"/>
<circle cx="47.24" cy="-146.61" r="0.85" fill="#44602a" opacity=".85"/>
<circle cx="35.48" cy="-74.28" r="0.82" fill="#44602a" opacity=".85"/>
<circle cx="130.15" cy="-166.19" r="1.37" fill="#44602a" opacity=".85"/>
<circle cx="131.29" cy="-121.42" r="1.34" fill="#44602a" opacity=".85"/>
<circle cx="147.67" cy="-141.89" r="1.07" fill="#44602a" opacity=".85"/>
<circle cx="127.82" cy="-156.55" r="1.34" fill="#44602a" opacity=".85"/>
<circle cx="3.67" cy="-95.43" r="1.14" fill="#44602a" opacity=".85"/>
<circle cx="146.69" cy="-128.85" r="0.97" fill="#44602a" opacity=".85"/>
<circle cx="33.39" cy="-132.1" r="0.82" fill="#44602a" opacity=".85"/>
<circle cx="21.64" cy="-95.01" r="1.29" fill="#44602a" opacity=".85"/>
<circle cx="9.19" cy="-85.66" r="0.86" fill="#44602a" opacity=".85"/>
<circle cx="138.81" cy="-165.05" r="1.18" fill="#44602a" opacity=".85"/>
<circle cx="65.79" cy="-78.27" r="0.82" fill="#44602a" opacity=".85"/>
<circle cx="110.37" cy="-91.83" r="0.9" fill="#44602a" opacity=".85"/>
<circle cx="30.88" cy="-108.52" r="1.39" fill="#44602a" opacity=".85"/>
<circle cx="111.49" cy="-119.8" r="0.89" fill="#44602a" opacity=".85"/>
<circle cx="58.5" cy="-75.85" r="0.92" fill="#44602a" opacity=".85"/>
<circle cx="-11.93" cy="-85.75" r="1.35" fill="#44602a" opacity=".85"/>
<circle cx="0.26" cy="-147.19" r="0.9" fill="#44602a" opacity=".85"/>
<circle cx="31.1" cy="-83.66" r="1.01" fill="#44602a" opacity=".85"/>
<circle cx="54.9" cy="-120.39" r="1.04" fill="#44602a" opacity=".85"/>
<circle cx="-2.99" cy="-103.7" r="1.4" fill="#44602a" opacity=".85"/>
<circle cx="24.47" cy="-145.26" r="0.94" fill="#44602a" opacity=".85"/>
<circle cx="152.69" cy="-124.93" r="1.23" fill="#44602a" opacity=".85"/>
<circle cx="140.21" cy="-172.63" r="1.16" fill="#44602a" opacity=".85"/>
<circle cx="80" cy="-109.4" r="1.05" fill="#44602a" opacity=".85"/>
<circle cx="-14.89" cy="-86.39" r="1.2" fill="#44602a" opacity=".85"/>
<circle cx="128.88" cy="-103.32" r="1.19" fill="#44602a" opacity=".85"/>
<circle cx="72.68" cy="-72.5" r="1.05" fill="#44602a" opacity=".85"/>
<circle cx="142.19" cy="-79.95" r="0.85" fill="#44602a" opacity=".85"/>
<circle cx="14.84" cy="-112.87" r="1.21" fill="#44602a" opacity=".85"/>
<circle cx="32.6" cy="-92.05" r="0.99" fill="#44602a" opacity=".85"/>
<circle cx="29.61" cy="-120.1" r="0.92" fill="#44602a" opacity=".85"/>
<circle cx="124.54" cy="-91.5" r="0.87" fill="#44602a" opacity=".85"/>
<circle cx="151.08" cy="-89.28" r="1.36" fill="#44602a" opacity=".85"/>
<circle cx="92.49" cy="-74.58" r="0.8" fill="#44602a" opacity=".85"/>
<circle cx="82.74" cy="-95.5" r="1.12" fill="#44602a" opacity=".85"/>
<circle cx="37.92" cy="-118.37" r="1.18" fill="#44602a" opacity=".85"/>
<circle cx="91.48" cy="-148.68" r="0.85" fill="#44602a" opacity=".85"/>
<circle cx="157.47" cy="-132.08" r="1.39" fill="#44602a" opacity=".85"/>
<circle cx="152.46" cy="-125.91" r="0.98" fill="#44602a" opacity=".85"/>
<circle cx="35.36" cy="-122.34" r="1.1" fill="#44602a" opacity=".85"/>
<circle cx="117.07" cy="-150.26" r="1.03" fill="#44602a" opacity=".85"/>
<circle cx="134.69" cy="-141.83" r="1.39" fill="#44602a" opacity=".85"/>
<circle cx="14.21" cy="-133.99" r="0.87" fill="#44602a" opacity=".85"/>
<circle cx="27.57" cy="-139.91" r="1.27" fill="#44602a" opacity=".85"/>
<circle cx="103.38" cy="-89.15" r="0.81" fill="#44602a" opacity=".85"/>
<circle cx="60.18" cy="-115.93" r="1" fill="#44602a" opacity=".85"/>
<circle cx="62.2" cy="-108.18" r="1.03" fill="#44602a" opacity=".85"/>
<circle cx="90.88" cy="-147.5" r="1.34" fill="#44602a" opacity=".85"/>
<circle cx="82.91" cy="-102.69" r="1.07" fill="#44602a" opacity=".85"/>
<circle cx="109.2" cy="-86.88" r="1.35" fill="#44602a" opacity=".85"/>
<circle cx="61.51" cy="-86.67" r="1.26" fill="#44602a" opacity=".85"/>
<circle cx="5.38" cy="-84.92" r="1.18" fill="#44602a" opacity=".85"/>
<circle cx="31.89" cy="-92.1" r="1.22" fill="#44602a" opacity=".85"/>
<circle cx="46.07" cy="-133.95" r="1.04" fill="#44602a" opacity=".85"/>
<circle cx="114.02" cy="-98.38" r="1.36" fill="#44602a" opacity=".85"/>
<circle cx="89.17" cy="-68.73" r="1.28" fill="#44602a" opacity=".85"/>
<circle cx="42.91" cy="-84.28" r="1.04" fill="#44602a" opacity=".85"/>
<circle cx="73.13" cy="-102.41" r="0.84" fill="#44602a" opacity=".85"/>
<circle cx="140.65" cy="-172.6" r="1.02" fill="#44602a" opacity=".85"/>
<circle cx="133.85" cy="-86.57" r="1.35" fill="#44602a" opacity=".85"/>
<circle cx="23.11" cy="-148.58" r="1.07" fill="#44602a" opacity=".85"/>
<circle cx="135.19" cy="-109.44" r="1.34" fill="#44602a" opacity=".85"/>
<circle cx="1.37" cy="-109.68" r="1.4" fill="#44602a" opacity=".85"/>
<circle cx="88.63" cy="-156.88" r="1.01" fill="#44602a" opacity=".85"/>
<circle cx="11.52" cy="-112.92" r="1.4" fill="#44602a" opacity=".85"/>
<circle cx="30.62" cy="-160.35" r="1.4" fill="#44602a" opacity=".85"/>
<circle cx="76.85" cy="-79.63" r="1.16" fill="#44602a" opacity=".85"/>
<circle cx="115.39" cy="-104.68" r="1.23" fill="#44602a" opacity=".85"/>
<circle cx="50.55" cy="-98.79" r="0.8" fill="#44602a" opacity=".85"/>
<circle cx="66.14" cy="-83.78" r="0.87" fill="#44602a" opacity=".85"/>
<circle cx="145.64" cy="-142.97" r="0.85" fill="#44602a" opacity=".85"/>
<circle cx="101.93" cy="-128.06" r="1.02" fill="#44602a" opacity=".85"/>
<circle cx="107.51" cy="-83.71" r="0.91" fill="#44602a" opacity=".85"/>
<circle cx="84.35" cy="-101.4" r="1.35" fill="#44602a" opacity=".85"/>
<circle cx="83.38" cy="-109.39" r="1.15" fill="#44602a" opacity=".85"/>
<circle cx="133.35" cy="-165.93" r="1.25" fill="#44602a" opacity=".85"/>
<circle cx="131.27" cy="-164.11" r="0.9" fill="#44602a" opacity=".85"/>
<circle cx="19.19" cy="-158.1" r="1.14" fill="#44602a" opacity=".85"/>
<circle cx="84.75" cy="-128" r="0.95" fill="#44602a" opacity=".85"/>
<circle cx="31.7" cy="-113.43" r="1.27" fill="#44602a" opacity=".85"/>
<circle cx="14.03" cy="-91.61" r="1.2" fill="#44602a" opacity=".85"/>
<circle cx="85.83" cy="-81.12" r="1.04" fill="#44602a" opacity=".85"/>
<circle cx="21.95" cy="-141.48" r="1.08" fill="#44602a" opacity=".85"/>
<circle cx="135.01" cy="-81.42" r="1.37" fill="#44602a" opacity=".85"/>
<circle cx="107.77" cy="-109.67" r="1.02" fill="#44602a" opacity=".85"/>
<circle cx="42.8" cy="-156.84" r="1.12" fill="#44602a" opacity=".85"/>
<circle cx="68.14" cy="-99.04" r="1.27" fill="#44602a" opacity=".85"/>
<circle cx="103.47" cy="-98.37" r="0.89" fill="#44602a" opacity=".85"/>
<circle cx="2.49" cy="-141.96" r="0.82" fill="#44602a" opacity=".85"/>
<circle cx="157.51" cy="-107.81" r="1.19" fill="#44602a" opacity=".85"/>
<circle cx="-2.27" cy="-150.15" r="1.23" fill="#44602a" opacity=".85"/>
<circle cx="103.5" cy="-92.87" r="1.13" fill="#44602a" opacity=".85"/>
<circle cx="89.27" cy="-139.27" r="1.1" fill="#44602a" opacity=".85"/>
<circle cx="78.85" cy="-71.46" r="1.26" fill="#44602a" opacity=".85"/>
<circle cx="126.14" cy="-88.59" r="1.13" fill="#44602a" opacity=".85"/>
<circle cx="31.35" cy="-80.62" r="0.98" fill="#44602a" opacity=".85"/>
<circle cx="1.85" cy="-144.06" r="1.36" fill="#44602a" opacity=".85"/>
<circle cx="122.83" cy="-105.66" r="1.08" fill="#44602a" opacity=".85"/>
<circle cx="101.77" cy="-130.06" r="1.31" fill="#44602a" opacity=".85"/>
<circle cx="129.19" cy="-96.95" r="1" fill="#44602a" opacity=".85"/>
<circle cx="111.71" cy="-81.82" r="0.99" fill="#44602a" opacity=".85"/>
<circle cx="19.51" cy="-140.24" r="1.32" fill="#44602a" opacity=".85"/>
<circle cx="-5.52" cy="-116.71" r="1.32" fill="#44602a" opacity=".85"/>
<circle cx="133.4" cy="-101.81" r="0.91" fill="#44602a" opacity=".85"/>
<circle cx="-16.08" cy="-85.07" r="1.25" fill="#44602a" opacity=".85"/>
<circle cx="34.61" cy="-84.22" r="1.07" fill="#44602a" opacity=".85"/>
<circle cx="1.95" cy="-110.75" r="1.22" fill="#44602a" opacity=".85"/>
<circle cx="87.38" cy="-74.53" r="1.33" fill="#44602a" opacity=".85"/>
<circle cx="128.75" cy="-112.47" r="0.96" fill="#44602a" opacity=".85"/>
<circle cx="23.56" cy="-147.56" r="1.25" fill="#44602a" opacity=".85"/>
<circle cx="156.02" cy="-144.35" r="1.06" fill="#44602a" opacity=".85"/>
<circle cx="86.3" cy="-68.79" r="1" fill="#44602a" opacity=".85"/>
<circle cx="-4.39" cy="-120.96" r="0.98" fill="#44602a" opacity=".85"/>
<circle cx="41.19" cy="-145.74" r="1.15" fill="#44602a" opacity=".85"/>
<circle cx="5.34" cy="-165.66" r="1.33" fill="#44602a" opacity=".85"/>
<circle cx="36.2" cy="-115.95" r="1.34" fill="#44602a" opacity=".85"/>
<circle cx="17.81" cy="-143.87" r="0.93" fill="#44602a" opacity=".85"/>
<circle cx="22" cy="-147.44" r="1.39" fill="#44602a" opacity=".85"/>
<circle cx="28.35" cy="-137.66" r="1.18" fill="#44602a" opacity=".85"/>
<circle cx="107.17" cy="-96.5" r="0.97" fill="#44602a" opacity=".85"/>
<circle cx="19.33" cy="-89.27" r="1.08" fill="#44602a" opacity=".85"/>
<circle cx="46.93" cy="-113.77" r="0.85" fill="#44602a" opacity=".85"/>
<circle cx="64.61" cy="-104.43" r="0.94" fill="#44602a" opacity=".85"/>
<circle cx="16.36" cy="-164.55" r="1.37" fill="#44602a" opacity=".85"/>
<circle cx="3.08" cy="-144.71" r="1.25" fill="#44602a" opacity=".85"/>
<circle cx="127.46" cy="-87.22" r="1.38" fill="#44602a" opacity=".85"/>
<circle cx="118.18" cy="-159.35" r="1.27" fill="#44602a" opacity=".85"/>
<circle cx="17.67" cy="-104.67" r="1.15" fill="#44602a" opacity=".85"/>
<circle cx="83.24" cy="-81.74" r="1.15" fill="#44602a" opacity=".85"/>
<circle cx="64.71" cy="-104.25" r="0.91" fill="#44602a" opacity=".85"/>
<circle cx="144.06" cy="-95.87" r="1.34" fill="#44602a" opacity=".85"/>
<circle cx="-4.64" cy="-81.83" r="0.96" fill="#44602a" opacity=".85"/>
<circle cx="55.3" cy="-117.77" r="1.08" fill="#44602a" opacity=".85"/>
<circle cx="43.51" cy="-144.9" r="1.36" fill="#44602a" opacity=".85"/>
<circle cx="126.95" cy="-88.81" r="1.33" fill="#44602a" opacity=".85"/>
<circle cx="16.57" cy="-159.63" r="1.39" fill="#44602a" opacity=".85"/>
<circle cx="-4.16" cy="-109.31" r="1.37" fill="#44602a" opacity=".85"/>
<circle cx="-6.01" cy="-84.49" r="0.89" fill="#44602a" opacity=".85"/>
<circle cx="85.67" cy="-110.83" r="1.16" fill="#44602a" opacity=".85"/>
<circle cx="120.02" cy="-123.25" r="1.11" fill="#44602a" opacity=".85"/>
<circle cx="32.46" cy="-84.93" r="1" fill="#44602a" opacity=".85"/>
<circle cx="72.65" cy="-95.43" r="1.1" fill="#44602a" opacity=".85"/>
<circle cx="74.09" cy="-69.89" r="0.83" fill="#44602a" opacity=".85"/>
<circle cx="-9.97" cy="-82.75" r="1.04" fill="#44602a" opacity=".85"/>
<circle cx="-13.53" cy="-87" r="1.06" fill="#44602a" opacity=".85"/>
<circle cx="74.04" cy="-141.62" r="1.23" fill="#44602a" opacity=".85"/>
<circle cx="130.3" cy="-94.88" r="1.05" fill="#44602a" opacity=".85"/>
<circle cx="15.43" cy="-87.5" r="1.03" fill="#44602a" opacity=".85"/>
<circle cx="42.94" cy="-146.46" r="0.91" fill="#44602a" opacity=".85"/>
<circle cx="22.3" cy="-153.49" r="1.06" fill="#44602a" opacity=".85"/>
<circle cx="-1.46" cy="-155.07" r="0.89" fill="#44602a" opacity=".85"/>
<circle cx="115.51" cy="-82.89" r="0.99" fill="#44602a" opacity=".85"/>
<circle cx="-2.92" cy="-98.25" r="1.07" fill="#44602a" opacity=".85"/>
<circle cx="22.06" cy="-92.21" r="0.97" fill="#44602a" opacity=".85"/>
<circle cx="97.79" cy="-115.66" r="0.96" fill="#44602a" opacity=".85"/>
<circle cx="142.62" cy="-162.1" r="1.12" fill="#44602a" opacity=".85"/>
<circle cx="66.13" cy="-103.03" r="0.95" fill="#44602a" opacity=".85"/>
<circle cx="31.78" cy="-89.94" r="1.33" fill="#44602a" opacity=".85"/>
<circle cx="146.66" cy="-96.46" r="1.08" fill="#44602a" opacity=".85"/>
<circle cx="-4.91" cy="-98.32" r="1.36" fill="#44602a" opacity=".85"/>
<circle cx="161.67" cy="-98.87" r="1.33" fill="#44602a" opacity=".85"/>
<circle cx="34.1" cy="-82.33" r="0.87" fill="#44602a" opacity=".85"/>
<circle cx="-1.27" cy="-96.92" r="1.03" fill="#44602a" opacity=".85"/>
<circle cx="144.4" cy="-89.16" r="0.89" fill="#44602a" opacity=".85"/>
<circle cx="83.58" cy="-126.16" r="1.11" fill="#44602a" opacity=".85"/>
<circle cx="35.31" cy="-91.94" r="1" fill="#44602a" opacity=".85"/>
<circle cx="32.04" cy="-112.54" r="1.28" fill="#44602a" opacity=".85"/>
<circle cx="42.57" cy="-85.82" r="0.96" fill="#44602a" opacity=".85"/>
<circle cx="37.25" cy="-163.53" r="1.34" fill="#44602a" opacity=".85"/>
<circle cx="80.16" cy="-114.7" r="0.84" fill="#44602a" opacity=".85"/>
<circle cx="23.76" cy="-81.17" r="0.99" fill="#44602a" opacity=".85"/>
<circle cx="17.98" cy="-152.58" r="0.84" fill="#44602a" opacity=".85"/>
<circle cx="20.03" cy="-135.91" r="1.21" fill="#44602a" opacity=".85"/>
<circle cx="72.69" cy="-85.28" r="1.07" fill="#44602a" opacity=".85"/>
<circle cx="97.52" cy="-140.01" r="1.19" fill="#44602a" opacity=".85"/>
<circle cx="16.61" cy="-95.01" r="1.14" fill="#44602a" opacity=".85"/>
<circle cx="100.39" cy="-128.71" r="1.16" fill="#44602a" opacity=".85"/>
<circle cx="14.85" cy="-109.3" r="1.13" fill="#44602a" opacity=".85"/>
<circle cx="82.89" cy="-152.14" r="1.38" fill="#44602a" opacity=".85"/>
<circle cx="25" cy="-136.09" r="1.2" fill="#44602a" opacity=".85"/>
<circle cx="48.54" cy="-120.71" r="1" fill="#44602a" opacity=".85"/>
<circle cx="134.14" cy="-113.29" r="1.4" fill="#44602a" opacity=".85"/>
<circle cx="4.4" cy="-117.51" r="1.02" fill="#44602a" opacity=".85"/>
<circle cx="152.93" cy="-128.65" r="1.15" fill="#44602a" opacity=".85"/>
<circle cx="68.55" cy="-114.1" r="1.19" fill="#44602a" opacity=".85"/>
<circle cx="17" cy="-93.1" r="0.96" fill="#44602a" opacity=".85"/>
<circle cx="121.94" cy="-86.31" r="0.87" fill="#44602a" opacity=".85"/>
<circle cx="31.78" cy="-142.55" r="1.21" fill="#44602a" opacity=".85"/>
<circle cx="28.53" cy="-80.67" r="0.89" fill="#44602a" opacity=".85"/>
<circle cx="118.47" cy="-150.94" r="1.4" fill="#44602a" opacity=".85"/>
<circle cx="12.76" cy="-81.3" r="0.95" fill="#44602a" opacity=".85"/>
<circle cx="35.11" cy="-156.18" r="1.03" fill="#44602a" opacity=".85"/>
<circle cx="99.99" cy="-133.4" r="0.99" fill="#44602a" opacity=".85"/>
<circle cx="79.36" cy="-151.4" r="1.26" fill="#44602a" opacity=".85"/>
<circle cx="26.41" cy="-93.8" r="1.3" fill="#44602a" opacity=".85"/>
<circle cx="2.82" cy="-82.52" r="1.29" fill="#44602a" opacity=".85"/>
<circle cx="35.82" cy="-73.74" r="1.1" fill="#44602a" opacity=".85"/>
<circle cx="31.89" cy="-98.11" r="0.81" fill="#44602a" opacity=".85"/>
<circle cx="46.58" cy="-145.1" r="0.82" fill="#44602a" opacity=".85"/>
<circle cx="63.53" cy="-136.94" r="0.92" fill="#44602a" opacity=".85"/>
<circle cx="131.52" cy="-83.03" r="1.39" fill="#44602a" opacity=".85"/>
<circle cx="164.41" cy="-130.08" r="0.88" fill="#44602a" opacity=".85"/>
<circle cx="-1.12" cy="-78.65" r="1" fill="#44602a" opacity=".85"/>
<circle cx="0.22" cy="-109.29" r="0.91" fill="#44602a" opacity=".85"/>
<circle cx="41.77" cy="-93.45" r="0.89" fill="#44602a" opacity=".85"/>
<circle cx="24.19" cy="-144.98" r="0.98" fill="#44602a" opacity=".85"/>
<circle cx="38.59" cy="-83.69" r="1.38" fill="#44602a" opacity=".85"/>
<circle cx="53.53" cy="-99.23" r="1.13" fill="#44602a" opacity=".85"/>
<circle cx="33.29" cy="-111.95" r="1.35" fill="#44602a" opacity=".85"/>
<circle cx="123.81" cy="-151.1" r="1.15" fill="#44602a" opacity=".85"/>
<circle cx="82.56" cy="-70.73" r="1.4" fill="#44602a" opacity=".85"/>
<circle cx="117.69" cy="-126.91" r="0.86" fill="#44602a" opacity=".85"/>
<circle cx="16.52" cy="-142.06" r="0.92" fill="#44602a" opacity=".85"/>
<circle cx="140.75" cy="-98.83" r="1.14" fill="#44602a" opacity=".85"/>
<circle cx="106.08" cy="-112.61" r="1.22" fill="#44602a" opacity=".85"/>
<circle cx="-5.23" cy="-87.63" r="0.99" fill="#44602a" opacity=".85"/>
<circle cx="121.94" cy="-158.48" r="1.07" fill="#44602a" opacity=".85"/>
<circle cx="105.98" cy="-91.88" r="1.26" fill="#44602a" opacity=".85"/>
<circle cx="31.96" cy="-140.15" r="0.88" fill="#44602a" opacity=".85"/>
<circle cx="10.25" cy="-165.61" r="1.36" fill="#44602a" opacity=".85"/>
<circle cx="81.03" cy="-100.12" r="1.26" fill="#44602a" opacity=".85"/>
<circle cx="93.59" cy="-142.7" r="0.94" fill="#44602a" opacity=".85"/>
<circle cx="4.86" cy="-113.06" r="1.37" fill="#44602a" opacity=".85"/>
<circle cx="51.48" cy="-95.53" r="1.1" fill="#44602a" opacity=".85"/>
<circle cx="133.2" cy="-124.61" r="0.86" fill="#44602a" opacity=".85"/>
<circle cx="130.99" cy="-96.26" r="1.02" fill="#44602a" opacity=".85"/>
<circle cx="163.44" cy="-106.12" r="1.02" fill="#44602a" opacity=".85"/>
<circle cx="23.38" cy="-160.41" r="0.86" fill="#44602a" opacity=".85"/>
<circle cx="84.45" cy="-100.21" r="1.28" fill="#44602a" opacity=".85"/>
<circle cx="130.97" cy="-119.81" r="1.34" fill="#44602a" opacity=".85"/>
<circle cx="154.23" cy="-129.04" r="1.33" fill="#44602a" opacity=".85"/>
<circle cx="20.41" cy="-97.28" r="1.27" fill="#44602a" opacity=".85"/>
<circle cx="88.73" cy="-151.03" r="0.8" fill="#44602a" opacity=".85"/>
<circle cx="78.43" cy="-71.69" r="0.93" fill="#44602a" opacity=".85"/>
<circle cx="40.81" cy="-142.06" r="1.34" fill="#44602a" opacity=".85"/>
<circle cx="-1.7" cy="-78.52" r="1" fill="#44602a" opacity=".85"/>
<circle cx="80.39" cy="-126.9" r="1.38" fill="#44602a" opacity=".85"/>
<circle cx="65.77" cy="-108.25" r="1.13" fill="#44602a" opacity=".85"/>
<circle cx="133.39" cy="-173.97" r="1.23" fill="#44602a" opacity=".85"/>
<circle cx="22.24" cy="-112.69" r="1.35" fill="#44602a" opacity=".85"/>
<circle cx="53.68" cy="-99.19" r="1.36" fill="#44602a" opacity=".85"/>
<circle cx="145.49" cy="-141.23" r="1.27" fill="#44602a" opacity=".85"/>
<circle cx="13.67" cy="-150.74" r="0.88" fill="#44602a" opacity=".85"/>
<circle cx="150.55" cy="-143.98" r="1.12" fill="#44602a" opacity=".85"/>
<circle cx="12.5" cy="-133.16" r="1.19" fill="#44602a" opacity=".85"/>
<circle cx="51.51" cy="-137.23" r="1.24" fill="#44602a" opacity=".85"/>
<circle cx="72.14" cy="-67.48" r="0.93" fill="#44602a" opacity=".85"/>
<circle cx="99.13" cy="-76.41" r="1.25" fill="#44602a" opacity=".85"/>
<circle cx="128.49" cy="-84.01" r="0.81" fill="#44602a" opacity=".85"/>
<circle cx="142.88" cy="-163.48" r="0.95" fill="#44602a" opacity=".85"/>
<circle cx="6.99" cy="-84.07" r="1.13" fill="#44602a" opacity=".85"/>
<circle cx="12.68" cy="-94.94" r="1.39" fill="#44602a" opacity=".85"/>
<circle cx="145.39" cy="-95.1" r="1.11" fill="#44602a" opacity=".85"/>
<circle cx="-0.45" cy="-116.97" r="1.33" fill="#44602a" opacity=".85"/>
<circle cx="10.31" cy="-85.44" r="0.91" fill="#44602a" opacity=".85"/>
<circle cx="59.59" cy="-97.47" r="0.99" fill="#44602a" opacity=".85"/>
<circle cx="62.04" cy="-87.86" r="0.81" fill="#44602a" opacity=".85"/>
<circle cx="43.38" cy="-85.02" r="1.22" fill="#44602a" opacity=".85"/>
<circle cx="103.43" cy="-99.52" r="1.25" fill="#44602a" opacity=".85"/>
<circle cx="62.38" cy="-144.86" r="1.09" fill="#44602a" opacity=".85"/>
<circle cx="14.25" cy="-162.14" r="0.88" fill="#c4d8a4" opacity=".9"/>
<circle cx="34.34" cy="-140.23" r="1.01" fill="#c4d8a4" opacity=".9"/>
<circle cx="21.33" cy="-80.15" r="0.89" fill="#c4d8a4" opacity=".9"/>
<circle cx="81.99" cy="-96.88" r="0.95" fill="#c4d8a4" opacity=".9"/>
<circle cx="12.27" cy="-116.61" r="0.86" fill="#c4d8a4" opacity=".9"/>
<circle cx="29.58" cy="-141.19" r="1.14" fill="#c4d8a4" opacity=".9"/>
<circle cx="149.17" cy="-139.6" r="0.84" fill="#c4d8a4" opacity=".9"/>
<circle cx="-1.52" cy="-79.53" r="1.24" fill="#c4d8a4" opacity=".9"/>
<circle cx="49.95" cy="-72.48" r="1.19" fill="#c4d8a4" opacity=".9"/>
<circle cx="50.81" cy="-80.69" r="1.01" fill="#c4d8a4" opacity=".9"/>
<circle cx="24.09" cy="-95.33" r="1.04" fill="#c4d8a4" opacity=".9"/>
<circle cx="15.7" cy="-110.75" r="1.22" fill="#c4d8a4" opacity=".9"/>
<circle cx="7.57" cy="-81.1" r="1.01" fill="#c4d8a4" opacity=".9"/>
<circle cx="63.92" cy="-103.8" r="0.82" fill="#c4d8a4" opacity=".9"/>
<circle cx="103.81" cy="-93.5" r="1.1" fill="#c4d8a4" opacity=".9"/>
<circle cx="97.9" cy="-83.71" r="0.87" fill="#c4d8a4" opacity=".9"/>
<circle cx="13.24" cy="-93.28" r="0.84" fill="#c4d8a4" opacity=".9"/>
<circle cx="-13.93" cy="-86.87" r="1.25" fill="#c4d8a4" opacity=".9"/>
<circle cx="8.54" cy="-82.46" r="1.1" fill="#c4d8a4" opacity=".9"/>
<circle cx="122.24" cy="-107.52" r="1.07" fill="#c4d8a4" opacity=".9"/>
<circle cx="93.93" cy="-114.42" r="1.09" fill="#c4d8a4" opacity=".9"/>
<circle cx="27.42" cy="-93.55" r="1.25" fill="#c4d8a4" opacity=".9"/>
<circle cx="68.18" cy="-95.25" r="1.08" fill="#c4d8a4" opacity=".9"/>
<circle cx="19.04" cy="-139.53" r="1.18" fill="#c4d8a4" opacity=".9"/>
<circle cx="120.9" cy="-107.11" r="1.24" fill="#c4d8a4" opacity=".9"/>
<circle cx="64" cy="-147" r="1.13" fill="#c4d8a4" opacity=".9"/>
<circle cx="-13.37" cy="-83" r="1.23" fill="#c4d8a4" opacity=".9"/>
<circle cx="103.47" cy="-81.58" r="1.06" fill="#c4d8a4" opacity=".9"/>
<circle cx="69.24" cy="-104.62" r="1.03" fill="#c4d8a4" opacity=".9"/>
<circle cx="37.65" cy="-103.41" r="1.02" fill="#c4d8a4" opacity=".9"/>
<circle cx="28.85" cy="-79.55" r="1.26" fill="#c4d8a4" opacity=".9"/>
<circle cx="23.61" cy="-84.64" r="1.19" fill="#c4d8a4" opacity=".9"/>
<circle cx="96.88" cy="-112.41" r="1.13" fill="#c4d8a4" opacity=".9"/>
<circle cx="63.99" cy="-141.96" r="1.2" fill="#c4d8a4" opacity=".9"/>
<circle cx="16.8" cy="-109.18" r="0.89" fill="#c4d8a4" opacity=".9"/>
<circle cx="43.88" cy="-100.62" r="0.87" fill="#c4d8a4" opacity=".9"/>
<circle cx="111.93" cy="-89.69" r="1.11" fill="#c4d8a4" opacity=".9"/>
<circle cx="6.07" cy="-149.83" r="0.96" fill="#c4d8a4" opacity=".9"/>
<circle cx="81.23" cy="-151.97" r="1.2" fill="#c4d8a4" opacity=".9"/>
<circle cx="24.14" cy="-83.37" r="1.14" fill="#c4d8a4" opacity=".9"/>
<circle cx="114.34" cy="-153.88" r="1.07" fill="#c4d8a4" opacity=".9"/>
<circle cx="147.77" cy="-131.56" r="0.88" fill="#c4d8a4" opacity=".9"/>
<circle cx="68.85" cy="-135.86" r="1.24" fill="#c4d8a4" opacity=".9"/>
<circle cx="116.43" cy="-148.79" r="1.12" fill="#c4d8a4" opacity=".9"/>
<circle cx="10.73" cy="-84.6" r="1.02" fill="#c4d8a4" opacity=".9"/>
<circle cx="155.91" cy="-144.46" r="1.27" fill="#c4d8a4" opacity=".9"/>
<circle cx="37.21" cy="-106.68" r="1.02" fill="#c4d8a4" opacity=".9"/>
<circle cx="70.28" cy="-107.43" r="0.99" fill="#c4d8a4" opacity=".9"/>
<circle cx="-3.74" cy="-98.01" r="0.89" fill="#c4d8a4" opacity=".9"/>
<circle cx="123.83" cy="-87.57" r="0.97" fill="#c4d8a4" opacity=".9"/>
<circle cx="42.3" cy="-80.11" r="1.11" fill="#c4d8a4" opacity=".9"/>
<circle cx="51.49" cy="-133.29" r="1.27" fill="#c4d8a4" opacity=".9"/>
<circle cx="65.34" cy="-140.18" r="1.27" fill="#c4d8a4" opacity=".9"/>
<circle cx="137.73" cy="-173.28" r="0.9" fill="#c4d8a4" opacity=".9"/>
<circle cx="119.37" cy="-117.15" r="0.93" fill="#c4d8a4" opacity=".9"/>
<circle cx="89.15" cy="-78.39" r="0.85" fill="#c4d8a4" opacity=".9"/>
<circle cx="104.49" cy="-90.88" r="1.2" fill="#c4d8a4" opacity=".9"/>
<circle cx="63.65" cy="-98.34" r="1.26" fill="#c4d8a4" opacity=".9"/>
<circle cx="96.97" cy="-116.81" r="1.26" fill="#c4d8a4" opacity=".9"/>
<circle cx="9.23" cy="-116.89" r="0.81" fill="#c4d8a4" opacity=".9"/>
<circle cx="52.29" cy="-135.05" r="1.24" fill="#c4d8a4" opacity=".9"/>
<circle cx="40.15" cy="-84.12" r="0.85" fill="#c4d8a4" opacity=".9"/>
<circle cx="27.14" cy="-78.3" r="1.08" fill="#c4d8a4" opacity=".9"/>
<circle cx="45.22" cy="-104.59" r="1.12" fill="#c4d8a4" opacity=".9"/>
<circle cx="10.13" cy="-145.56" r="1.01" fill="#c4d8a4" opacity=".9"/>
<circle cx="25.3" cy="-137.21" r="1.11" fill="#c4d8a4" opacity=".9"/>
<circle cx="31.81" cy="-116.99" r="0.91" fill="#c4d8a4" opacity=".9"/>
<circle cx="41.67" cy="-80.54" r="1.09" fill="#c4d8a4" opacity=".9"/>
<circle cx="51.47" cy="-74.29" r="1.18" fill="#c4d8a4" opacity=".9"/>
<circle cx="78.12" cy="-74.29" r="1.12" fill="#c4d8a4" opacity=".9"/>
<circle cx="9.89" cy="-154.19" r="1.25" fill="#c4d8a4" opacity=".9"/>
<circle cx="100.07" cy="-88.24" r="1.26" fill="#c4d8a4" opacity=".9"/>
<circle cx="104.51" cy="-88.08" r="0.9" fill="#c4d8a4" opacity=".9"/>
<circle cx="25.63" cy="-137.17" r="1.14" fill="#c4d8a4" opacity=".9"/>
<circle cx="17.21" cy="-108.01" r="0.98" fill="#c4d8a4" opacity=".9"/>
<circle cx="15.58" cy="-94.2" r="1.26" fill="#c4d8a4" opacity=".9"/>
<circle cx="106.27" cy="-114.95" r="1.21" fill="#c4d8a4" opacity=".9"/>
<circle cx="82.36" cy="-150.03" r="0.92" fill="#c4d8a4" opacity=".9"/>
<circle cx="81.19" cy="-66.6" r="1.2" fill="#c4d8a4" opacity=".9"/>
<circle cx="130.83" cy="-97.25" r="0.88" fill="#c4d8a4" opacity=".9"/>
<circle cx="135.75" cy="-109.17" r="1.08" fill="#c4d8a4" opacity=".9"/>
<circle cx="64.84" cy="-135.3" r="1.03" fill="#c4d8a4" opacity=".9"/>
<circle cx="90.01" cy="-129.86" r="1.19" fill="#c4d8a4" opacity=".9"/>
<circle cx="91.18" cy="-137.52" r="0.9" fill="#c4d8a4" opacity=".9"/>
<circle cx="125.77" cy="-85.26" r="1.13" fill="#c4d8a4" opacity=".9"/>
<circle cx="59.48" cy="-97.63" r="0.9" fill="#c4d8a4" opacity=".9"/>
<circle cx="132.92" cy="-90.09" r="1.18" fill="#c4d8a4" opacity=".9"/>
<circle cx="28.58" cy="-163.3" r="1" fill="#c4d8a4" opacity=".9"/>
<circle cx="72.18" cy="-87.28" r="0.86" fill="#c4d8a4" opacity=".9"/>
<circle cx="1.14" cy="-80.68" r="1.13" fill="#c4d8a4" opacity=".9"/>
<circle cx="119.47" cy="-92.59" r="0.94" fill="#c4d8a4" opacity=".9"/>
<circle cx="15.52" cy="-83.9" r="1.17" fill="#c4d8a4" opacity=".9"/>
<circle cx="137.1" cy="-168.86" r="0.96" fill="#c4d8a4" opacity=".9"/>
<circle cx="17.27" cy="-105.26" r="1.08" fill="#c4d8a4" opacity=".9"/>
<circle cx="26.52" cy="-134.33" r="1.26" fill="#c4d8a4" opacity=".9"/>
<circle cx="80.49" cy="-125.27" r="1.04" fill="#c4d8a4" opacity=".9"/>
<circle cx="117.7" cy="-102.18" r="1.01" fill="#c4d8a4" opacity=".9"/>
<circle cx="82.52" cy="-153.88" r="0.92" fill="#c4d8a4" opacity=".9"/>
<circle cx="152.26" cy="-128.86" r="1.09" fill="#c4d8a4" opacity=".9"/>
<circle cx="110.55" cy="-86" r="1.02" fill="#c4d8a4" opacity=".9"/>
<circle cx="107.14" cy="-96.27" r="0.97" fill="#c4d8a4" opacity=".9"/>
<circle cx="93.31" cy="-130.68" r="0.85" fill="#c4d8a4" opacity=".9"/>
<circle cx="88.49" cy="-139.54" r="1.24" fill="#c4d8a4" opacity=".9"/>
<circle cx="124.45" cy="-152.11" r="0.96" fill="#c4d8a4" opacity=".9"/>
<circle cx="41.78" cy="-106.75" r="1.11" fill="#c4d8a4" opacity=".9"/>
<circle cx="63.56" cy="-100.08" r="1.07" fill="#c4d8a4" opacity=".9"/>
<circle cx="8.96" cy="-114.95" r="1.15" fill="#c4d8a4" opacity=".9"/>
<circle cx="24.89" cy="-140.49" r="1.24" fill="#c4d8a4" opacity=".9"/>
<circle cx="65.33" cy="-83.1" r="0.97" fill="#c4d8a4" opacity=".9"/>
<circle cx="151.65" cy="-107.16" r="1.26" fill="#c4d8a4" opacity=".9"/>
<circle cx="128.4" cy="-168.49" r="1.18" fill="#c4d8a4" opacity=".9"/>
<circle cx="143.4" cy="-172.59" r="1.12" fill="#c4d8a4" opacity=".9"/>
<circle cx="17.18" cy="-75.68" r="1.19" fill="#c4d8a4" opacity=".9"/>
<circle cx="36.18" cy="-139.07" r="1.22" fill="#c4d8a4" opacity=".9"/>
<circle cx="71.05" cy="-103.58" r="1.09" fill="#c4d8a4" opacity=".9"/>
<circle cx="32.7" cy="-134.41" r="0.8" fill="#c4d8a4" opacity=".9"/>
<circle cx="7.25" cy="-89.36" r="1" fill="#c4d8a4" opacity=".9"/>
<circle cx="9.54" cy="-114.57" r="1.1" fill="#c4d8a4" opacity=".9"/>
<circle cx="136.83" cy="-94.65" r="1.06" fill="#c4d8a4" opacity=".9"/>
<circle cx="88.43" cy="-140.41" r="0.86" fill="#c4d8a4" opacity=".9"/>
<circle cx="81.64" cy="-83.02" r="1.18" fill="#c4d8a4" opacity=".9"/>
<circle cx="57.5" cy="-135.79" r="0.9" fill="#c4d8a4" opacity=".9"/>
<circle cx="134.52" cy="-141.16" r="1.14" fill="#c4d8a4" opacity=".9"/>
<circle cx="132.44" cy="-138.01" r="0.84" fill="#c4d8a4" opacity=".9"/>
<circle cx="105.6" cy="-86.17" r="0.99" fill="#c4d8a4" opacity=".9"/>
<circle cx="8.7" cy="-82.89" r="0.98" fill="#c4d8a4" opacity=".9"/>
<circle cx="56.27" cy="-75.5" r="1.04" fill="#c4d8a4" opacity=".9"/>
<circle cx="68.64" cy="-107.4" r="0.97" fill="#c4d8a4" opacity=".9"/>
<circle cx="58.64" cy="-103.94" r="1.25" fill="#c4d8a4" opacity=".9"/>
<circle cx="76.58" cy="-143.04" r="0.95" fill="#c4d8a4" opacity=".9"/>
<circle cx="-4.3" cy="-83.66" r="0.83" fill="#c4d8a4" opacity=".9"/>
<circle cx="35.57" cy="-113.88" r="1.17" fill="#c4d8a4" opacity=".9"/>
<circle cx="102.11" cy="-84.48" r="1.28" fill="#c4d8a4" opacity=".9"/>
<circle cx="0.66" cy="-80.48" r="1.1" fill="#c4d8a4" opacity=".9"/>
<circle cx="156.03" cy="-120.21" r="0.93" fill="#c4d8a4" opacity=".9"/>
<circle cx="35.71" cy="-140.11" r="0.85" fill="#c4d8a4" opacity=".9"/>
<circle cx="150.19" cy="-120.07" r="1.19" fill="#c4d8a4" opacity=".9"/>
<circle cx="157.56" cy="-131.89" r="0.85" fill="#c4d8a4" opacity=".9"/>
<circle cx="27.82" cy="-81.99" r="0.98" fill="#c4d8a4" opacity=".9"/>
<circle cx="68.68" cy="-70.48" r="0.86" fill="#c4d8a4" opacity=".9"/>
<circle cx="118.85" cy="-128.37" r="1.15" fill="#c4d8a4" opacity=".9"/>
<circle cx="12.09" cy="-129.64" r="0.8" fill="#c4d8a4" opacity=".9"/>
<circle cx="14.43" cy="-110.1" r="1.17" fill="#c4d8a4" opacity=".9"/>
<circle cx="68.76" cy="-71.24" r="1.18" fill="#c4d8a4" opacity=".9"/>
<circle cx="-10.55" cy="-88.16" r="1.04" fill="#c4d8a4" opacity=".9"/>
<circle cx="34.76" cy="-111.16" r="0.98" fill="#c4d8a4" opacity=".9"/>
<circle cx="66.38" cy="-108.73" r="1.02" fill="#c4d8a4" opacity=".9"/>
<circle cx="88.22" cy="-154.44" r="0.91" fill="#c4d8a4" opacity=".9"/>
<circle cx="58.94" cy="-117.4" r="1.16" fill="#c4d8a4" opacity=".9"/>
<circle cx="77.78" cy="-105.8" r="0.97" fill="#c4d8a4" opacity=".9"/>
<circle cx="89.71" cy="-76.58" r="1.19" fill="#c4d8a4" opacity=".9"/>
<circle cx="54.72" cy="-75.79" r="1.18" fill="#c4d8a4" opacity=".9"/>
<circle cx="34.54" cy="-116.74" r="0.84" fill="#c4d8a4" opacity=".9"/>
<circle cx="157.91" cy="-106.39" r="1.2" fill="#c4d8a4" opacity=".9"/>
<circle cx="149.33" cy="-91.76" r="1.18" fill="#c4d8a4" opacity=".9"/>
<circle cx="25.62" cy="-77.99" r="0.98" fill="#c4d8a4" opacity=".9"/>
<circle cx="155.6" cy="-109.35" r="1.24" fill="#c4d8a4" opacity=".9"/>
<circle cx="74.17" cy="-140.75" r="0.99" fill="#c4d8a4" opacity=".9"/>
<circle cx="12.13" cy="-134.15" r="1.02" fill="#c4d8a4" opacity=".9"/>
<circle cx="100.33" cy="-96.96" r="0.96" fill="#c4d8a4" opacity=".9"/>
<circle cx="97.88" cy="-76.62" r="1.01" fill="#c4d8a4" opacity=".9"/>
<circle cx="98.03" cy="-114.84" r="0.97" fill="#c4d8a4" opacity=".9"/>
<circle cx="-10.59" cy="-85.05" r="1.11" fill="#c4d8a4" opacity=".9"/>
<circle cx="151.85" cy="-130.26" r="0.91" fill="#c4d8a4" opacity=".9"/>
<circle cx="122.5" cy="-124.23" r="1.24" fill="#c4d8a4" opacity=".9"/>
<circle cx="102.45" cy="-86.24" r="1.05" fill="#c4d8a4" opacity=".9"/>
<circle cx="19.7" cy="-148.29" r="0.86" fill="#c4d8a4" opacity=".9"/>
<circle cx="63.91" cy="-100.49" r="1.14" fill="#c4d8a4" opacity=".9"/>
<circle cx="89.08" cy="-149.67" r="0.83" fill="#c4d8a4" opacity=".9"/>
<circle cx="104.77" cy="-88.05" r="1.14" fill="#c4d8a4" opacity=".9"/>
<circle cx="60.01" cy="-99.77" r="1.16" fill="#c4d8a4" opacity=".9"/>
<circle cx="1.45" cy="-85.63" r="1.26" fill="#c4d8a4" opacity=".9"/>
<circle cx="30.45" cy="-131.79" r="1.27" fill="#c4d8a4" opacity=".9"/>
<circle cx="74.01" cy="-89.5" r="1.01" fill="#c4d8a4" opacity=".9"/>
<circle cx="23" cy="-149.47" r="1.19" fill="#c4d8a4" opacity=".9"/>
<circle cx="-2.58" cy="-113.68" r="1.04" fill="#c4d8a4" opacity=".9"/>
<circle cx="33.03" cy="-92.91" r="0.86" fill="#c4d8a4" opacity=".9"/>
<circle cx="69.44" cy="-91.47" r="0.99" fill="#c4d8a4" opacity=".9"/>
<circle cx="79.2" cy="-128.42" r="0.98" fill="#c4d8a4" opacity=".9"/>
<circle cx="129.74" cy="-119.53" r="0.92" fill="#c4d8a4" opacity=".9"/>
<circle cx="101.3" cy="-132.37" r="1.03" fill="#c4d8a4" opacity=".9"/>
<circle cx="36.36" cy="-94.94" r="1.1" fill="#c4d8a4" opacity=".9"/>
<circle cx="97.79" cy="-131.79" r="1.1" fill="#c4d8a4" opacity=".9"/>
<circle cx="142.75" cy="-157.84" r="0.9" fill="#c4d8a4" opacity=".9"/>
<circle cx="25.12" cy="-81.44" r="0.86" fill="#c4d8a4" opacity=".9"/>
<circle cx="93.83" cy="-78.11" r="0.83" fill="#c4d8a4" opacity=".9"/>
<circle cx="66.9" cy="-141.26" r="0.91" fill="#c4d8a4" opacity=".9"/>
<circle cx="76.1" cy="-135.13" r="0.91" fill="#c4d8a4" opacity=".9"/>
<circle cx="-0.88" cy="-107.48" r="0.84" fill="#c4d8a4" opacity=".9"/>
<circle cx="88.3" cy="-79.08" r="0.96" fill="#c4d8a4" opacity=".9"/>
<circle cx="155.93" cy="-96.41" r="1.08" fill="#c4d8a4" opacity=".9"/>
<circle cx="31.55" cy="-138.08" r="1.06" fill="#c4d8a4" opacity=".9"/>
<circle cx="38.01" cy="-162.16" r="1.24" fill="#c4d8a4" opacity=".9"/>
<circle cx="16.42" cy="-154.33" r="1.12" fill="#c4d8a4" opacity=".9"/>
<circle cx="123.08" cy="-118.43" r="0.92" fill="#c4d8a4" opacity=".9"/>
<circle cx="24.25" cy="-149.94" r="1.12" fill="#c4d8a4" opacity=".9"/>
<circle cx="83.61" cy="-120.58" r="0.93" fill="#c4d8a4" opacity=".9"/>
<circle cx="37" cy="-84.98" r="0.85" fill="#c4d8a4" opacity=".9"/>
<circle cx="21.19" cy="-84" r="0.98" fill="#c4d8a4" opacity=".9"/>
<circle cx="31.62" cy="-78.03" r="0.9" fill="#c4d8a4" opacity=".9"/>
<circle cx="128.17" cy="-161.68" r="1.26" fill="#c4d8a4" opacity=".9"/>
<circle cx="89.81" cy="-152.79" r="1.05" fill="#c4d8a4" opacity=".9"/>
<circle cx="36.02" cy="-112.95" r="1.06" fill="#c4d8a4" opacity=".9"/>
<circle cx="2.55" cy="-142.72" r="1.13" fill="#c4d8a4" opacity=".9"/>
<circle cx="0.49" cy="-106.4" r="0.95" fill="#c4d8a4" opacity=".9"/>
<circle cx="121.36" cy="-147.78" r="0.93" fill="#c4d8a4" opacity=".9"/>
<circle cx="-4.52" cy="-88.6" r="0.99" fill="#c4d8a4" opacity=".9"/>
<circle cx="72.08" cy="-134.41" r="1.15" fill="#c4d8a4" opacity=".9"/>
<circle cx="-1.69" cy="-108.92" r="0.98" fill="#c4d8a4" opacity=".9"/>
<circle cx="27.21" cy="-139.05" r="1" fill="#c4d8a4" opacity=".9"/>
<circle cx="139.28" cy="-102.61" r="0.91" fill="#c4d8a4" opacity=".9"/>
<circle cx="58.78" cy="-122.66" r="0.91" fill="#c4d8a4" opacity=".9"/>
<circle cx="113.46" cy="-94.13" r="1.21" fill="#c4d8a4" opacity=".9"/>
<circle cx="85.29" cy="-84.85" r="1.24" fill="#c4d8a4" opacity=".9"/>
<circle cx="-7.79" cy="-148.93" r="1.11" fill="#c4d8a4" opacity=".9"/>
<circle cx="16.23" cy="-163.35" r="1.26" fill="#c4d8a4" opacity=".9"/>
<circle cx="145.07" cy="-152.4" r="0.91" fill="#c4d8a4" opacity=".9"/>
<circle cx="103.47" cy="-93.57" r="0.87" fill="#c4d8a4" opacity=".9"/>
<circle cx="137.42" cy="-114.74" r="0.87" fill="#c4d8a4" opacity=".9"/>
<circle cx="31.47" cy="-113.37" r="1.2" fill="#c4d8a4" opacity=".9"/>
<circle cx="40.08" cy="-118.11" r="1.16" fill="#c4d8a4" opacity=".9"/>
<circle cx="55.04" cy="-77.07" r="0.86" fill="#c4d8a4" opacity=".9"/>
<circle cx="121.13" cy="-108.95" r="1.2" fill="#c4d8a4" opacity=".9"/>
<circle cx="26.77" cy="-143.96" r="0.84" fill="#c4d8a4" opacity=".9"/>
<circle cx="92.23" cy="-138.85" r="0.93" fill="#c4d8a4" opacity=".9"/>
<circle cx="87.7" cy="-158.33" r="1.16" fill="#c4d8a4" opacity=".9"/>
<circle cx="82.49" cy="-67.75" r="1.12" fill="#c4d8a4" opacity=".9"/>
<circle cx="68.89" cy="-141.15" r="1.18" fill="#c4d8a4" opacity=".9"/>
<circle cx="61.44" cy="-99.34" r="0.84" fill="#c4d8a4" opacity=".9"/>
<circle cx="29.57" cy="-123.3" r="1.1" fill="#c4d8a4" opacity=".9"/>
<circle cx="67.8" cy="-139.81" r="1.02" fill="#c4d8a4" opacity=".9"/>
<circle cx="11.54" cy="-73.77" r="1.18" fill="#c4d8a4" opacity=".9"/>
<circle cx="2.56" cy="-145.45" r="1.05" fill="#c4d8a4" opacity=".9"/>
<circle cx="85.58" cy="-127.75" r="1" fill="#c4d8a4" opacity=".9"/>
<circle cx="14.09" cy="-83.54" r="1.26" fill="#c4d8a4" opacity=".9"/>
<circle cx="33.94" cy="-110.89" r="0.85" fill="#c4d8a4" opacity=".9"/>
<circle cx="108.78" cy="-97.5" r="1.25" fill="#c4d8a4" opacity=".9"/>
<circle cx="44.43" cy="-146.85" r="1.2" fill="#c4d8a4" opacity=".9"/>
<circle cx="54.27" cy="-70.38" r="1.3" fill="#c4d8a4" opacity=".9"/>
<circle cx="133.22" cy="-122.53" r="0.96" fill="#c4d8a4" opacity=".9"/>
<circle cx="20.84" cy="-146.63" r="1.29" fill="#c4d8a4" opacity=".9"/>
<circle cx="5.62" cy="-95.03" r="1.1" fill="#c4d8a4" opacity=".9"/>
<circle cx="63.78" cy="-82.42" r="1.2" fill="#c4d8a4" opacity=".9"/>
<circle cx="21.4" cy="-94.89" r="1" fill="#c4d8a4" opacity=".9"/>
<circle cx="122.66" cy="-148.75" r="1.21" fill="#c4d8a4" opacity=".9"/>
<circle cx="63.69" cy="-77.72" r="1.24" fill="#c4d8a4" opacity=".9"/>
<circle cx="12.94" cy="-116.27" r="1.1" fill="#c4d8a4" opacity=".9"/>
<circle cx="108.25" cy="-119.76" r="0.91" fill="#c4d8a4" opacity=".9"/>
<circle cx="114.6" cy="-148.44" r="1.06" fill="#c4d8a4" opacity=".9"/>
<circle cx="-1.92" cy="-146.7" r="1.26" fill="#c4d8a4" opacity=".9"/>
<circle cx="34.64" cy="-110.68" r="1" fill="#c4d8a4" opacity=".9"/>
<circle cx="-2.65" cy="-104.62" r="0.85" fill="#c4d8a4" opacity=".9"/>
<circle cx="151.04" cy="-105.78" r="0.98" fill="#c4d8a4" opacity=".9"/>
<circle cx="143.31" cy="-172.53" r="1.13" fill="#c4d8a4" opacity=".9"/>
<circle cx="107.48" cy="-96.6" r="1.09" fill="#c4d8a4" opacity=".9"/>
<circle cx="127.78" cy="-106.9" r="1.03" fill="#c4d8a4" opacity=".9"/>
<circle cx="95.85" cy="-130.55" r="1.02" fill="#c4d8a4" opacity=".9"/>
<circle cx="15.67" cy="-109.56" r="1.2" fill="#c4d8a4" opacity=".9"/>
<circle cx="112.28" cy="-92.94" r="1.09" fill="#c4d8a4" opacity=".9"/>
<circle cx="125.63" cy="-92.21" r="1.2" fill="#c4d8a4" opacity=".9"/>
<circle cx="100.68" cy="-94.18" r="0.81" fill="#c4d8a4" opacity=".9"/>
<circle cx="83.94" cy="-98.19" r="1.27" fill="#c4d8a4" opacity=".9"/>
<circle cx="138.04" cy="-120.44" r="1.1" fill="#c4d8a4" opacity=".9"/>
<circle cx="158.91" cy="-135.29" r="1.29" fill="#c4d8a4" opacity=".9"/>
<circle cx="76.49" cy="-72.07" r="0.81" fill="#c4d8a4" opacity=".9"/>
<circle cx="114.49" cy="-147.85" r="0.9" fill="#c4d8a4" opacity=".9"/>
<circle cx="79.84" cy="-133.17" r="1.17" fill="#c4d8a4" opacity=".9"/>
<circle cx="27.26" cy="-138.94" r="1.22" fill="#c4d8a4" opacity=".9"/>
<circle cx="55.64" cy="-115.68" r="1.09" fill="#c4d8a4" opacity=".9"/>
<circle cx="62.66" cy="-107.27" r="0.82" fill="#c4d8a4" opacity=".9"/>
<circle cx="118.89" cy="-149.99" r="1.23" fill="#c4d8a4" opacity=".9"/>
<circle cx="107.35" cy="-88.11" r="1.08" fill="#c4d8a4" opacity=".9"/>
<circle cx="104.95" cy="-105.96" r="1.15" fill="#c4d8a4" opacity=".9"/>
<circle cx="35.89" cy="-93.03" r="0.87" fill="#c4d8a4" opacity=".9"/>
<circle cx="136.85" cy="-107.56" r="1.23" fill="#c4d8a4" opacity=".9"/>
<circle cx="89.82" cy="-67.11" r="1.09" fill="#c4d8a4" opacity=".9"/>
<circle cx="135.89" cy="-177" r="0.94" fill="#c4d8a4" opacity=".9"/>
<circle cx="136.62" cy="-172.69" r="1.07" fill="#c4d8a4" opacity=".9"/>
<circle cx="75.75" cy="-77.98" r="0.88" fill="#c4d8a4" opacity=".9"/>
<circle cx="132.96" cy="-109.4" r="1.29" fill="#c4d8a4" opacity=".9"/>
<circle cx="89.09" cy="-137.97" r="0.89" fill="#c4d8a4" opacity=".9"/>
<circle cx="13.52" cy="-109.49" r="0.84" fill="#c4d8a4" opacity=".9"/>
<circle cx="141.26" cy="-98.45" r="0.91" fill="#c4d8a4" opacity=".9"/>
<circle cx="115.12" cy="-102.4" r="0.97" fill="#c4d8a4" opacity=".9"/>
<circle cx="104.74" cy="-90.85" r="1.15" fill="#c4d8a4" opacity=".9"/>
<circle cx="146.98" cy="-141.15" r="0.83" fill="#c4d8a4" opacity=".9"/>
<circle cx="23.2" cy="-120.71" r="1.17" fill="#c4d8a4" opacity=".9"/>
<circle cx="85.58" cy="-103.16" r="1.07" fill="#c4d8a4" opacity=".9"/>
<circle cx="153.13" cy="-124.98" r="0.91" fill="#c4d8a4" opacity=".9"/>
<circle cx="130.28" cy="-165.61" r="1.09" fill="#c4d8a4" opacity=".9"/>
<circle cx="74.41" cy="-88.15" r="0.83" fill="#c4d8a4" opacity=".9"/>
<circle cx="36.14" cy="-109.95" r="1.17" fill="#c4d8a4" opacity=".9"/>
<circle cx="20.74" cy="-84.49" r="0.9" fill="#c4d8a4" opacity=".9"/>
<circle cx="22.6" cy="-143.79" r="1" fill="#c4d8a4" opacity=".9"/>
<circle cx="21.04" cy="-158.32" r="0.86" fill="#c4d8a4" opacity=".9"/>
<circle cx="42.23" cy="-156.63" r="0.98" fill="#c4d8a4" opacity=".9"/>
<circle cx="96.61" cy="-88.91" r="0.89" fill="#c4d8a4" opacity=".9"/>
<circle cx="4.11" cy="-142.32" r="0.92" fill="#c4d8a4" opacity=".9"/>
<circle cx="111.99" cy="-127.99" r="0.81" fill="#c4d8a4" opacity=".9"/>
<circle cx="104.73" cy="-88.87" r="1.1" fill="#c4d8a4" opacity=".9"/>
<circle cx="11.88" cy="-94.44" r="0.98" fill="#c4d8a4" opacity=".9"/>
<circle cx="125.73" cy="-85.7" r="1.22" fill="#c4d8a4" opacity=".9"/>
<circle cx="17.11" cy="-106.96" r="1.02" fill="#c4d8a4" opacity=".9"/>
<circle cx="118.83" cy="-107.02" r="1.06" fill="#c4d8a4" opacity=".9"/>
<circle cx="94.91" cy="-153.07" r="1.29" fill="#c4d8a4" opacity=".9"/>
<circle cx="113.44" cy="-79.94" r="1.24" fill="#c4d8a4" opacity=".9"/>
<circle cx="82.08" cy="-124.2" r="1.15" fill="#c4d8a4" opacity=".9"/>
<circle cx="133.16" cy="-103.52" r="1.21" fill="#c4d8a4" opacity=".9"/>
<circle cx="19.24" cy="-135.15" r="0.8" fill="#c4d8a4" opacity=".9"/>
<circle cx="5.7" cy="-109.69" r="0.92" fill="#c4d8a4" opacity=".9"/>
<circle cx="74.7" cy="-146.24" r="1.22" fill="#c4d8a4" opacity=".9"/>
<circle cx="27.65" cy="-143.83" r="0.85" fill="#c4d8a4" opacity=".9"/>
<circle cx="135.82" cy="-82.8" r="0.92" fill="#c4d8a4" opacity=".9"/>
<circle cx="-3.14" cy="-116.19" r="1.26" fill="#c4d8a4" opacity=".9"/>
<circle cx="22.27" cy="-141.78" r="1.19" fill="#c4d8a4" opacity=".9"/>
<circle cx="36.92" cy="-119.52" r="1.28" fill="#c4d8a4" opacity=".9"/>
<circle cx="8.36" cy="-157.77" r="1.24" fill="#c4d8a4" opacity=".9"/>
<circle cx="27.63" cy="-138.32" r="1.09" fill="#c4d8a4" opacity=".9"/>
<circle cx="147.84" cy="-150.47" r="1.25" fill="#c4d8a4" opacity=".9"/>
<circle cx="50.7" cy="-113.32" r="1" fill="#c4d8a4" opacity=".9"/>
<circle cx="31.82" cy="-159.17" r="1.21" fill="#c4d8a4" opacity=".9"/>
<circle cx="4.26" cy="-142.17" r="1.18" fill="#c4d8a4" opacity=".9"/>
<circle cx="114.44" cy="-93.81" r="1.24" fill="#c4d8a4" opacity=".9"/>
<circle cx="14.65" cy="-106.94" r="1.05" fill="#c4d8a4" opacity=".9"/>
<circle cx="132.98" cy="-146.18" r="1.24" fill="#c4d8a4" opacity=".9"/>
<circle cx="147.06" cy="-96.57" r="1.06" fill="#c4d8a4" opacity=".9"/>
<circle cx="-7.97" cy="-149.46" r="1.27" fill="#c4d8a4" opacity=".9"/>
<circle cx="44.66" cy="-143.45" r="1.21" fill="#c4d8a4" opacity=".9"/>
<circle cx="20.21" cy="-146.21" r="1.16" fill="#c4d8a4" opacity=".9"/>
<circle cx="-3.32" cy="-110.57" r="0.92" fill="#c4d8a4" opacity=".9"/>
<circle cx="33.29" cy="-93.45" r="1.22" fill="#c4d8a4" opacity=".9"/>
<circle cx="120.77" cy="-125.72" r="0.86" fill="#c4d8a4" opacity=".9"/>
<circle cx="36.85" cy="-133.28" r="1.11" fill="#c4d8a4" opacity=".9"/>
<circle cx="77.93" cy="-71.28" r="0.96" fill="#c4d8a4" opacity=".9"/>
<circle cx="62.97" cy="-90.04" r="1.15" fill="#c4d8a4" opacity=".9"/>
<circle cx="75.12" cy="-138.25" r="0.83" fill="#c4d8a4" opacity=".9"/>
<circle cx="73.11" cy="-91.95" r="0.83" fill="#c4d8a4" opacity=".9"/>
<circle cx="41.95" cy="-142.48" r="1.27" fill="#c4d8a4" opacity=".9"/>
<circle cx="-9.94" cy="-88.99" r="1.23" fill="#c4d8a4" opacity=".9"/>
<circle cx="114.54" cy="-81.4" r="1.24" fill="#c4d8a4" opacity=".9"/>
<circle cx="-19.08" cy="-91.26" r="1.25" fill="#c4d8a4" opacity=".9"/>
<circle cx="94.11" cy="-112.33" r="1.28" fill="#c4d8a4" opacity=".9"/>
<circle cx="133.86" cy="-166.13" r="0.91" fill="#c4d8a4" opacity=".9"/>
<circle cx="32.16" cy="-92.7" r="1.11" fill="#c4d8a4" opacity=".9"/>
<circle cx="61.38" cy="-76.23" r="0.81" fill="#c4d8a4" opacity=".9"/>
<circle cx="165.4" cy="-99.95" r="0.97" fill="#c4d8a4" opacity=".9"/>
<circle cx="27.85" cy="-82.09" r="1.05" fill="#c4d8a4" opacity=".9"/>
<circle cx="145.96" cy="-93.1" r="0.98" fill="#c4d8a4" opacity=".9"/>
<circle cx="-5.96" cy="-146.03" r="0.9" fill="#c4d8a4" opacity=".9"/>
<circle cx="28.94" cy="-113.83" r="0.91" fill="#c4d8a4" opacity=".9"/>
<circle cx="14.38" cy="-78.18" r="1.04" fill="#c4d8a4" opacity=".9"/>
<circle cx="80.1" cy="-113.67" r="1.15" fill="#c4d8a4" opacity=".9"/>
<circle cx="11.15" cy="-134.39" r="1.05" fill="#c4d8a4" opacity=".9"/>
<circle cx="19.51" cy="-134.95" r="0.97" fill="#c4d8a4" opacity=".9"/>
<circle cx="51.82" cy="-114.55" r="1.06" fill="#c4d8a4" opacity=".9"/>
<circle cx="13" cy="-92.93" r="1.3" fill="#c4d8a4" opacity=".9"/>
<circle cx="16.58" cy="-111.13" r="0.84" fill="#c4d8a4" opacity=".9"/>
<circle cx="86.69" cy="-152.39" r="0.84" fill="#c4d8a4" opacity=".9"/>
<circle cx="125.12" cy="-153.95" r="0.99" fill="#c4d8a4" opacity=".9"/>
<circle cx="134.36" cy="-110.68" r="1.14" fill="#c4d8a4" opacity=".9"/>
<circle cx="114.5" cy="-122.25" r="0.84" fill="#c4d8a4" opacity=".9"/>
<circle cx="68.48" cy="-113.57" r="1.2" fill="#c4d8a4" opacity=".9"/>
<circle cx="16.74" cy="-96.25" r="1.15" fill="#c4d8a4" opacity=".9"/>
<circle cx="30.97" cy="-141.18" r="1.13" fill="#c4d8a4" opacity=".9"/>
<circle cx="166.2" cy="-114.71" r="0.9" fill="#c4d8a4" opacity=".9"/>
<circle cx="14.26" cy="-82.42" r="1.02" fill="#c4d8a4" opacity=".9"/>
<circle cx="86.35" cy="-102.2" r="1.24" fill="#c4d8a4" opacity=".9"/>
<circle cx="79.28" cy="-151.55" r="1.13" fill="#c4d8a4" opacity=".9"/>
<circle cx="62.99" cy="-142.28" r="0.95" fill="#c4d8a4" opacity=".9"/>
<circle cx="39.59" cy="-74.09" r="0.93" fill="#c4d8a4" opacity=".9"/>
<circle cx="131.37" cy="-122.27" r="1.2" fill="#c4d8a4" opacity=".9"/>
<circle cx="62.59" cy="-138.93" r="0.83" fill="#c4d8a4" opacity=".9"/>
<circle cx="77.47" cy="-152.58" r="1.06" fill="#c4d8a4" opacity=".9"/>
<circle cx="3.17" cy="-75.52" r="1.2" fill="#c4d8a4" opacity=".9"/>
<circle cx="10.13" cy="-132.11" r="1.01" fill="#c4d8a4" opacity=".9"/>
<circle cx="27.53" cy="-141.5" r="0.8" fill="#c4d8a4" opacity=".9"/>
<circle cx="78.62" cy="-85.98" r="0.82" fill="#c4d8a4" opacity=".9"/>
<circle cx="32.22" cy="-111.33" r="1.28" fill="#c4d8a4" opacity=".9"/>
<circle cx="45.58" cy="-79.75" r="1.19" fill="#c4d8a4" opacity=".9"/>
<circle cx="119.63" cy="-127.68" r="0.96" fill="#c4d8a4" opacity=".9"/>
<circle cx="113.53" cy="-93.11" r="1.16" fill="#c4d8a4" opacity=".9"/>
<circle cx="105.28" cy="-113.35" r="1.16" fill="#c4d8a4" opacity=".9"/>
<circle cx="59.77" cy="-108.08" r="1.03" fill="#c4d8a4" opacity=".9"/>
<circle cx="103.81" cy="-93.44" r="1.1" fill="#c4d8a4" opacity=".9"/>
<circle cx="99.37" cy="-127.9" r="1" fill="#c4d8a4" opacity=".9"/>
<circle cx="80.71" cy="-100.95" r="1.02" fill="#c4d8a4" opacity=".9"/>
<circle cx="122.54" cy="-120.32" r="0.85" fill="#c4d8a4" opacity=".9"/>
<circle cx="52.66" cy="-93" r="0.8" fill="#c4d8a4" opacity=".9"/>
<circle cx="81.2" cy="-98.01" r="0.93" fill="#c4d8a4" opacity=".9"/>
<circle cx="158.58" cy="-107.68" r="0.96" fill="#c4d8a4" opacity=".9"/>
<circle cx="125.05" cy="-155.89" r="0.88" fill="#c4d8a4" opacity=".9"/>
<circle cx="134.19" cy="-119.76" r="1.1" fill="#c4d8a4" opacity=".9"/>
<circle cx="143.21" cy="-157.38" r="1" fill="#c4d8a4" opacity=".9"/>
<circle cx="88.92" cy="-149.57" r="1.26" fill="#c4d8a4" opacity=".9"/>
<circle cx="88.44" cy="-77.74" r="1.22" fill="#c4d8a4" opacity=".9"/>
<circle cx="-2.71" cy="-77.76" r="0.81" fill="#c4d8a4" opacity=".9"/>
<circle cx="-0.13" cy="-97.65" r="0.87" fill="#c4d8a4" opacity=".9"/>
<circle cx="132.45" cy="-172.53" r="1.07" fill="#c4d8a4" opacity=".9"/>
<circle cx="113.91" cy="-152.74" r="0.97" fill="#c4d8a4" opacity=".9"/>
<circle cx="147.65" cy="-140.54" r="0.84" fill="#c4d8a4" opacity=".9"/>
<circle cx="1.49" cy="-139.78" r="0.99" fill="#c4d8a4" opacity=".9"/>
<circle cx="9.08" cy="-132.91" r="0.86" fill="#c4d8a4" opacity=".9"/>
<circle cx="79.76" cy="-112.32" r="1.24" fill="#c4d8a4" opacity=".9"/>
<circle cx="97.09" cy="-79.32" r="0.89" fill="#c4d8a4" opacity=".9"/>
<circle cx="124.89" cy="-120.14" r="1.23" fill="#c4d8a4" opacity=".9"/>
<circle cx="6.56" cy="-82.45" r="0.98" fill="#c4d8a4" opacity=".9"/>
<circle cx="126.27" cy="-160.59" r="1.24" fill="#c4d8a4" opacity=".9"/>
<circle cx="0.92" cy="-114.74" r="0.85" fill="#c4d8a4" opacity=".9"/>
<circle cx="153.1" cy="-147.11" r="1.29" fill="#c4d8a4" opacity=".9"/>
<circle cx="58.46" cy="-90.75" r="0.84" fill="#c4d8a4" opacity=".9"/>
<circle cx="109.03" cy="-124.26" r="0.83" fill="#c4d8a4" opacity=".9"/>
<circle cx="64.53" cy="-142.72" r="1.18" fill="#c4d8a4" opacity=".9"/>
</g>
</g>
</defs>
<rect width="1024" height="680" fill="#fff"/>
<g id="p-moss">
<g clip-path="url(#c-moss)"><use href="#trees" x="62" y="307.75"/></g>
<path d="M57.8 11.25 H507.5 V313.25" fill="none" stroke="#8a8a8a" stroke-width="1.1"/>
<path d="M62 11.25 V313.25 M57.8 307.75 H507.5" fill="none" stroke="#8a8a8a" stroke-width="1.1"/>
<path d="M57.8 248.45h4.2 M57.8 189.15h4.2 M57.8 129.85h4.2 M57.8 70.55h4.2 M136.25 307.75v5.5 M210.5 307.75v5.5 M284.75 307.75v5.5 M359 307.75v5.5 M433.25 307.75v5.5" fill="none" stroke="#8a8a8a" stroke-width="1.1"/>
<text x="50" y="311.75" text-anchor="end" class="tk">0</text>
<text x="50" y="252.45" text-anchor="end" class="tk">20</text>
<text x="50" y="193.15" text-anchor="end" class="tk">40</text>
<text x="50" y="133.85" text-anchor="end" class="tk">60</text>
<text x="50" y="74.55" text-anchor="end" class="tk">80</text>
<text x="50" y="15.25" text-anchor="end" class="tk">100</text>
<text transform="translate(22.4 210.6) rotate(-90)" class="ax" textLength="100.6" lengthAdjust="spacingAndGlyphs">Cover (% ± SE)</text>
<path d="M66.33 36.75h6.2M69.42 36.75V113.25M66.33 113.25h6.2M81.18 32.6h6.2M84.28 32.6V62.25M81.18 62.25h6.2M96.03 41.79h6.2M99.12 41.79V112.95M96.03 112.95h6.2M110.88 38.23h6.2M113.97 38.23V107.61M110.88 107.61h6.2M125.72 39.71h6.2M128.82 39.71V123.33M125.72 123.33h6.2M140.58 44.46h6.2M143.68 44.46V135.78M140.58 135.78h6.2M155.42 35.27h6.2M158.52 35.27V114.14M155.42 114.14h6.2M170.28 35.86h6.2M173.38 35.86V106.43M170.28 106.43h6.2M185.12 53.65h6.2M188.22 53.65V130.15M185.12 130.15h6.2M199.97 78.26h6.2M203.07 78.26V152.98M199.97 152.98h6.2M214.82 75.59h6.2M217.92 75.59V151.49M214.82 151.49h6.2M229.68 102.28h6.2M232.78 102.28V191.82M229.68 191.82h6.2M244.53 131.93h6.2M247.62 131.93V221.47M244.53 221.47h6.2M259.38 124.22h6.2M262.48 124.22V195.97M259.38 195.97h6.2M274.22 100.79h6.2M277.32 100.79V174.33M274.22 174.33h6.2M289.07 133.41h6.2M292.17 133.41V211.68M289.07 211.68h6.2M303.92 136.37h6.2M307.02 136.37V199.82M303.92 199.82h6.2M318.77 157.13h6.2M321.88 157.13V230.07M318.77 230.07h6.2M333.62 140.52h6.2M336.72 140.52V221.17M333.62 221.17h6.2M348.47 123.62h6.2M351.57 123.62V216.72M348.47 216.72h6.2M363.32 116.51h6.2M366.43 116.51V210.79M363.32 210.79h6.2M378.17 139.34h6.2M381.27 139.34V226.51M378.17 226.51h6.2M393.02 143.49h6.2M396.12 143.49V231.25M393.02 231.25h6.2M407.87 134.89h6.2M410.97 134.89V226.81M407.87 226.81h6.2M422.72 122.73h6.2M425.82 122.73V196.86M422.72 196.86h6.2M437.57 141.41h6.2M440.68 141.41V220.28M437.57 220.28h6.2M452.42 104.65h6.2M455.52 104.65V171.66M452.42 171.66h6.2M467.27 155.05h6.2M470.38 155.05V222.65M467.27 222.65h6.2M482.12 179.37h6.2M485.22 179.37V255.27M482.12 255.27h6.2M496.97 212.28h6.2M500.07 212.28V280.47M496.97 280.47h6.2M66.33 39.71h6.2M69.42 39.71V55.13M66.33 55.13h6.2M81.18 32.89h6.2M84.28 32.89V40.01M81.18 40.01h6.2M96.03 27.56h6.2M99.12 27.56V41.2M96.03 41.2h6.2M110.88 34.67h6.2M113.97 34.67V43.57M110.88 43.57h6.2M125.72 34.38h6.2M128.82 34.38V60.47M125.72 60.47h6.2M140.58 33.19h6.2M143.68 33.19V61.66M140.58 61.66h6.2M155.42 48.02h6.2M158.52 48.02V97.83M155.42 97.83h6.2M170.28 76.18h6.2M173.38 76.18V128.96M170.28 128.96h6.2M185.12 105.54h6.2M188.22 105.54V188.56M185.12 188.56h6.2M199.97 162.17h6.2M203.07 162.17V251.12M199.97 251.12h6.2M214.82 180.55h6.2M217.92 180.55V257.05M214.82 257.05h6.2M229.68 210.5h6.2M232.78 210.5V291.15M229.68 291.15h6.2M244.53 195.67h6.2M247.62 195.67V267.43M244.53 267.43h6.2M259.38 179.66h6.2M262.48 179.66V270.98M259.38 270.98h6.2M274.22 172.55h6.2M277.32 172.55V265.05M274.22 265.05h6.2M289.07 173.44h6.2M292.17 173.44V267.72M289.07 267.72h6.2M303.92 160.09h6.2M307.02 160.09V247.86M303.92 247.86h6.2M318.77 181.44h6.2M321.88 181.44V259.72M318.77 259.72h6.2M333.62 196.86h6.2M336.72 196.86V261.5M333.62 261.5h6.2M348.47 193.3h6.2M351.57 193.3V269.8M348.47 269.8h6.2M363.32 195.67h6.2M366.43 195.67V272.17M363.32 272.17h6.2M378.17 185.89h6.2M381.27 185.89V260.01M378.17 260.01h6.2M393.02 191.52h6.2M396.12 191.52V259.12M393.02 259.12h6.2M407.87 172.25h6.2M410.97 172.25V248.75M407.87 248.75h6.2M422.72 153.27h6.2M425.82 153.27V237.48M422.72 237.48h6.2M437.57 163.65h6.2M440.68 163.65V257.35M437.57 257.35h6.2M452.42 197.45h6.2M455.52 197.45V270.39M452.42 270.39h6.2M467.27 198.34h6.2M470.38 198.34V273.65M467.27 273.65h6.2M482.12 174.33h6.2M485.22 174.33V259.12M482.12 259.12h6.2M496.97 189.15h6.2M500.07 189.15V273.95M496.97 273.95h6.2" fill="none" stroke="#000" stroke-width="1.3"/>
<polyline points="69.42,75 84.28,47.42 99.12,77.37 113.97,72.92 128.82,81.52 143.68,90.12 158.52,74.7 173.38,71.14 188.22,91.9 203.07,115.62 217.92,113.54 232.78,147.05 247.62,176.7 262.48,160.09 277.32,137.56 292.17,172.55 307.02,168.1 321.88,193.6 336.72,180.85 351.57,170.17 366.43,163.65 381.27,182.92 396.12,187.37 410.97,180.85 425.82,159.8 440.68,180.85 455.52,138.15 470.38,188.85 485.22,217.32 500.07,246.37" class="ln"/>
<path d="M63.12 75l6.3 -5.8l6.3 5.8l-6.3 5.8zM77.98 47.42l6.3 -5.8l6.3 5.8l-6.3 5.8zM92.83 77.37l6.3 -5.8l6.3 5.8l-6.3 5.8zM107.67 72.92l6.3 -5.8l6.3 5.8l-6.3 5.8zM122.52 81.52l6.3 -5.8l6.3 5.8l-6.3 5.8zM137.38 90.12l6.3 -5.8l6.3 5.8l-6.3 5.8zM152.22 74.7l6.3 -5.8l6.3 5.8l-6.3 5.8zM167.07 71.14l6.3 -5.8l6.3 5.8l-6.3 5.8zM181.92 91.9l6.3 -5.8l6.3 5.8l-6.3 5.8zM196.77 115.62l6.3 -5.8l6.3 5.8l-6.3 5.8zM211.62 113.54l6.3 -5.8l6.3 5.8l-6.3 5.8zM226.47 147.05l6.3 -5.8l6.3 5.8l-6.3 5.8zM241.32 176.7l6.3 -5.8l6.3 5.8l-6.3 5.8zM256.18 160.09l6.3 -5.8l6.3 5.8l-6.3 5.8zM271.02 137.56l6.3 -5.8l6.3 5.8l-6.3 5.8zM285.87 172.55l6.3 -5.8l6.3 5.8l-6.3 5.8zM300.72 168.1l6.3 -5.8l6.3 5.8l-6.3 5.8zM315.57 193.6l6.3 -5.8l6.3 5.8l-6.3 5.8zM330.42 180.85l6.3 -5.8l6.3 5.8l-6.3 5.8zM345.27 170.17l6.3 -5.8l6.3 5.8l-6.3 5.8zM360.12 163.65l6.3 -5.8l6.3 5.8l-6.3 5.8zM374.97 182.92l6.3 -5.8l6.3 5.8l-6.3 5.8zM389.82 187.37l6.3 -5.8l6.3 5.8l-6.3 5.8zM404.67 180.85l6.3 -5.8l6.3 5.8l-6.3 5.8zM419.52 159.8l6.3 -5.8l6.3 5.8l-6.3 5.8zM434.38 180.85l6.3 -5.8l6.3 5.8l-6.3 5.8zM449.22 138.15l6.3 -5.8l6.3 5.8l-6.3 5.8zM464.07 188.85l6.3 -5.8l6.3 5.8l-6.3 5.8zM478.92 217.32l6.3 -5.8l6.3 5.8l-6.3 5.8zM493.77 246.37l6.3 -5.8l6.3 5.8l-6.3 5.8z" fill="#d99795" stroke="#000" stroke-width="1"/>
<polyline points="69.42,47.42 84.28,36.45 99.12,34.38 113.97,39.12 128.82,47.42 143.68,47.42 158.52,72.92 173.38,102.57 188.22,147.05 203.07,206.64 217.92,218.8 232.78,250.82 247.62,231.55 262.48,225.32 277.32,218.8 292.17,220.58 307.02,203.98 321.88,220.58 336.72,229.18 351.57,231.55 366.43,233.92 381.27,222.95 396.12,225.32 410.97,210.5 425.82,195.38 440.68,210.5 455.52,233.92 470.38,236 485.22,216.72 500.07,231.55" class="ln"/>
<path d="M64.02 42.02h10.8v10.8h-10.8zM78.88 31.05h10.8v10.8h-10.8zM93.72 28.98h10.8v10.8h-10.8zM108.57 33.72h10.8v10.8h-10.8zM123.42 42.02h10.8v10.8h-10.8zM138.28 42.02h10.8v10.8h-10.8zM153.12 67.52h10.8v10.8h-10.8zM167.97 97.17h10.8v10.8h-10.8zM182.82 141.65h10.8v10.8h-10.8zM197.67 201.24h10.8v10.8h-10.8zM212.52 213.4h10.8v10.8h-10.8zM227.38 245.42h10.8v10.8h-10.8zM242.22 226.15h10.8v10.8h-10.8zM257.08 219.92h10.8v10.8h-10.8zM271.93 213.4h10.8v10.8h-10.8zM286.77 215.18h10.8v10.8h-10.8zM301.62 198.58h10.8v10.8h-10.8zM316.48 215.18h10.8v10.8h-10.8zM331.32 223.78h10.8v10.8h-10.8zM346.18 226.15h10.8v10.8h-10.8zM361.03 228.52h10.8v10.8h-10.8zM375.88 217.55h10.8v10.8h-10.8zM390.73 219.92h10.8v10.8h-10.8zM405.57 205.1h10.8v10.8h-10.8zM420.43 189.98h10.8v10.8h-10.8zM435.28 205.1h10.8v10.8h-10.8zM450.12 228.52h10.8v10.8h-10.8zM464.98 230.6h10.8v10.8h-10.8zM479.82 211.32h10.8v10.8h-10.8zM494.68 226.15h10.8v10.8h-10.8z" fill="url(#gs)" stroke="#000" stroke-width="1.1"/>
<text x="286.5" y="28.25" class="ti" textLength="49" lengthAdjust="spacingAndGlyphs">Moss</text>
<path d="M379 48.6H404M379 70.6H404" stroke="#000" stroke-width="1.7" fill="none"/>
<path d="M387.65 48.6l3.6 -3.4l3.6 3.4l-3.6 3.4z" fill="#d99795" stroke="#000" stroke-width=".9"/>
<path d="M387.75 67.1h7v7h-7z" fill="#c3d69b" stroke="#000" stroke-width=".9"/>
<text x="406.75" y="52.3" class="lg" textLength="63.5" lengthAdjust="spacingAndGlyphs">North-facing</text>
<text x="406.75" y="73.8" class="lg" textLength="63.5" lengthAdjust="spacingAndGlyphs">South-facing</text>
</g>
<g id="p-ling">
<g clip-path="url(#c-ling)"><use href="#trees" x="564" y="307.25"/></g>
<path d="M559.8 11 H1014.5 V312.75" fill="none" stroke="#8a8a8a" stroke-width="1.1"/>
<path d="M564 11 V312.75 M559.8 307.25 H1014.5" fill="none" stroke="#8a8a8a" stroke-width="1.1"/>
<path d="M559.8 248h4.2 M559.8 188.75h4.2 M559.8 129.5h4.2 M559.8 70.25h4.2 M639 307.25v5.5 M714 307.25v5.5 M789 307.25v5.5 M864 307.25v5.5 M939 307.25v5.5" fill="none" stroke="#8a8a8a" stroke-width="1.1"/>
<text x="552" y="311.25" text-anchor="end" class="tk">0</text>
<text x="552" y="252" text-anchor="end" class="tk">20</text>
<text x="552" y="192.75" text-anchor="end" class="tk">40</text>
<text x="552" y="133.5" text-anchor="end" class="tk">60</text>
<text x="552" y="74.25" text-anchor="end" class="tk">80</text>
<text x="552" y="15" text-anchor="end" class="tk">100</text>
<path d="M568.4 229.04h6.2M571.5 229.04V262.81M568.4 262.81h6.2M583.4 224.3h6.2M586.5 224.3V267.55M583.4 267.55h6.2M598.4 231.11h6.2M601.5 231.11V277.33M598.4 277.33h6.2M613.4 247.11h6.2M616.5 247.11V273.18M613.4 273.18h6.2M628.4 262.52h6.2M631.5 262.52V274.37M628.4 274.37h6.2M643.4 257.18h6.2M646.5 257.18V269.63M643.4 269.63h6.2M658.4 234.08h6.2M661.5 234.08V261.33M658.4 261.33h6.2M673.4 262.81h6.2M676.5 262.81V276.44M673.4 276.44h6.2M688.4 260.15h6.2M691.5 260.15V279.11M688.4 279.11h6.2M703.4 256h6.2M706.5 256V283.25M703.4 283.25h6.2M718.4 277.62h6.2M721.5 277.62V289.48M718.4 289.48h6.2M733.4 274.37h6.2M736.5 274.37V289.18M733.4 289.18h6.2M748.4 286.22h6.2M751.5 286.22V295.1M748.4 295.1h6.2M763.4 286.51h6.2M766.5 286.51V295.4M763.4 295.4h6.2M778.4 290.07h6.2M781.5 290.07V295.99M778.4 295.99h6.2M793.4 294.21h6.2M796.5 294.21V300.14M793.4 300.14h6.2M808.4 295.4h6.2M811.5 295.4V301.32M808.4 301.32h6.2M823.4 290.66h6.2M826.5 290.66V296.58M823.4 296.58h6.2M838.4 291.25h6.2M841.5 291.25V297.18M838.4 297.18h6.2M853.4 293.62h6.2M856.5 293.62V299.55M853.4 299.55h6.2M868.4 294.51h6.2M871.5 294.51V300.44M868.4 300.44h6.2M883.4 296.88h6.2M886.5 296.88V302.81M883.4 302.81h6.2M898.4 291.85h6.2M901.5 291.85V297.77M898.4 297.77h6.2M913.4 287.4h6.2M916.5 287.4V296.29M913.4 296.29h6.2M928.4 245.93h6.2M931.5 245.93V292.73M928.4 292.73h6.2M943.4 277.33h6.2M946.5 277.33V295.1M943.4 295.1h6.2M958.4 279.11h6.2M961.5 279.11V293.33M958.4 293.33h6.2M973.4 281.77h6.2M976.5 281.77V293.62M973.4 293.62h6.2M988.4 280.59h6.2M991.5 280.59V294.81M988.4 294.81h6.2M1003.4 287.4h6.2M1006.5 287.4V296.29M1003.4 296.29h6.2M568.4 279.7h6.2M571.5 279.7V288.59M568.4 288.59h6.2M583.4 282.96h6.2M586.5 282.96V290.07M583.4 290.07h6.2M598.4 275.85h6.2M601.5 275.85V284.74M598.4 284.74h6.2M613.4 264.89h6.2M616.5 264.89V277.92M613.4 277.92h6.2M628.4 268.74h6.2M631.5 268.74V282.96M628.4 282.96h6.2M643.4 271.4h6.2M646.5 271.4V280.29M643.4 280.29h6.2M658.4 246.52h6.2M661.5 246.52V271.4M658.4 271.4h6.2M673.4 234.37h6.2M676.5 234.37V270.51M673.4 270.51h6.2M688.4 210.97h6.2M691.5 210.97V264.89M688.4 264.89h6.2M703.4 235.56h6.2M706.5 235.56V269.33M703.4 269.33h6.2M718.4 273.77h6.2M721.5 273.77V290.96M718.4 290.96h6.2M733.4 273.77h6.2M736.5 273.77V295.7M733.4 295.7h6.2M748.4 276.44h6.2M751.5 276.44V296.58M748.4 296.58h6.2M763.4 274.37h6.2M766.5 274.37V303.4M763.4 303.4h6.2M778.4 295.99h6.2M781.5 295.99V301.92M778.4 301.92h6.2M793.4 294.21h6.2M796.5 294.21V300.14M793.4 300.14h6.2M808.4 296.58h6.2M811.5 296.58V302.51M808.4 302.51h6.2M823.4 287.7h6.2M826.5 287.7V293.62M823.4 293.62h6.2M838.4 296.58h6.2M841.5 296.58V302.51M838.4 302.51h6.2M853.4 298.36h6.2M856.5 298.36V304.29M853.4 304.29h6.2M868.4 291.85h6.2M871.5 291.85V297.77M868.4 297.77h6.2M883.4 291.85h6.2M886.5 291.85V297.77M883.4 297.77h6.2M898.4 294.21h6.2M901.5 294.21V300.14M898.4 300.14h6.2M913.4 280.88h6.2M916.5 280.88V300.44M913.4 300.44h6.2M928.4 296.58h6.2M931.5 296.58V302.51M928.4 302.51h6.2M943.4 291.85h6.2M946.5 291.85V297.77M943.4 297.77h6.2M958.4 291.85h6.2M961.5 291.85V297.77M958.4 297.77h6.2M973.4 296.58h6.2M976.5 296.58V302.51M973.4 302.51h6.2M988.4 294.21h6.2M991.5 294.21V300.14M988.4 300.14h6.2M1003.4 291.85h6.2M1006.5 291.85V297.77M1003.4 297.77h6.2" fill="none" stroke="#000" stroke-width="1.3"/>
<polyline points="571.5,245.93 586.5,245.93 601.5,254.22 616.5,260.15 631.5,268.44 646.5,263.4 661.5,247.7 676.5,269.63 691.5,269.63 706.5,269.63 721.5,283.55 736.5,281.77 751.5,290.66 766.5,290.96 781.5,293.03 796.5,297.18 811.5,298.36 826.5,293.62 841.5,294.21 856.5,296.58 871.5,297.47 886.5,299.84 901.5,294.81 916.5,291.85 931.5,269.33 946.5,286.22 961.5,286.22 976.5,287.7 991.5,287.7 1006.5,291.85" class="ln"/>
<path d="M565.2 245.93l6.3 -5.8l6.3 5.8l-6.3 5.8zM580.2 245.93l6.3 -5.8l6.3 5.8l-6.3 5.8zM595.2 254.22l6.3 -5.8l6.3 5.8l-6.3 5.8zM610.2 260.15l6.3 -5.8l6.3 5.8l-6.3 5.8zM625.2 268.44l6.3 -5.8l6.3 5.8l-6.3 5.8zM640.2 263.4l6.3 -5.8l6.3 5.8l-6.3 5.8zM655.2 247.7l6.3 -5.8l6.3 5.8l-6.3 5.8zM670.2 269.63l6.3 -5.8l6.3 5.8l-6.3 5.8zM685.2 269.63l6.3 -5.8l6.3 5.8l-6.3 5.8zM700.2 269.63l6.3 -5.8l6.3 5.8l-6.3 5.8zM715.2 283.55l6.3 -5.8l6.3 5.8l-6.3 5.8zM730.2 281.77l6.3 -5.8l6.3 5.8l-6.3 5.8zM745.2 290.66l6.3 -5.8l6.3 5.8l-6.3 5.8zM760.2 290.96l6.3 -5.8l6.3 5.8l-6.3 5.8zM775.2 293.03l6.3 -5.8l6.3 5.8l-6.3 5.8zM790.2 297.18l6.3 -5.8l6.3 5.8l-6.3 5.8zM805.2 298.36l6.3 -5.8l6.3 5.8l-6.3 5.8zM820.2 293.62l6.3 -5.8l6.3 5.8l-6.3 5.8zM835.2 294.21l6.3 -5.8l6.3 5.8l-6.3 5.8zM850.2 296.58l6.3 -5.8l6.3 5.8l-6.3 5.8zM865.2 297.47l6.3 -5.8l6.3 5.8l-6.3 5.8zM880.2 299.84l6.3 -5.8l6.3 5.8l-6.3 5.8zM895.2 294.81l6.3 -5.8l6.3 5.8l-6.3 5.8zM910.2 291.85l6.3 -5.8l6.3 5.8l-6.3 5.8zM925.2 269.33l6.3 -5.8l6.3 5.8l-6.3 5.8zM940.2 286.22l6.3 -5.8l6.3 5.8l-6.3 5.8zM955.2 286.22l6.3 -5.8l6.3 5.8l-6.3 5.8zM970.2 287.7l6.3 -5.8l6.3 5.8l-6.3 5.8zM985.2 287.7l6.3 -5.8l6.3 5.8l-6.3 5.8zM1000.2 291.85l6.3 -5.8l6.3 5.8l-6.3 5.8z" fill="#d99795" stroke="#000" stroke-width="1"/>
<polyline points="571.5,284.14 586.5,286.51 601.5,280.29 616.5,271.4 631.5,275.85 646.5,275.85 661.5,258.96 676.5,252.44 691.5,237.93 706.5,252.44 721.5,282.37 736.5,284.74 751.5,286.51 766.5,288.88 781.5,298.95 796.5,297.18 811.5,299.55 826.5,290.66 841.5,299.55 856.5,301.32 871.5,294.81 886.5,294.81 901.5,297.18 916.5,290.66 931.5,299.55 946.5,294.81 961.5,294.81 976.5,299.55 991.5,297.18 1006.5,294.81" class="ln"/>
<path d="M566.1 278.74h10.8v10.8h-10.8zM581.1 281.11h10.8v10.8h-10.8zM596.1 274.89h10.8v10.8h-10.8zM611.1 266h10.8v10.8h-10.8zM626.1 270.45h10.8v10.8h-10.8zM641.1 270.45h10.8v10.8h-10.8zM656.1 253.56h10.8v10.8h-10.8zM671.1 247.04h10.8v10.8h-10.8zM686.1 232.53h10.8v10.8h-10.8zM701.1 247.04h10.8v10.8h-10.8zM716.1 276.97h10.8v10.8h-10.8zM731.1 279.34h10.8v10.8h-10.8zM746.1 281.11h10.8v10.8h-10.8zM761.1 283.48h10.8v10.8h-10.8zM776.1 293.56h10.8v10.8h-10.8zM791.1 291.78h10.8v10.8h-10.8zM806.1 294.15h10.8v10.8h-10.8zM821.1 285.26h10.8v10.8h-10.8zM836.1 294.15h10.8v10.8h-10.8zM851.1 295.93h10.8v10.8h-10.8zM866.1 289.41h10.8v10.8h-10.8zM881.1 289.41h10.8v10.8h-10.8zM896.1 291.78h10.8v10.8h-10.8zM911.1 285.26h10.8v10.8h-10.8zM926.1 294.15h10.8v10.8h-10.8zM941.1 289.41h10.8v10.8h-10.8zM956.1 289.41h10.8v10.8h-10.8zM971.1 294.15h10.8v10.8h-10.8zM986.1 291.78h10.8v10.8h-10.8zM1001.1 289.41h10.8v10.8h-10.8z" fill="url(#gs)" stroke="#000" stroke-width="1.1"/>
<text x="776.5" y="28.25" class="ti" textLength="110.75" lengthAdjust="spacingAndGlyphs">Lingonberry</text>
<path d="M889 45.1H914M889 66.6H914" stroke="#000" stroke-width="1.7" fill="none"/>
<path d="M897.9 45.1l3.6 -3.4l3.6 3.4l-3.6 3.4z" fill="#d99795" stroke="#000" stroke-width=".9"/>
<path d="M898 63.1h7v7h-7z" fill="#c3d69b" stroke="#000" stroke-width=".9"/>
<text x="916.75" y="48.8" class="lg" textLength="63.5" lengthAdjust="spacingAndGlyphs">North-facing</text>
<text x="916.75" y="70.55" class="lg" textLength="63.5" lengthAdjust="spacingAndGlyphs">South-facing</text>
</g>
<g id="p-lich">
<g clip-path="url(#c-lich)"><use href="#trees" x="62" y="620.25"/></g>
<path d="M57.8 323.4 H508.3 V625.75" fill="none" stroke="#8a8a8a" stroke-width="1.1"/>
<path d="M62 323.4 V625.75 M57.8 620.25 H508.3" fill="none" stroke="#8a8a8a" stroke-width="1.1"/>
<path d="M57.8 560.88h4.2 M57.8 501.51h4.2 M57.8 442.14h4.2 M57.8 382.77h4.2 M136.33 620.25v5.5 M210.67 620.25v5.5 M285 620.25v5.5 M359.33 620.25v5.5 M433.67 620.25v5.5" fill="none" stroke="#8a8a8a" stroke-width="1.1"/>
<text x="50" y="624.25" text-anchor="end" class="tk">0</text>
<text x="50" y="564.88" text-anchor="end" class="tk">20</text>
<text x="50" y="505.51" text-anchor="end" class="tk">40</text>
<text x="50" y="446.14" text-anchor="end" class="tk">60</text>
<text x="50" y="386.77" text-anchor="end" class="tk">80</text>
<text x="50" y="327.4" text-anchor="end" class="tk">100</text>
<text x="63.5" y="651.45" text-anchor="middle" class="tk">-10</text>
<text x="137.83" y="651.45" text-anchor="middle" class="tk">-5</text>
<text x="212.17" y="651.45" text-anchor="middle" class="tk">0</text>
<text x="285" y="651.45" text-anchor="middle" class="tk">5</text>
<text x="360.83" y="651.45" text-anchor="middle" class="tk">10</text>
<text x="435.17" y="651.45" text-anchor="middle" class="tk">15</text>
<text x="508" y="651.45" text-anchor="middle" class="tk">20</text>
<text x="201" y="674" class="ax" textLength="169" lengthAdjust="spacingAndGlyphs">Distance from edge (m)</text>
<text transform="translate(22.4 522.92) rotate(-90)" class="ax" textLength="100.6" lengthAdjust="spacingAndGlyphs">Cover (% ± SE)</text>
<path d="M66.33 545.44h6.2M69.43 545.44V610.16M66.33 610.16h6.2M81.2 596.21h6.2M84.3 596.21V605.11M81.2 605.11h6.2M96.07 532.68h6.2M99.17 532.68V605.7M96.07 605.7h6.2M110.93 534.16h6.2M114.03 534.16V600.06M110.93 600.06h6.2M125.8 525.55h6.2M128.9 525.55V596.8M125.8 596.8h6.2M140.67 527.63h6.2M143.77 527.63V603.03M140.67 603.03h6.2M155.53 530.6h6.2M158.63 530.6V607.78M155.53 607.78h6.2M170.4 531.19h6.2M173.5 531.19V603.63M170.4 603.63h6.2M185.27 521.1h6.2M188.37 521.1V591.75M185.27 591.75h6.2M200.13 511.9h6.2M203.23 511.9V576.61M200.13 576.61h6.2M215 533.27h6.2M218.1 533.27V584.33M215 584.33h6.2M229.87 476.87h6.2M232.97 476.87V555.83M229.87 555.83h6.2M244.73 437.69h6.2M247.83 437.69V514.27M244.73 514.27h6.2M259.6 499.73h6.2M262.7 499.73V554.35M259.6 554.35h6.2M274.47 492.01h6.2M277.57 492.01V556.13M274.47 556.13h6.2M289.33 441.55h6.2M292.43 441.55V515.17M289.33 515.17h6.2M304.2 461.73h6.2M307.3 461.73V520.51M304.2 520.51h6.2M319.07 436.5h6.2M322.17 436.5V510.12M319.07 510.12h6.2M333.93 455.5h6.2M337.03 455.5V535.05M333.93 535.05h6.2M348.8 452.83h6.2M351.9 452.83V542.48M348.8 542.48h6.2M363.67 464.7h6.2M366.77 464.7V547.22M363.67 547.22h6.2M378.53 442.44h6.2M381.63 442.44V535.05M378.53 535.05h6.2M393.4 432.05h6.2M396.5 432.05V519.91M393.4 519.91h6.2M408.27 460.84h6.2M411.37 460.84V546.33M408.27 546.33h6.2M423.13 517.24h6.2M426.23 517.24V583.74M423.13 583.74h6.2M438 497.35h6.2M441.1 497.35V568.6M438 568.6h6.2M452.87 507.74h6.2M455.97 507.74V576.02M452.87 576.02h6.2M467.73 459.95h6.2M470.83 459.95V522.29M467.73 522.29h6.2M482.6 420.47h6.2M485.7 420.47V488.75M482.6 488.75h6.2M497.47 402.66h6.2M500.57 402.66V490.53M497.47 490.53h6.2M66.33 604.81h6.2M69.43 604.81V610.75M66.33 610.75h6.2M81.2 604.81h6.2M84.3 604.81V610.75M81.2 610.75h6.2M96.07 606.89h6.2M99.17 606.89V612.83M96.07 612.83h6.2M110.93 602.74h6.2M114.03 602.74V608.67M110.93 608.67h6.2M125.8 602.74h6.2M128.9 602.74V608.67M125.8 608.67h6.2M140.67 600.06h6.2M143.77 600.06V607.19M140.67 607.19h6.2M155.53 587.6h6.2M158.63 587.6V606.59M155.53 606.59h6.2M170.4 546.04h6.2M173.5 546.04V584.63M170.4 584.63h6.2M185.27 527.63h6.2M188.37 527.63V581.66M185.27 581.66h6.2M200.13 482.81h6.2M203.23 482.81V562.96M200.13 562.96h6.2M215 457.28h6.2M218.1 457.28V533.27M215 533.27h6.2M229.87 405.33h6.2M232.97 405.33V487.85M229.87 487.85h6.2M244.73 389h6.2M247.83 389V465.59M244.73 465.59h6.2M259.6 402.66h6.2M262.7 402.66V490.53M259.6 490.53h6.2M274.47 397.02h6.2M277.57 397.02V486.67M274.47 486.67h6.2M289.33 398.5h6.2M292.43 398.5V481.03M289.33 481.03h6.2M304.2 421.36h6.2M307.3 421.36V496.76M304.2 496.76h6.2M319.07 437.98h6.2M322.17 437.98V513.98M319.07 513.98h6.2M333.93 410.38h6.2M337.03 410.38V491.12M333.93 491.12h6.2M348.8 424.63h6.2M351.9 424.63V493.5M348.8 493.5h6.2M363.67 418.99h6.2M366.77 418.99V486.67M363.67 486.67h6.2M378.53 405.03h6.2M381.63 405.03V474.5M378.53 474.5h6.2M393.4 401.17h6.2M396.5 401.17V465.89M393.4 465.89h6.2M408.27 413.94h6.2M411.37 413.94V491.71M408.27 491.71h6.2M423.13 429.08h6.2M426.23 429.08V502.7M423.13 502.7h6.2M438 437.69h6.2M441.1 437.69V509.52M438 509.52h6.2M452.87 412.16h6.2M455.97 412.16V497.06M452.87 497.06h6.2M467.73 433.23h6.2M470.83 433.23V513.98M467.73 513.98h6.2M482.6 431.16h6.2M485.7 431.16V502.99M482.6 502.99h6.2M497.47 393.16h6.2M500.57 393.16V486.37M497.47 486.37h6.2" fill="none" stroke="#000" stroke-width="1.3"/>
<polyline points="69.43,577.8 84.3,600.66 99.17,569.19 114.03,567.11 128.9,561.18 143.77,565.33 158.63,569.19 173.5,567.41 188.37,556.43 203.23,544.26 218.1,558.8 232.97,516.35 247.83,475.98 262.7,527.04 277.57,524.07 292.43,478.36 307.3,491.12 322.17,473.31 337.03,495.28 351.9,497.65 366.77,505.96 381.63,488.75 396.5,475.98 411.37,503.59 426.23,550.49 441.1,532.98 455.97,541.88 470.83,491.12 485.7,454.61 500.57,446.59" class="ln"/>
<path d="M63.13 577.8l6.3 -5.8l6.3 5.8l-6.3 5.8zM78 600.66l6.3 -5.8l6.3 5.8l-6.3 5.8zM92.87 569.19l6.3 -5.8l6.3 5.8l-6.3 5.8zM107.73 567.11l6.3 -5.8l6.3 5.8l-6.3 5.8zM122.6 561.18l6.3 -5.8l6.3 5.8l-6.3 5.8zM137.47 565.33l6.3 -5.8l6.3 5.8l-6.3 5.8zM152.33 569.19l6.3 -5.8l6.3 5.8l-6.3 5.8zM167.2 567.41l6.3 -5.8l6.3 5.8l-6.3 5.8zM182.07 556.43l6.3 -5.8l6.3 5.8l-6.3 5.8zM196.93 544.26l6.3 -5.8l6.3 5.8l-6.3 5.8zM211.8 558.8l6.3 -5.8l6.3 5.8l-6.3 5.8zM226.67 516.35l6.3 -5.8l6.3 5.8l-6.3 5.8zM241.53 475.98l6.3 -5.8l6.3 5.8l-6.3 5.8zM256.4 527.04l6.3 -5.8l6.3 5.8l-6.3 5.8zM271.27 524.07l6.3 -5.8l6.3 5.8l-6.3 5.8zM286.13 478.36l6.3 -5.8l6.3 5.8l-6.3 5.8zM301 491.12l6.3 -5.8l6.3 5.8l-6.3 5.8zM315.87 473.31l6.3 -5.8l6.3 5.8l-6.3 5.8zM330.73 495.28l6.3 -5.8l6.3 5.8l-6.3 5.8zM345.6 497.65l6.3 -5.8l6.3 5.8l-6.3 5.8zM360.47 505.96l6.3 -5.8l6.3 5.8l-6.3 5.8zM375.33 488.75l6.3 -5.8l6.3 5.8l-6.3 5.8zM390.2 475.98l6.3 -5.8l6.3 5.8l-6.3 5.8zM405.07 503.59l6.3 -5.8l6.3 5.8l-6.3 5.8zM419.93 550.49l6.3 -5.8l6.3 5.8l-6.3 5.8zM434.8 532.98l6.3 -5.8l6.3 5.8l-6.3 5.8zM449.67 541.88l6.3 -5.8l6.3 5.8l-6.3 5.8zM464.53 491.12l6.3 -5.8l6.3 5.8l-6.3 5.8zM479.4 454.61l6.3 -5.8l6.3 5.8l-6.3 5.8zM494.27 446.59l6.3 -5.8l6.3 5.8l-6.3 5.8z" fill="#d99795" stroke="#000" stroke-width="1"/>
<polyline points="69.43,607.78 84.3,607.78 99.17,609.86 114.03,605.7 128.9,605.7 143.77,603.63 158.63,597.1 173.5,565.33 188.37,554.65 203.23,522.88 218.1,495.28 232.97,446.59 247.83,427.3 262.7,446.59 277.57,441.84 292.43,439.77 307.3,459.06 322.17,475.98 337.03,450.75 351.9,459.06 366.77,452.83 381.63,439.77 396.5,433.53 411.37,452.83 426.23,465.89 441.1,473.61 455.97,454.61 470.83,473.61 485.7,467.08 500.57,439.77" class="ln"/>
<path d="M64.03 602.38h10.8v10.8h-10.8zM78.9 602.38h10.8v10.8h-10.8zM93.77 604.46h10.8v10.8h-10.8zM108.63 600.3h10.8v10.8h-10.8zM123.5 600.3h10.8v10.8h-10.8zM138.37 598.23h10.8v10.8h-10.8zM153.23 591.7h10.8v10.8h-10.8zM168.1 559.93h10.8v10.8h-10.8zM182.97 549.25h10.8v10.8h-10.8zM197.83 517.48h10.8v10.8h-10.8zM212.7 489.88h10.8v10.8h-10.8zM227.57 441.19h10.8v10.8h-10.8zM242.43 421.9h10.8v10.8h-10.8zM257.3 441.19h10.8v10.8h-10.8zM272.17 436.44h10.8v10.8h-10.8zM287.03 434.37h10.8v10.8h-10.8zM301.9 453.66h10.8v10.8h-10.8zM316.77 470.58h10.8v10.8h-10.8zM331.63 445.35h10.8v10.8h-10.8zM346.5 453.66h10.8v10.8h-10.8zM361.37 447.43h10.8v10.8h-10.8zM376.23 434.37h10.8v10.8h-10.8zM391.1 428.13h10.8v10.8h-10.8zM405.97 447.43h10.8v10.8h-10.8zM420.83 460.49h10.8v10.8h-10.8zM435.7 468.21h10.8v10.8h-10.8zM450.57 449.21h10.8v10.8h-10.8zM465.43 468.21h10.8v10.8h-10.8zM480.3 461.68h10.8v10.8h-10.8zM495.17 434.37h10.8v10.8h-10.8z" fill="url(#gs)" stroke="#000" stroke-width="1.1"/>
<text x="281.75" y="340.5" class="ti" textLength="58.75" lengthAdjust="spacingAndGlyphs">Lichen</text>
<path d="M396.5 357.1H421M396.5 378.85H421" stroke="#000" stroke-width="1.7" fill="none"/>
<path d="M405.15 357.1l3.6 -3.4l3.6 3.4l-3.6 3.4z" fill="#d99795" stroke="#000" stroke-width=".9"/>
<path d="M405.25 375.35h7v7h-7z" fill="#c3d69b" stroke="#000" stroke-width=".9"/>
<text x="424" y="361.05" class="lg" textLength="63.5" lengthAdjust="spacingAndGlyphs">North-facing</text>
<text x="424" y="382.55" class="lg" textLength="63.5" lengthAdjust="spacingAndGlyphs">South-facing</text>
</g>
<g id="p-heat">
<g clip-path="url(#c-heat)"><use href="#trees" x="565.3" y="620"/></g>
<path d="M561.1 323 H1011.6 V625.5" fill="none" stroke="#8a8a8a" stroke-width="1.1"/>
<path d="M565.3 323 V625.5 M561.1 620 H1011.6" fill="none" stroke="#8a8a8a" stroke-width="1.1"/>
<path d="M561.1 560.6h4.2 M561.1 501.2h4.2 M561.1 441.8h4.2 M561.1 382.4h4.2 M639.63 620v5.5 M713.97 620v5.5 M788.3 620v5.5 M862.63 620v5.5 M936.97 620v5.5" fill="none" stroke="#8a8a8a" stroke-width="1.1"/>
<text x="553.5" y="624" text-anchor="end" class="tk">0</text>
<text x="553.5" y="564.6" text-anchor="end" class="tk">20</text>
<text x="553.5" y="505.2" text-anchor="end" class="tk">40</text>
<text x="553.5" y="445.8" text-anchor="end" class="tk">60</text>
<text x="553.5" y="386.4" text-anchor="end" class="tk">80</text>
<text x="553.5" y="327" text-anchor="end" class="tk">100</text>
<text x="566.8" y="649" text-anchor="middle" class="tk">-10</text>
<text x="641.13" y="649" text-anchor="middle" class="tk">-5</text>
<text x="715.47" y="649" text-anchor="middle" class="tk">0</text>
<text x="788.3" y="649" text-anchor="middle" class="tk">5</text>
<text x="864.13" y="649" text-anchor="middle" class="tk">10</text>
<text x="938.47" y="649" text-anchor="middle" class="tk">15</text>
<text x="1011.3" y="649" text-anchor="middle" class="tk">20</text>
<text x="704.25" y="674" class="ax" textLength="169" lengthAdjust="spacingAndGlyphs">Distance from edge (m)</text>
<path d="M569.63 616.14h6.2M572.73 616.14V619.11M569.63 619.11h6.2M584.5 613.47h6.2M587.6 613.47V618.22M584.5 618.22h6.2M599.37 614.95h6.2M602.47 614.95V617.92M599.37 617.92h6.2M614.23 605.15h6.2M617.33 605.15V617.03M614.23 617.03h6.2M629.1 611.09h6.2M632.2 611.09V617.03M629.1 617.03h6.2M643.97 611.09h6.2M647.07 611.09V617.03M643.97 617.03h6.2M658.83 614.95h6.2M661.93 614.95V617.92M658.83 617.92h6.2M673.7 611.39h6.2M676.8 611.39V617.33M673.7 617.33h6.2M688.57 617.33h6.2M691.67 617.33V619.11M688.57 619.11h6.2M703.43 601.29h6.2M706.53 601.29V610.2M703.43 610.2h6.2M718.3 601.88h6.2M721.4 601.88V612.58M718.3 612.58h6.2M733.17 605.74h6.2M736.27 605.74V617.62M733.17 617.62h6.2M748.03 601.29h6.2M751.13 601.29V610.2M748.03 610.2h6.2M762.9 591.49h6.2M766 591.49V605.74M762.9 605.74h6.2M777.77 575.45h6.2M780.87 575.45V599.8M777.77 599.8h6.2M792.63 581.09h6.2M795.73 581.09V598.91M792.63 598.91h6.2M807.5 565.95h6.2M810.6 565.95V585.55M807.5 585.55h6.2M822.37 588.82h6.2M825.47 588.82V595.94M822.37 595.94h6.2M837.23 579.61h6.2M840.33 579.61V596.83M837.23 596.83h6.2M852.1 554.07h6.2M855.2 554.07V593.27M852.1 593.27h6.2M866.97 546.94h6.2M870.07 546.94V594.46M866.97 594.46h6.2M881.83 540.7h6.2M884.93 540.7V597.13M881.83 597.13h6.2M896.7 545.45h6.2M899.8 545.45V592.38M896.7 592.38h6.2M911.57 556.44h6.2M914.67 556.44V597.43M911.57 597.43h6.2M926.43 507.44h6.2M929.53 507.44V567.43M926.43 567.43h6.2M941.3 540.4h6.2M944.4 540.4V572.48M941.3 572.48h6.2M956.17 557.63h6.2M959.27 557.63V587.33M956.17 587.33h6.2M971.03 568.02h6.2M974.13 568.02V592.38M971.03 592.38h6.2M985.9 554.66h6.2M989 554.66V584.36M985.9 584.36h6.2M1000.77 547.24h6.2M1003.87 547.24V585.85M1000.77 585.85h6.2M569.63 611.98h6.2M572.73 611.98V614.95M569.63 614.95h6.2M584.5 617.33h6.2M587.6 617.33V619.11M584.5 619.11h6.2M599.37 611.98h6.2M602.47 611.98V614.95M599.37 614.95h6.2M614.23 617.33h6.2M617.33 617.33V619.11M614.23 619.11h6.2M629.1 595.35h6.2M632.2 595.35V616.14M629.1 616.14h6.2M643.97 606.93h6.2M647.07 606.93V612.87M643.97 612.87h6.2M658.83 614.95h6.2M661.93 614.95V617.92M658.83 617.92h6.2M673.7 608.71h6.2M676.8 608.71V614.65M673.7 614.65h6.2M688.57 579.9h6.2M691.67 579.9V617.92M688.57 617.92h6.2M703.43 583.77h6.2M706.53 583.77V605.74M703.43 605.74h6.2M718.3 552.28h6.2M721.4 552.28V586.14M718.3 586.14h6.2M733.17 565.65h6.2M736.27 565.65V585.85M733.17 585.85h6.2M748.03 600.7h6.2M751.13 600.7V609.61M748.03 609.61h6.2M762.9 572.48h6.2M766 572.48V596.83M762.9 596.83h6.2M777.77 563.87h6.2M780.87 563.87V583.47M777.77 583.47h6.2M792.63 579.31h6.2M795.73 579.31V606.04M792.63 606.04h6.2M807.5 549.02h6.2M810.6 549.02V581.69M807.5 581.69h6.2M822.37 517.24h6.2M825.47 517.24V562.38M822.37 562.38h6.2M837.23 557.33h6.2M840.33 557.33V585.85M837.23 585.85h6.2M852.1 515.46h6.2M855.2 515.46V556.44M852.1 556.44h6.2M866.97 563.87h6.2M870.07 563.87V596.54M866.97 596.54h6.2M881.83 557.63h6.2M884.93 557.63V593.86M881.83 593.86h6.2M896.7 575.75h6.2M899.8 575.75V597.13M896.7 597.13h6.2M911.57 572.18h6.2M914.67 572.18V592.38M911.57 592.38h6.2M926.43 553.47h6.2M929.53 553.47V589.71M926.43 589.71h6.2M941.3 571h6.2M944.4 571V598.32M941.3 598.32h6.2M956.17 546.05h6.2M959.27 546.05V584.66M956.17 584.66h6.2M971.03 505.95h6.2M974.13 505.95V565.95M971.03 565.95h6.2M985.9 551.1h6.2M989 551.1V583.17M985.9 583.17h6.2M1000.77 559.41h6.2M1003.87 559.41V592.08M1000.77 592.08h6.2" fill="none" stroke="#000" stroke-width="1.3"/>
<polyline points="572.73,617.62 587.6,615.84 602.47,616.44 617.33,611.09 632.2,614.06 647.07,614.06 661.93,616.44 676.8,614.36 691.67,618.22 706.53,605.74 721.4,607.23 736.27,611.68 751.13,605.74 766,598.62 780.87,587.63 795.73,590 810.6,575.75 825.47,592.38 840.33,588.22 855.2,573.67 870.07,570.7 884.93,568.92 899.8,568.92 914.67,576.93 929.53,537.43 944.4,556.44 959.27,572.48 974.13,580.2 989,569.51 1003.87,566.54" class="ln"/>
<path d="M566.43 617.62l6.3 -5.8l6.3 5.8l-6.3 5.8zM581.3 615.84l6.3 -5.8l6.3 5.8l-6.3 5.8zM596.17 616.44l6.3 -5.8l6.3 5.8l-6.3 5.8zM611.03 611.09l6.3 -5.8l6.3 5.8l-6.3 5.8zM625.9 614.06l6.3 -5.8l6.3 5.8l-6.3 5.8zM640.77 614.06l6.3 -5.8l6.3 5.8l-6.3 5.8zM655.63 616.44l6.3 -5.8l6.3 5.8l-6.3 5.8zM670.5 614.36l6.3 -5.8l6.3 5.8l-6.3 5.8zM685.37 618.22l6.3 -5.8l6.3 5.8l-6.3 5.8zM700.23 605.74l6.3 -5.8l6.3 5.8l-6.3 5.8zM715.1 607.23l6.3 -5.8l6.3 5.8l-6.3 5.8zM729.97 611.68l6.3 -5.8l6.3 5.8l-6.3 5.8zM744.83 605.74l6.3 -5.8l6.3 5.8l-6.3 5.8zM759.7 598.62l6.3 -5.8l6.3 5.8l-6.3 5.8zM774.57 587.63l6.3 -5.8l6.3 5.8l-6.3 5.8zM789.43 590l6.3 -5.8l6.3 5.8l-6.3 5.8zM804.3 575.75l6.3 -5.8l6.3 5.8l-6.3 5.8zM819.17 592.38l6.3 -5.8l6.3 5.8l-6.3 5.8zM834.03 588.22l6.3 -5.8l6.3 5.8l-6.3 5.8zM848.9 573.67l6.3 -5.8l6.3 5.8l-6.3 5.8zM863.77 570.7l6.3 -5.8l6.3 5.8l-6.3 5.8zM878.63 568.92l6.3 -5.8l6.3 5.8l-6.3 5.8zM893.5 568.92l6.3 -5.8l6.3 5.8l-6.3 5.8zM908.37 576.93l6.3 -5.8l6.3 5.8l-6.3 5.8zM923.23 537.43l6.3 -5.8l6.3 5.8l-6.3 5.8zM938.1 556.44l6.3 -5.8l6.3 5.8l-6.3 5.8zM952.97 572.48l6.3 -5.8l6.3 5.8l-6.3 5.8zM967.83 580.2l6.3 -5.8l6.3 5.8l-6.3 5.8zM982.7 569.51l6.3 -5.8l6.3 5.8l-6.3 5.8zM997.57 566.54l6.3 -5.8l6.3 5.8l-6.3 5.8z" fill="#d99795" stroke="#000" stroke-width="1"/>
<polyline points="572.73,613.47 587.6,618.22 602.47,613.47 617.33,618.22 632.2,605.74 647.07,609.9 661.93,616.44 676.8,611.68 691.67,598.91 706.53,594.75 721.4,569.21 736.27,575.75 751.13,605.15 766,584.66 780.87,573.67 795.73,592.68 810.6,565.35 825.47,539.81 840.33,571.59 855.2,535.95 870.07,580.2 884.93,575.75 899.8,586.44 914.67,582.28 929.53,571.59 944.4,584.66 959.27,565.35 974.13,535.95 989,567.13 1003.87,575.75" class="ln"/>
<path d="M567.33 608.07h10.8v10.8h-10.8zM582.2 612.82h10.8v10.8h-10.8zM597.07 608.07h10.8v10.8h-10.8zM611.93 612.82h10.8v10.8h-10.8zM626.8 600.34h10.8v10.8h-10.8zM641.67 604.5h10.8v10.8h-10.8zM656.53 611.04h10.8v10.8h-10.8zM671.4 606.28h10.8v10.8h-10.8zM686.27 593.51h10.8v10.8h-10.8zM701.13 589.36h10.8v10.8h-10.8zM716 563.81h10.8v10.8h-10.8zM730.87 570.35h10.8v10.8h-10.8zM745.73 599.75h10.8v10.8h-10.8zM760.6 579.26h10.8v10.8h-10.8zM775.47 568.27h10.8v10.8h-10.8zM790.33 587.28h10.8v10.8h-10.8zM805.2 559.95h10.8v10.8h-10.8zM820.07 534.41h10.8v10.8h-10.8zM834.93 566.19h10.8v10.8h-10.8zM849.8 530.55h10.8v10.8h-10.8zM864.67 574.8h10.8v10.8h-10.8zM879.53 570.35h10.8v10.8h-10.8zM894.4 581.04h10.8v10.8h-10.8zM909.27 576.88h10.8v10.8h-10.8zM924.13 566.19h10.8v10.8h-10.8zM939 579.26h10.8v10.8h-10.8zM953.87 559.95h10.8v10.8h-10.8zM968.73 530.55h10.8v10.8h-10.8zM983.6 561.73h10.8v10.8h-10.8zM998.47 570.35h10.8v10.8h-10.8z" fill="url(#gs)" stroke="#000" stroke-width="1.1"/>
<text x="794" y="340.5" class="ti" textLength="74.5" lengthAdjust="spacingAndGlyphs">Heather</text>
<path d="M914 358.35H939M914 380.1H939" stroke="#000" stroke-width="1.7" fill="none"/>
<path d="M923.15 358.35l3.6 -3.4l3.6 3.4l-3.6 3.4z" fill="#d99795" stroke="#000" stroke-width=".9"/>
<path d="M923.25 376.6h7v7h-7z" fill="#c3d69b" stroke="#000" stroke-width=".9"/>
<text x="941.75" y="361.8" class="lg" textLength="63.5" lengthAdjust="spacingAndGlyphs">North-facing</text>
<text x="941.75" y="383.55" class="lg" textLength="63.5" lengthAdjust="spacingAndGlyphs">South-facing</text>
</g>
</svg></body></html>
